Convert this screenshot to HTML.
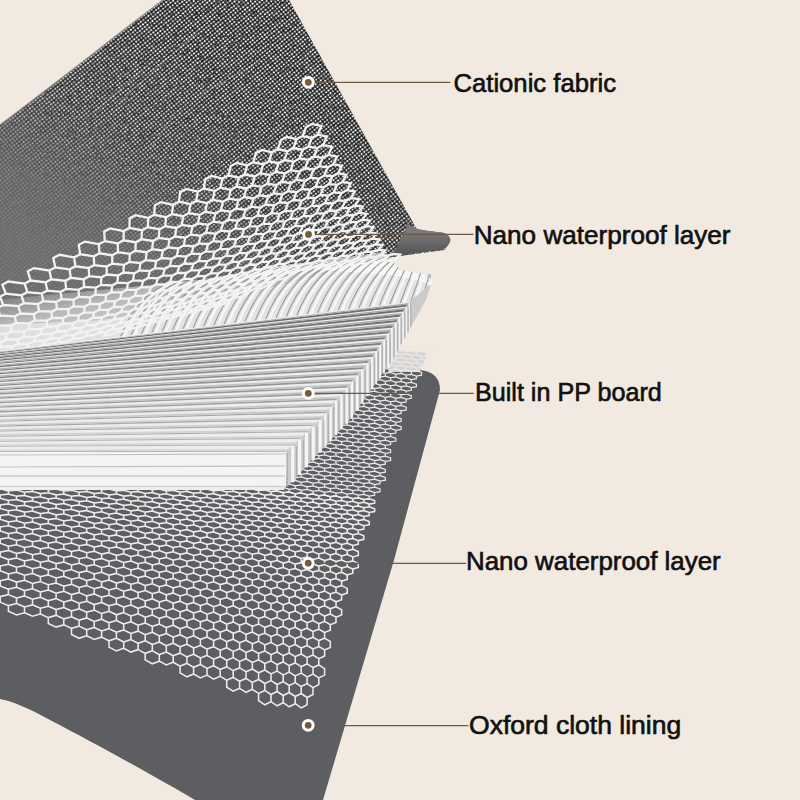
<!DOCTYPE html>
<html><head><meta charset="utf-8">
<style>
html,body{margin:0;padding:0;background:#f2eae1;}
svg{display:block;}
text{font-family:"Liberation Sans",sans-serif;font-size:26px;fill:#111;stroke:#111;stroke-width:0.65px;}
</style></head>
<body>
<svg width="800" height="800" viewBox="0 0 800 800">
<defs>
  <clipPath id="fabClip"><path d="M0 125 C60 80 110 40 163 0 L289 0 L416 228 C418 230 420 231 428 231 L444 233 Q454 240 444 250 L392 257 L300 280 L200 305 L100 320 L-5 325 Z"/></clipPath>
  <clipPath id="curlClip"><path d="M-5 300 L100 290 L200 280 L280 266 L384 252 L400 270 L432 275 L432 291 L408.6 302 L-5 352 Z"/></clipPath>
  <clipPath id="ppTop"><path d="M-5 351 L409.6 302 L406.7 306.3 L403.3 311.3 L399.7 316.6 L396 322 L392.2 327.5 L388.3 333.2 L384.3 339 L380.3 344.8 L376.3 350.8 L372.2 356.7 L367.4 362.8 L362.3 368.9 L357.1 375.1 L351.9 381.3 L346.6 387.5 L341.3 393.8 L336 400.1 L330.6 406.5 L325.2 412.9 L319.8 419.4 L313 425.8 L306.1 432.3 L299.2 438.9 L292.4 445.4 L285.4 452 L284.4 490 L-5 490 Z"/></clipPath>
  <pattern id="dots" width="3.2" height="3.2" patternUnits="userSpaceOnUse" patternTransform="rotate(-38)">
    <rect x="0.5" y="0.6" width="2.2" height="2.0" rx="0.7" fill="#ffffff"/>
  </pattern>
  <filter id="dmod" x="0" y="0" width="460" height="330" filterUnits="userSpaceOnUse">
    <feTurbulence type="fractalNoise" baseFrequency="0.45" numOctaves="2" seed="5" result="n"/>
    <feColorMatrix in="n" type="matrix" values="0 0 0 0 1  0 0 0 0 1  0 0 0 0 1  3.2 0 0 0 -0.5" result="na"/>
    <feComposite in="SourceGraphic" in2="na" operator="in"/>
  </filter>
  <filter id="speck" x="0" y="0" width="460" height="330" filterUnits="userSpaceOnUse">
    <feTurbulence type="fractalNoise" baseFrequency="0.18" numOctaves="2" seed="11" result="t"/>
    <feColorMatrix in="t" type="matrix" values="0 0 0 0 0  0 0 0 0 0  0 0 0 0 0  -2.6 0 0 0 1.6"/>
  </filter>
  <linearGradient id="fabSmooth" gradientUnits="userSpaceOnUse" x1="260" y1="60" x2="120" y2="300">
    <stop offset="0" stop-color="#6e6e6e" stop-opacity="0"/>
    <stop offset="0.45" stop-color="#6e6e6e" stop-opacity="0.2"/>
    <stop offset="0.8" stop-color="#707070" stop-opacity="0.8"/>
    <stop offset="1" stop-color="#727272" stop-opacity="0.9"/>
  </linearGradient>
  <linearGradient id="lipGrad" gradientUnits="userSpaceOnUse" x1="0" y1="229" x2="0" y2="257">
    <stop offset="0" stop-color="#7c7c7c"/>
    <stop offset="0.4" stop-color="#6c6c6c"/>
    <stop offset="1" stop-color="#505050"/>
  </linearGradient>
  <linearGradient id="curlGrad" gradientUnits="userSpaceOnUse" x1="150" y1="255" x2="170" y2="340">
    <stop offset="0" stop-color="#d8d8d8" stop-opacity="0.0"/>
    <stop offset="0.4" stop-color="#d8d8d8" stop-opacity="0.7"/>
    <stop offset="1" stop-color="#e4e4e4" stop-opacity="0.95"/>
  </linearGradient>
</defs>

<rect width="800" height="800" fill="#f2eae1"/>

<!-- Oxford cloth lining -->
<path d="M-5 450 L380 368 L420 370 Q440 372 440 390 L394 560 L323 800 L195 800 C165 782 100 746 50 720 C30 709 12 701 0 699 Z" fill="#5d5e62"/>

<!-- lower mesh -->
<path d="M396 351 L428 352 L420 372 L388 372 Z" fill="#d8d5d0"/>
<path d="M395.8 345 401.1 346.8 401.1 349.4 395.8 350.3 390.6 348.5 390.6 345.9ZM406.2 345.9 411.3 347.6 411.3 350.3 406.2 351.2 401.1 349.4 401.1 346.8ZM416.4 346.7 421.5 348.5 421.5 351.2 416.4 352.1 411.3 350.3 411.3 347.6ZM426.5 347.6 431.5 349.3 431.5 352 426.5 352.9 421.5 351.2 421.5 348.5ZM380 347.6 385.3 349.4 385.3 352.1 380 353 374.6 351.2 374.6 348.5ZM390.6 348.5 395.8 350.3 395.8 353 390.6 353.9 385.3 352.1 385.3 349.4ZM401.1 349.4 406.2 351.2 406.2 353.9 401.1 354.8 395.8 353 395.8 350.3ZM411.3 350.3 416.4 352.1 416.4 354.7 411.3 355.6 406.2 353.9 406.2 351.2ZM421.5 351.2 426.5 352.9 426.5 355.6 421.5 356.5 416.4 354.7 416.4 352.1ZM374.6 351.2 380 353 380 355.6 374.6 356.5 369.2 354.7 369.2 352.1ZM385.3 352.1 390.6 353.9 390.6 356.5 385.3 357.4 380 355.6 380 353ZM395.8 353 401.1 354.8 401.1 357.4 395.8 358.3 390.6 356.5 390.6 353.9ZM406.2 353.9 411.3 355.6 411.3 358.3 406.2 359.2 401.1 357.4 401.1 354.8ZM416.4 354.7 421.5 356.5 421.5 359.2 416.4 360.1 411.3 358.3 411.3 355.6ZM369.2 354.7 374.6 356.5 374.6 359.2 369.2 360.1 363.8 358.3 363.8 355.6ZM380 355.6 385.3 357.4 385.3 360.1 380 361 374.6 359.2 374.6 356.5ZM390.6 356.5 395.8 358.3 395.8 361 390.6 361.9 385.3 360.1 385.3 357.4ZM401.1 357.4 406.2 359.2 406.2 361.9 401.1 362.8 395.8 361 395.8 358.3ZM411.3 358.3 416.4 360.1 416.4 362.7 411.3 363.6 406.2 361.9 406.2 359.2ZM421.5 359.2 426.5 360.9 426.5 363.6 421.5 364.5 416.4 362.7 416.4 360.1ZM352.8 357.3 358.3 359.1 358.3 361.8 352.8 362.7 347.2 360.8 347.2 358.2ZM363.8 358.3 369.2 360.1 369.2 362.7 363.8 363.6 358.3 361.8 358.3 359.1ZM374.6 359.2 380 361 380 363.6 374.6 364.5 369.2 362.7 369.2 360.1ZM385.3 360.1 390.6 361.9 390.6 364.5 385.3 365.4 380 363.6 380 361ZM395.8 361 401.1 362.8 401.1 365.4 395.8 366.3 390.6 364.5 390.6 361.9ZM406.2 361.9 411.3 363.6 411.3 366.3 406.2 367.2 401.1 365.4 401.1 362.8ZM416.4 362.7 421.5 364.5 421.5 367.2 416.4 368.1 411.3 366.3 411.3 363.6ZM347.2 360.8 352.8 362.7 352.8 365.3 347.2 366.2 341.6 364.4 341.6 361.7ZM358.3 361.8 363.8 363.6 363.8 366.3 358.3 367.1 352.8 365.3 352.8 362.7ZM369.2 362.7 374.6 364.5 374.6 367.2 369.2 368.1 363.8 366.3 363.8 363.6ZM380 363.6 385.3 365.4 385.3 368.1 380 369 374.6 367.2 374.6 364.5ZM390.6 364.5 395.8 366.3 395.8 369 390.6 369.9 385.3 368.1 385.3 365.4ZM401.1 365.4 406.2 367.2 406.2 369.9 401.1 370.8 395.8 369 395.8 366.3ZM411.3 366.3 416.4 368.1 416.4 370.7 411.3 371.6 406.2 369.9 406.2 367.2ZM330.3 363.4 336 365.2 336 367.9 330.3 368.7 324.6 366.9 324.6 364.3ZM341.6 364.4 347.2 366.2 347.2 368.8 341.6 369.7 336 367.9 336 365.2ZM352.8 365.3 358.3 367.1 358.3 369.8 352.8 370.7 347.2 368.8 347.2 366.2ZM363.8 366.3 369.2 368.1 369.2 370.7 363.8 371.6 358.3 369.8 358.3 367.1ZM374.6 367.2 380 369 380 371.6 374.6 372.5 369.2 370.7 369.2 368.1ZM385.3 368.1 390.6 369.9 390.6 372.5 385.3 373.4 380 371.6 380 369ZM395.8 369 401.1 370.8 401.1 373.4 395.8 374.3 390.6 372.5 390.6 369.9ZM406.2 369.9 411.3 371.6 411.3 374.3 406.2 375.2 401.1 373.4 401.1 370.8ZM416.4 370.7 421.5 372.5 421.5 375.2 416.4 376.1 411.3 374.3 411.3 371.6ZM324.6 366.9 330.3 368.7 330.3 371.4 324.6 372.3 318.8 370.4 318.8 367.8ZM336 367.9 341.6 369.7 341.6 372.4 336 373.2 330.3 371.4 330.3 368.7ZM347.2 368.8 352.8 370.7 352.8 373.3 347.2 374.2 341.6 372.4 341.6 369.7ZM358.3 369.8 363.8 371.6 363.8 374.3 358.3 375.1 352.8 373.3 352.8 370.7ZM369.2 370.7 374.6 372.5 374.6 375.2 369.2 376.1 363.8 374.3 363.8 371.6ZM380 371.6 385.3 373.4 385.3 376.1 380 377 374.6 375.2 374.6 372.5ZM390.6 372.5 395.8 374.3 395.8 377 390.6 377.9 385.3 376.1 385.3 373.4ZM401.1 373.4 406.2 375.2 406.2 377.9 401.1 378.8 395.8 377 395.8 374.3ZM411.3 374.3 416.4 376.1 416.4 378.7 411.3 379.6 406.2 377.9 406.2 375.2ZM307.1 369.4 313 371.3 313 373.9 307.1 374.8 301.2 372.9 301.2 370.3ZM318.8 370.4 324.6 372.3 324.6 374.9 318.8 375.8 313 373.9 313 371.3ZM330.3 371.4 336 373.2 336 375.9 330.3 376.7 324.6 374.9 324.6 372.3ZM341.6 372.4 347.2 374.2 347.2 376.8 341.6 377.7 336 375.9 336 373.2ZM352.8 373.3 358.3 375.1 358.3 377.8 352.8 378.7 347.2 376.8 347.2 374.2ZM363.8 374.3 369.2 376.1 369.2 378.7 363.8 379.6 358.3 377.8 358.3 375.1ZM374.6 375.2 380 377 380 379.6 374.6 380.5 369.2 378.7 369.2 376.1ZM385.3 376.1 390.6 377.9 390.6 380.5 385.3 381.4 380 379.6 380 377ZM395.8 377 401.1 378.8 401.1 381.4 395.8 382.3 390.6 380.5 390.6 377.9ZM406.2 377.9 411.3 379.6 411.3 382.3 406.2 383.2 401.1 381.4 401.1 378.8ZM301.2 372.9 307.1 374.8 307.1 377.4 301.2 378.3 295.2 376.4 295.2 373.8ZM313 373.9 318.8 375.8 318.8 378.4 313 379.3 307.1 377.4 307.1 374.8ZM324.6 374.9 330.3 376.7 330.3 379.4 324.6 380.3 318.8 378.4 318.8 375.8ZM336 375.9 341.6 377.7 341.6 380.4 336 381.2 330.3 379.4 330.3 376.7ZM347.2 376.8 352.8 378.7 352.8 381.3 347.2 382.2 341.6 380.4 341.6 377.7ZM358.3 377.8 363.8 379.6 363.8 382.3 358.3 383.1 352.8 381.3 352.8 378.7ZM369.2 378.7 374.6 380.5 374.6 383.2 369.2 384.1 363.8 382.3 363.8 379.6ZM380 379.6 385.3 381.4 385.3 384.1 380 385 374.6 383.2 374.6 380.5ZM390.6 380.5 395.8 382.3 395.8 385 390.6 385.9 385.3 384.1 385.3 381.4ZM401.1 381.4 406.2 383.2 406.2 385.9 401.1 386.8 395.8 385 395.8 382.3ZM411.3 382.3 416.4 384.1 416.4 386.7 411.3 387.6 406.2 385.9 406.2 383.2ZM295.2 376.4 301.2 378.3 301.2 380.9 295.2 381.8 289.2 379.9 289.2 377.3ZM307.1 377.4 313 379.3 313 381.9 307.1 382.8 301.2 380.9 301.2 378.3ZM318.8 378.4 324.6 380.3 324.6 382.9 318.8 383.8 313 381.9 313 379.3ZM330.3 379.4 336 381.2 336 383.9 330.3 384.7 324.6 382.9 324.6 380.3ZM341.6 380.4 347.2 382.2 347.2 384.8 341.6 385.7 336 383.9 336 381.2ZM352.8 381.3 358.3 383.1 358.3 385.8 352.8 386.7 347.2 384.8 347.2 382.2ZM363.8 382.3 369.2 384.1 369.2 386.7 363.8 387.6 358.3 385.8 358.3 383.1ZM374.6 383.2 380 385 380 387.6 374.6 388.5 369.2 386.7 369.2 384.1ZM385.3 384.1 390.6 385.9 390.6 388.5 385.3 389.4 380 387.6 380 385ZM395.8 385 401.1 386.8 401.1 389.4 395.8 390.3 390.6 388.5 390.6 385.9ZM406.2 385.9 411.3 387.6 411.3 390.3 406.2 391.2 401.1 389.4 401.1 386.8ZM277.1 378.9 283.2 380.7 283.2 383.4 277.1 384.2 271 382.4 271 379.7ZM289.2 379.9 295.2 381.8 295.2 384.4 289.2 385.3 283.2 383.4 283.2 380.7ZM301.2 380.9 307.1 382.8 307.1 385.4 301.2 386.3 295.2 384.4 295.2 381.8ZM313 381.9 318.8 383.8 318.8 386.4 313 387.3 307.1 385.4 307.1 382.8ZM324.6 382.9 330.3 384.7 330.3 387.4 324.6 388.3 318.8 386.4 318.8 383.8ZM336 383.9 341.6 385.7 341.6 388.4 336 389.2 330.3 387.4 330.3 384.7ZM347.2 384.8 352.8 386.7 352.8 389.3 347.2 390.2 341.6 388.4 341.6 385.7ZM358.3 385.8 363.8 387.6 363.8 390.3 358.3 391.1 352.8 389.3 352.8 386.7ZM369.2 386.7 374.6 388.5 374.6 391.2 369.2 392.1 363.8 390.3 363.8 387.6ZM380 387.6 385.3 389.4 385.3 392.1 380 393 374.6 391.2 374.6 388.5ZM390.6 388.5 395.8 390.3 395.8 393 390.6 393.9 385.3 392.1 385.3 389.4ZM401.1 389.4 406.2 391.2 406.2 393.9 401.1 394.8 395.8 393 395.8 390.3ZM271 382.4 277.1 384.2 277.1 386.9 271 387.7 264.8 385.8 264.8 383.2ZM283.2 383.4 289.2 385.3 289.2 387.9 283.2 388.7 277.1 386.9 277.1 384.2ZM295.2 384.4 301.2 386.3 301.2 388.9 295.2 389.8 289.2 387.9 289.2 385.3ZM307.1 385.4 313 387.3 313 389.9 307.1 390.8 301.2 388.9 301.2 386.3ZM318.8 386.4 324.6 388.3 324.6 390.9 318.8 391.8 313 389.9 313 387.3ZM330.3 387.4 336 389.2 336 391.9 330.3 392.7 324.6 390.9 324.6 388.3ZM341.6 388.4 347.2 390.2 347.2 392.8 341.6 393.7 336 391.9 336 389.2ZM352.8 389.3 358.3 391.1 358.3 393.8 352.8 394.7 347.2 392.8 347.2 390.2ZM363.8 390.3 369.2 392.1 369.2 394.7 363.8 395.6 358.3 393.8 358.3 391.1ZM374.6 391.2 380 393 380 395.6 374.6 396.5 369.2 394.7 369.2 392.1ZM385.3 392.1 390.6 393.9 390.6 396.5 385.3 397.4 380 395.6 380 393ZM395.8 393 401.1 394.8 401.1 397.4 395.8 398.3 390.6 396.5 390.6 393.9ZM406.2 393.9 411.3 395.6 411.3 398.3 406.2 399.2 401.1 397.4 401.1 394.8ZM264.8 385.8 271 387.7 271 390.4 264.8 391.2 258.6 389.3 258.6 386.6ZM277.1 386.9 283.2 388.7 283.2 391.4 277.1 392.2 271 390.4 271 387.7ZM289.2 387.9 295.2 389.8 295.2 392.4 289.2 393.3 283.2 391.4 283.2 388.7ZM301.2 388.9 307.1 390.8 307.1 393.4 301.2 394.3 295.2 392.4 295.2 389.8ZM313 389.9 318.8 391.8 318.8 394.4 313 395.3 307.1 393.4 307.1 390.8ZM324.6 390.9 330.3 392.7 330.3 395.4 324.6 396.3 318.8 394.4 318.8 391.8ZM336 391.9 341.6 393.7 341.6 396.4 336 397.2 330.3 395.4 330.3 392.7ZM347.2 392.8 352.8 394.7 352.8 397.3 347.2 398.2 341.6 396.4 341.6 393.7ZM358.3 393.8 363.8 395.6 363.8 398.3 358.3 399.1 352.8 397.3 352.8 394.7ZM369.2 394.7 374.6 396.5 374.6 399.2 369.2 400.1 363.8 398.3 363.8 395.6ZM380 395.6 385.3 397.4 385.3 400.1 380 401 374.6 399.2 374.6 396.5ZM390.6 396.5 395.8 398.3 395.8 401 390.6 401.9 385.3 400.1 385.3 397.4ZM401.1 397.4 406.2 399.2 406.2 401.9 401.1 402.8 395.8 401 395.8 398.3ZM246 388.2 252.3 390.1 252.3 392.8 246 393.6 239.6 391.7 239.6 389ZM258.6 389.3 264.8 391.2 264.8 393.8 258.6 394.6 252.3 392.8 252.3 390.1ZM271 390.4 277.1 392.2 277.1 394.9 271 395.7 264.8 393.8 264.8 391.2ZM283.2 391.4 289.2 393.3 289.2 395.9 283.2 396.7 277.1 394.9 277.1 392.2ZM295.2 392.4 301.2 394.3 301.2 396.9 295.2 397.8 289.2 395.9 289.2 393.3ZM307.1 393.4 313 395.3 313 397.9 307.1 398.8 301.2 396.9 301.2 394.3ZM318.8 394.4 324.6 396.3 324.6 398.9 318.8 399.8 313 397.9 313 395.3ZM330.3 395.4 336 397.2 336 399.9 330.3 400.7 324.6 398.9 324.6 396.3ZM341.6 396.4 347.2 398.2 347.2 400.8 341.6 401.7 336 399.9 336 397.2ZM352.8 397.3 358.3 399.1 358.3 401.8 352.8 402.7 347.2 400.8 347.2 398.2ZM363.8 398.3 369.2 400.1 369.2 402.7 363.8 403.6 358.3 401.8 358.3 399.1ZM374.6 399.2 380 401 380 403.6 374.6 404.5 369.2 402.7 369.2 400.1ZM385.3 400.1 390.6 401.9 390.6 404.5 385.3 405.4 380 403.6 380 401ZM395.8 401 401.1 402.8 401.1 405.4 395.8 406.3 390.6 404.5 390.6 401.9ZM239.6 391.7 246 393.6 246 396.2 239.6 397 233.2 395.2 233.2 392.5ZM252.3 392.8 258.6 394.6 258.6 397.3 252.3 398.1 246 396.2 246 393.6ZM264.8 393.8 271 395.7 271 398.4 264.8 399.2 258.6 397.3 258.6 394.6ZM277.1 394.9 283.2 396.7 283.2 399.4 277.1 400.2 271 398.4 271 395.7ZM289.2 395.9 295.2 397.8 295.2 400.4 289.2 401.3 283.2 399.4 283.2 396.7ZM301.2 396.9 307.1 398.8 307.1 401.4 301.2 402.3 295.2 400.4 295.2 397.8ZM313 397.9 318.8 399.8 318.8 402.4 313 403.3 307.1 401.4 307.1 398.8ZM324.6 398.9 330.3 400.7 330.3 403.4 324.6 404.3 318.8 402.4 318.8 399.8ZM336 399.9 341.6 401.7 341.6 404.4 336 405.2 330.3 403.4 330.3 400.7ZM347.2 400.8 352.8 402.7 352.8 405.3 347.2 406.2 341.6 404.4 341.6 401.7ZM358.3 401.8 363.8 403.6 363.8 406.3 358.3 407.1 352.8 405.3 352.8 402.7ZM369.2 402.7 374.6 404.5 374.6 407.2 369.2 408.1 363.8 406.3 363.8 403.6ZM380 403.6 385.3 405.4 385.3 408.1 380 409 374.6 407.2 374.6 404.5ZM390.6 404.5 395.8 406.3 395.8 409 390.6 409.9 385.3 408.1 385.3 405.4ZM401.1 405.4 406.2 407.2 406.2 409.9 401.1 410.8 395.8 409 395.8 406.3ZM233.2 395.2 239.6 397 239.6 399.7 233.2 400.5 226.7 398.6 226.7 395.9ZM246 396.2 252.3 398.1 252.3 400.8 246 401.6 239.6 399.7 239.6 397ZM258.6 397.3 264.8 399.2 264.8 401.8 258.6 402.6 252.3 400.8 252.3 398.1ZM271 398.4 277.1 400.2 277.1 402.9 271 403.7 264.8 401.8 264.8 399.2ZM283.2 399.4 289.2 401.3 289.2 403.9 283.2 404.7 277.1 402.9 277.1 400.2ZM295.2 400.4 301.2 402.3 301.2 404.9 295.2 405.8 289.2 403.9 289.2 401.3ZM307.1 401.4 313 403.3 313 405.9 307.1 406.8 301.2 404.9 301.2 402.3ZM318.8 402.4 324.6 404.3 324.6 406.9 318.8 407.8 313 405.9 313 403.3ZM330.3 403.4 336 405.2 336 407.9 330.3 408.7 324.6 406.9 324.6 404.3ZM341.6 404.4 347.2 406.2 347.2 408.8 341.6 409.7 336 407.9 336 405.2ZM352.8 405.3 358.3 407.1 358.3 409.8 352.8 410.7 347.2 408.8 347.2 406.2ZM363.8 406.3 369.2 408.1 369.2 410.7 363.8 411.6 358.3 409.8 358.3 407.1ZM374.6 407.2 380 409 380 411.6 374.6 412.5 369.2 410.7 369.2 408.1ZM385.3 408.1 390.6 409.9 390.6 412.5 385.3 413.4 380 411.6 380 409ZM395.8 409 401.1 410.8 401.1 413.4 395.8 414.3 390.6 412.5 390.6 409.9ZM213.6 397.5 220.2 399.4 220.2 402 213.6 402.8 207 400.9 207 398.3ZM226.7 398.6 233.2 400.5 233.2 403.2 226.7 403.9 220.2 402 220.2 399.4ZM239.6 399.7 246 401.6 246 404.2 239.6 405 233.2 403.2 233.2 400.5ZM252.3 400.8 258.6 402.6 258.6 405.3 252.3 406.1 246 404.2 246 401.6ZM264.8 401.8 271 403.7 271 406.4 264.8 407.2 258.6 405.3 258.6 402.6ZM277.1 402.9 283.2 404.7 283.2 407.4 277.1 408.2 271 406.4 271 403.7ZM289.2 403.9 295.2 405.8 295.2 408.4 289.2 409.3 283.2 407.4 283.2 404.7ZM301.2 404.9 307.1 406.8 307.1 409.4 301.2 410.3 295.2 408.4 295.2 405.8ZM313 405.9 318.8 407.8 318.8 410.4 313 411.3 307.1 409.4 307.1 406.8ZM324.6 406.9 330.3 408.7 330.3 411.4 324.6 412.3 318.8 410.4 318.8 407.8ZM336 407.9 341.6 409.7 341.6 412.4 336 413.2 330.3 411.4 330.3 408.7ZM347.2 408.8 352.8 410.7 352.8 413.3 347.2 414.2 341.6 412.4 341.6 409.7ZM358.3 409.8 363.8 411.6 363.8 414.3 358.3 415.1 352.8 413.3 352.8 410.7ZM369.2 410.7 374.6 412.5 374.6 415.2 369.2 416.1 363.8 414.3 363.8 411.6ZM380 411.6 385.3 413.4 385.3 416.1 380 417 374.6 415.2 374.6 412.5ZM390.6 412.5 395.8 414.3 395.8 417 390.6 417.9 385.3 416.1 385.3 413.4ZM207 400.9 213.6 402.8 213.6 405.5 207 406.3 200.4 404.4 200.4 401.7ZM220.2 402 226.7 403.9 226.7 406.6 220.2 407.4 213.6 405.5 213.6 402.8ZM233.2 403.2 239.6 405 239.6 407.7 233.2 408.5 226.7 406.6 226.7 403.9ZM246 404.2 252.3 406.1 252.3 408.8 246 409.6 239.6 407.7 239.6 405ZM258.6 405.3 264.8 407.2 264.8 409.8 258.6 410.6 252.3 408.8 252.3 406.1ZM271 406.4 277.1 408.2 277.1 410.9 271 411.7 264.8 409.8 264.8 407.2ZM283.2 407.4 289.2 409.3 289.2 411.9 283.2 412.7 277.1 410.9 277.1 408.2ZM295.2 408.4 301.2 410.3 301.2 412.9 295.2 413.8 289.2 411.9 289.2 409.3ZM307.1 409.4 313 411.3 313 413.9 307.1 414.8 301.2 412.9 301.2 410.3ZM318.8 410.4 324.6 412.3 324.6 414.9 318.8 415.8 313 413.9 313 411.3ZM330.3 411.4 336 413.2 336 415.9 330.3 416.7 324.6 414.9 324.6 412.3ZM341.6 412.4 347.2 414.2 347.2 416.8 341.6 417.7 336 415.9 336 413.2ZM352.8 413.3 358.3 415.1 358.3 417.8 352.8 418.7 347.2 416.8 347.2 414.2ZM363.8 414.3 369.2 416.1 369.2 418.7 363.8 419.6 358.3 417.8 358.3 415.1ZM374.6 415.2 380 417 380 419.6 374.6 420.5 369.2 418.7 369.2 416.1ZM385.3 416.1 390.6 417.9 390.6 420.5 385.3 421.4 380 419.6 380 417ZM395.8 417 401.1 418.8 401.1 421.4 395.8 422.3 390.6 420.5 390.6 417.9ZM200.4 404.4 207 406.3 207 408.9 200.4 409.7 193.6 407.8 193.6 405.1ZM213.6 405.5 220.2 407.4 220.2 410 213.6 410.8 207 408.9 207 406.3ZM226.7 406.6 233.2 408.5 233.2 411.2 226.7 411.9 220.2 410 220.2 407.4ZM239.6 407.7 246 409.6 246 412.2 239.6 413 233.2 411.2 233.2 408.5ZM252.3 408.8 258.6 410.6 258.6 413.3 252.3 414.1 246 412.2 246 409.6ZM264.8 409.8 271 411.7 271 414.4 264.8 415.2 258.6 413.3 258.6 410.6ZM277.1 410.9 283.2 412.7 283.2 415.4 277.1 416.2 271 414.4 271 411.7ZM289.2 411.9 295.2 413.8 295.2 416.4 289.2 417.3 283.2 415.4 283.2 412.7ZM301.2 412.9 307.1 414.8 307.1 417.4 301.2 418.3 295.2 416.4 295.2 413.8ZM313 413.9 318.8 415.8 318.8 418.4 313 419.3 307.1 417.4 307.1 414.8ZM324.6 414.9 330.3 416.7 330.3 419.4 324.6 420.3 318.8 418.4 318.8 415.8ZM336 415.9 341.6 417.7 341.6 420.4 336 421.2 330.3 419.4 330.3 416.7ZM347.2 416.8 352.8 418.7 352.8 421.3 347.2 422.2 341.6 420.4 341.6 417.7ZM358.3 417.8 363.8 419.6 363.8 422.3 358.3 423.1 352.8 421.3 352.8 418.7ZM369.2 418.7 374.6 420.5 374.6 423.2 369.2 424.1 363.8 422.3 363.8 419.6ZM380 419.6 385.3 421.4 385.3 424.1 380 425 374.6 423.2 374.6 420.5ZM390.6 420.5 395.8 422.3 395.8 425 390.6 425.9 385.3 424.1 385.3 421.4ZM180.1 406.6 186.9 408.6 186.9 411.2 180.1 412 173.2 410.1 173.2 407.4ZM193.6 407.8 200.4 409.7 200.4 412.4 193.6 413.1 186.9 411.2 186.9 408.6ZM207 408.9 213.6 410.8 213.6 413.5 207 414.3 200.4 412.4 200.4 409.7ZM220.2 410 226.7 411.9 226.7 414.6 220.2 415.4 213.6 413.5 213.6 410.8ZM233.2 411.2 239.6 413 239.6 415.7 233.2 416.5 226.7 414.6 226.7 411.9ZM246 412.2 252.3 414.1 252.3 416.8 246 417.6 239.6 415.7 239.6 413ZM258.6 413.3 264.8 415.2 264.8 417.8 258.6 418.6 252.3 416.8 252.3 414.1ZM271 414.4 277.1 416.2 277.1 418.9 271 419.7 264.8 417.8 264.8 415.2ZM283.2 415.4 289.2 417.3 289.2 419.9 283.2 420.7 277.1 418.9 277.1 416.2ZM295.2 416.4 301.2 418.3 301.2 420.9 295.2 421.8 289.2 419.9 289.2 417.3ZM307.1 417.4 313 419.3 313 421.9 307.1 422.8 301.2 420.9 301.2 418.3ZM318.8 418.4 324.6 420.3 324.6 422.9 318.8 423.8 313 421.9 313 419.3ZM330.3 419.4 336 421.2 336 423.9 330.3 424.7 324.6 422.9 324.6 420.3ZM341.6 420.4 347.2 422.2 347.2 424.8 341.6 425.7 336 423.9 336 421.2ZM352.8 421.3 358.3 423.1 358.3 425.8 352.8 426.7 347.2 424.8 347.2 422.2ZM363.8 422.3 369.2 424.1 369.2 426.7 363.8 427.6 358.3 425.8 358.3 423.1ZM374.6 423.2 380 425 380 427.6 374.6 428.5 369.2 426.7 369.2 424.1ZM385.3 424.1 390.6 425.9 390.6 428.5 385.3 429.4 380 427.6 380 425ZM395.8 425 401.1 426.8 401.1 429.4 395.8 430.3 390.6 428.5 390.6 425.9ZM173.2 410.1 180.1 412 180.1 414.6 173.2 415.4 166.3 413.5 166.3 410.8ZM186.9 411.2 193.6 413.1 193.6 415.8 186.9 416.6 180.1 414.6 180.1 412ZM200.4 412.4 207 414.3 207 416.9 200.4 417.7 193.6 415.8 193.6 413.1ZM213.6 413.5 220.2 415.4 220.2 418 213.6 418.8 207 416.9 207 414.3ZM226.7 414.6 233.2 416.5 233.2 419.2 226.7 419.9 220.2 418 220.2 415.4ZM239.6 415.7 246 417.6 246 420.2 239.6 421 233.2 419.2 233.2 416.5ZM252.3 416.8 258.6 418.6 258.6 421.3 252.3 422.1 246 420.2 246 417.6ZM264.8 417.8 271 419.7 271 422.4 264.8 423.2 258.6 421.3 258.6 418.6ZM277.1 418.9 283.2 420.7 283.2 423.4 277.1 424.2 271 422.4 271 419.7ZM289.2 419.9 295.2 421.8 295.2 424.4 289.2 425.3 283.2 423.4 283.2 420.7ZM301.2 420.9 307.1 422.8 307.1 425.4 301.2 426.3 295.2 424.4 295.2 421.8ZM313 421.9 318.8 423.8 318.8 426.4 313 427.3 307.1 425.4 307.1 422.8ZM324.6 422.9 330.3 424.7 330.3 427.4 324.6 428.3 318.8 426.4 318.8 423.8ZM336 423.9 341.6 425.7 341.6 428.4 336 429.2 330.3 427.4 330.3 424.7ZM347.2 424.8 352.8 426.7 352.8 429.3 347.2 430.2 341.6 428.4 341.6 425.7ZM358.3 425.8 363.8 427.6 363.8 430.3 358.3 431.1 352.8 429.3 352.8 426.7ZM369.2 426.7 374.6 428.5 374.6 431.2 369.2 432.1 363.8 430.3 363.8 427.6ZM380 427.6 385.3 429.4 385.3 432.1 380 433 374.6 431.2 374.6 428.5ZM390.6 428.5 395.8 430.3 395.8 433 390.6 433.9 385.3 432.1 385.3 429.4ZM166.3 413.5 173.2 415.4 173.2 418.1 166.3 418.8 159.3 416.9 159.3 414.2ZM180.1 414.6 186.9 416.6 186.9 419.2 180.1 420 173.2 418.1 173.2 415.4ZM193.6 415.8 200.4 417.7 200.4 420.4 193.6 421.1 186.9 419.2 186.9 416.6ZM207 416.9 213.6 418.8 213.6 421.5 207 422.3 200.4 420.4 200.4 417.7ZM220.2 418 226.7 419.9 226.7 422.6 220.2 423.4 213.6 421.5 213.6 418.8ZM233.2 419.2 239.6 421 239.6 423.7 233.2 424.5 226.7 422.6 226.7 419.9ZM246 420.2 252.3 422.1 252.3 424.8 246 425.6 239.6 423.7 239.6 421ZM258.6 421.3 264.8 423.2 264.8 425.8 258.6 426.6 252.3 424.8 252.3 422.1ZM271 422.4 277.1 424.2 277.1 426.9 271 427.7 264.8 425.8 264.8 423.2ZM283.2 423.4 289.2 425.3 289.2 427.9 283.2 428.7 277.1 426.9 277.1 424.2ZM295.2 424.4 301.2 426.3 301.2 428.9 295.2 429.8 289.2 427.9 289.2 425.3ZM307.1 425.4 313 427.3 313 429.9 307.1 430.8 301.2 428.9 301.2 426.3ZM318.8 426.4 324.6 428.3 324.6 430.9 318.8 431.8 313 429.9 313 427.3ZM330.3 427.4 336 429.2 336 431.9 330.3 432.7 324.6 430.9 324.6 428.3ZM341.6 428.4 347.2 430.2 347.2 432.8 341.6 433.7 336 431.9 336 429.2ZM352.8 429.3 358.3 431.1 358.3 433.8 352.8 434.7 347.2 432.8 347.2 430.2ZM363.8 430.3 369.2 432.1 369.2 434.7 363.8 435.6 358.3 433.8 358.3 431.1ZM374.6 431.2 380 433 380 435.6 374.6 436.5 369.2 434.7 369.2 432.1ZM385.3 432.1 390.6 433.9 390.6 436.5 385.3 437.4 380 435.6 380 433ZM159.3 416.9 166.3 418.8 166.3 421.5 159.3 422.2 152.3 420.3 152.3 417.6ZM173.2 418.1 180.1 420 180.1 422.6 173.2 423.4 166.3 421.5 166.3 418.8ZM186.9 419.2 193.6 421.1 193.6 423.8 186.9 424.6 180.1 422.6 180.1 420ZM200.4 420.4 207 422.3 207 424.9 200.4 425.7 193.6 423.8 193.6 421.1ZM213.6 421.5 220.2 423.4 220.2 426 213.6 426.8 207 424.9 207 422.3ZM226.7 422.6 233.2 424.5 233.2 427.2 226.7 427.9 220.2 426 220.2 423.4ZM239.6 423.7 246 425.6 246 428.2 239.6 429 233.2 427.2 233.2 424.5ZM252.3 424.8 258.6 426.6 258.6 429.3 252.3 430.1 246 428.2 246 425.6ZM264.8 425.8 271 427.7 271 430.4 264.8 431.2 258.6 429.3 258.6 426.6ZM277.1 426.9 283.2 428.7 283.2 431.4 277.1 432.2 271 430.4 271 427.7ZM289.2 427.9 295.2 429.8 295.2 432.4 289.2 433.3 283.2 431.4 283.2 428.7ZM301.2 428.9 307.1 430.8 307.1 433.4 301.2 434.3 295.2 432.4 295.2 429.8ZM313 429.9 318.8 431.8 318.8 434.4 313 435.3 307.1 433.4 307.1 430.8ZM324.6 430.9 330.3 432.7 330.3 435.4 324.6 436.3 318.8 434.4 318.8 431.8ZM336 431.9 341.6 433.7 341.6 436.4 336 437.2 330.3 435.4 330.3 432.7ZM347.2 432.8 352.8 434.7 352.8 437.3 347.2 438.2 341.6 436.4 341.6 433.7ZM358.3 433.8 363.8 435.6 363.8 438.3 358.3 439.1 352.8 437.3 352.8 434.7ZM369.2 434.7 374.6 436.5 374.6 439.2 369.2 440.1 363.8 438.3 363.8 435.6ZM380 435.6 385.3 437.4 385.3 440.1 380 441 374.6 439.2 374.6 436.5ZM390.6 436.5 395.8 438.3 395.8 441 390.6 441.9 385.3 440.1 385.3 437.4ZM138.1 419.1 145.2 421 145.2 423.7 138.1 424.4 130.9 422.5 130.9 419.8ZM152.3 420.3 159.3 422.2 159.3 424.9 152.3 425.6 145.2 423.7 145.2 421ZM166.3 421.5 173.2 423.4 173.2 426.1 166.3 426.8 159.3 424.9 159.3 422.2ZM180.1 422.6 186.9 424.6 186.9 427.2 180.1 428 173.2 426.1 173.2 423.4ZM193.6 423.8 200.4 425.7 200.4 428.4 193.6 429.1 186.9 427.2 186.9 424.6ZM207 424.9 213.6 426.8 213.6 429.5 207 430.3 200.4 428.4 200.4 425.7ZM220.2 426 226.7 427.9 226.7 430.6 220.2 431.4 213.6 429.5 213.6 426.8ZM233.2 427.2 239.6 429 239.6 431.7 233.2 432.5 226.7 430.6 226.7 427.9ZM246 428.2 252.3 430.1 252.3 432.8 246 433.6 239.6 431.7 239.6 429ZM258.6 429.3 264.8 431.2 264.8 433.8 258.6 434.6 252.3 432.8 252.3 430.1ZM271 430.4 277.1 432.2 277.1 434.9 271 435.7 264.8 433.8 264.8 431.2ZM283.2 431.4 289.2 433.3 289.2 435.9 283.2 436.7 277.1 434.9 277.1 432.2ZM295.2 432.4 301.2 434.3 301.2 436.9 295.2 437.8 289.2 435.9 289.2 433.3ZM307.1 433.4 313 435.3 313 437.9 307.1 438.8 301.2 436.9 301.2 434.3ZM318.8 434.4 324.6 436.3 324.6 438.9 318.8 439.8 313 437.9 313 435.3ZM330.3 435.4 336 437.2 336 439.9 330.3 440.7 324.6 438.9 324.6 436.3ZM341.6 436.4 347.2 438.2 347.2 440.8 341.6 441.7 336 439.9 336 437.2ZM352.8 437.3 358.3 439.1 358.3 441.8 352.8 442.7 347.2 440.8 347.2 438.2ZM363.8 438.3 369.2 440.1 369.2 442.7 363.8 443.6 358.3 441.8 358.3 439.1ZM374.6 439.2 380 441 380 443.6 374.6 444.5 369.2 442.7 369.2 440.1ZM385.3 440.1 390.6 441.9 390.6 444.5 385.3 445.4 380 443.6 380 441ZM130.9 422.5 138.1 424.4 138.1 427.1 130.9 427.8 123.7 425.8 123.7 423.2ZM145.2 423.7 152.3 425.6 152.3 428.3 145.2 429 138.1 427.1 138.1 424.4ZM159.3 424.9 166.3 426.8 166.3 429.5 159.3 430.2 152.3 428.3 152.3 425.6ZM173.2 426.1 180.1 428 180.1 430.6 173.2 431.4 166.3 429.5 166.3 426.8ZM186.9 427.2 193.6 429.1 193.6 431.8 186.9 432.6 180.1 430.6 180.1 428ZM200.4 428.4 207 430.3 207 432.9 200.4 433.7 193.6 431.8 193.6 429.1ZM213.6 429.5 220.2 431.4 220.2 434 213.6 434.8 207 432.9 207 430.3ZM226.7 430.6 233.2 432.5 233.2 435.2 226.7 435.9 220.2 434 220.2 431.4ZM239.6 431.7 246 433.6 246 436.2 239.6 437 233.2 435.2 233.2 432.5ZM252.3 432.8 258.6 434.6 258.6 437.3 252.3 438.1 246 436.2 246 433.6ZM264.8 433.8 271 435.7 271 438.4 264.8 439.2 258.6 437.3 258.6 434.6ZM277.1 434.9 283.2 436.7 283.2 439.4 277.1 440.2 271 438.4 271 435.7ZM289.2 435.9 295.2 437.8 295.2 440.4 289.2 441.3 283.2 439.4 283.2 436.7ZM301.2 436.9 307.1 438.8 307.1 441.4 301.2 442.3 295.2 440.4 295.2 437.8ZM313 437.9 318.8 439.8 318.8 442.4 313 443.3 307.1 441.4 307.1 438.8ZM324.6 438.9 330.3 440.7 330.3 443.4 324.6 444.3 318.8 442.4 318.8 439.8ZM336 439.9 341.6 441.7 341.6 444.4 336 445.2 330.3 443.4 330.3 440.7ZM347.2 440.8 352.8 442.7 352.8 445.3 347.2 446.2 341.6 444.4 341.6 441.7ZM358.3 441.8 363.8 443.6 363.8 446.3 358.3 447.1 352.8 445.3 352.8 442.7ZM369.2 442.7 374.6 444.5 374.6 447.2 369.2 448.1 363.8 446.3 363.8 443.6ZM380 443.6 385.3 445.4 385.3 448.1 380 449 374.6 447.2 374.6 444.5ZM123.7 425.8 130.9 427.8 130.9 430.5 123.7 431.2 116.4 429.2 116.4 426.6ZM138.1 427.1 145.2 429 145.2 431.7 138.1 432.4 130.9 430.5 130.9 427.8ZM152.3 428.3 159.3 430.2 159.3 432.9 152.3 433.6 145.2 431.7 145.2 429ZM166.3 429.5 173.2 431.4 173.2 434.1 166.3 434.8 159.3 432.9 159.3 430.2ZM180.1 430.6 186.9 432.6 186.9 435.2 180.1 436 173.2 434.1 173.2 431.4ZM193.6 431.8 200.4 433.7 200.4 436.4 193.6 437.1 186.9 435.2 186.9 432.6ZM207 432.9 213.6 434.8 213.6 437.5 207 438.3 200.4 436.4 200.4 433.7ZM220.2 434 226.7 435.9 226.7 438.6 220.2 439.4 213.6 437.5 213.6 434.8ZM233.2 435.2 239.6 437 239.6 439.7 233.2 440.5 226.7 438.6 226.7 435.9ZM246 436.2 252.3 438.1 252.3 440.8 246 441.6 239.6 439.7 239.6 437ZM258.6 437.3 264.8 439.2 264.8 441.8 258.6 442.6 252.3 440.8 252.3 438.1ZM271 438.4 277.1 440.2 277.1 442.9 271 443.7 264.8 441.8 264.8 439.2ZM283.2 439.4 289.2 441.3 289.2 443.9 283.2 444.7 277.1 442.9 277.1 440.2ZM295.2 440.4 301.2 442.3 301.2 444.9 295.2 445.8 289.2 443.9 289.2 441.3ZM307.1 441.4 313 443.3 313 445.9 307.1 446.8 301.2 444.9 301.2 442.3ZM318.8 442.4 324.6 444.3 324.6 446.9 318.8 447.8 313 445.9 313 443.3ZM330.3 443.4 336 445.2 336 447.9 330.3 448.7 324.6 446.9 324.6 444.3ZM341.6 444.4 347.2 446.2 347.2 448.8 341.6 449.7 336 447.9 336 445.2ZM352.8 445.3 358.3 447.1 358.3 449.8 352.8 450.7 347.2 448.8 347.2 446.2ZM363.8 446.3 369.2 448.1 369.2 450.7 363.8 451.6 358.3 449.8 358.3 447.1ZM374.6 447.2 380 449 380 451.6 374.6 452.5 369.2 450.7 369.2 448.1ZM385.3 448.1 390.6 449.9 390.6 452.5 385.3 453.4 380 451.6 380 449ZM116.4 429.2 123.7 431.2 123.7 433.8 116.4 434.6 109 432.6 109 429.9ZM130.9 430.5 138.1 432.4 138.1 435.1 130.9 435.8 123.7 433.8 123.7 431.2ZM145.2 431.7 152.3 433.6 152.3 436.3 145.2 437 138.1 435.1 138.1 432.4ZM159.3 432.9 166.3 434.8 166.3 437.5 159.3 438.2 152.3 436.3 152.3 433.6ZM173.2 434.1 180.1 436 180.1 438.6 173.2 439.4 166.3 437.5 166.3 434.8ZM186.9 435.2 193.6 437.1 193.6 439.8 186.9 440.6 180.1 438.6 180.1 436ZM200.4 436.4 207 438.3 207 440.9 200.4 441.7 193.6 439.8 193.6 437.1ZM213.6 437.5 220.2 439.4 220.2 442 213.6 442.8 207 440.9 207 438.3ZM226.7 438.6 233.2 440.5 233.2 443.2 226.7 443.9 220.2 442 220.2 439.4ZM239.6 439.7 246 441.6 246 444.2 239.6 445 233.2 443.2 233.2 440.5ZM252.3 440.8 258.6 442.6 258.6 445.3 252.3 446.1 246 444.2 246 441.6ZM264.8 441.8 271 443.7 271 446.4 264.8 447.2 258.6 445.3 258.6 442.6ZM277.1 442.9 283.2 444.7 283.2 447.4 277.1 448.2 271 446.4 271 443.7ZM289.2 443.9 295.2 445.8 295.2 448.4 289.2 449.3 283.2 447.4 283.2 444.7ZM301.2 444.9 307.1 446.8 307.1 449.4 301.2 450.3 295.2 448.4 295.2 445.8ZM313 445.9 318.8 447.8 318.8 450.4 313 451.3 307.1 449.4 307.1 446.8ZM324.6 446.9 330.3 448.7 330.3 451.4 324.6 452.3 318.8 450.4 318.8 447.8ZM336 447.9 341.6 449.7 341.6 452.4 336 453.2 330.3 451.4 330.3 448.7ZM347.2 448.8 352.8 450.7 352.8 453.3 347.2 454.2 341.6 452.4 341.6 449.7ZM358.3 449.8 363.8 451.6 363.8 454.3 358.3 455.1 352.8 453.3 352.8 450.7ZM369.2 450.7 374.6 452.5 374.6 455.2 369.2 456.1 363.8 454.3 363.8 451.6ZM380 451.6 385.3 453.4 385.3 456.1 380 457 374.6 455.2 374.6 452.5ZM94.2 431.3 101.6 433.3 101.6 436 94.2 436.7 86.7 434.7 86.7 432ZM109 432.6 116.4 434.6 116.4 437.2 109 437.9 101.6 436 101.6 433.3ZM123.7 433.8 130.9 435.8 130.9 438.5 123.7 439.2 116.4 437.2 116.4 434.6ZM138.1 435.1 145.2 437 145.2 439.7 138.1 440.4 130.9 438.5 130.9 435.8ZM152.3 436.3 159.3 438.2 159.3 440.9 152.3 441.6 145.2 439.7 145.2 437ZM166.3 437.5 173.2 439.4 173.2 442.1 166.3 442.8 159.3 440.9 159.3 438.2ZM180.1 438.6 186.9 440.6 186.9 443.2 180.1 444 173.2 442.1 173.2 439.4ZM193.6 439.8 200.4 441.7 200.4 444.4 193.6 445.1 186.9 443.2 186.9 440.6ZM207 440.9 213.6 442.8 213.6 445.5 207 446.3 200.4 444.4 200.4 441.7ZM220.2 442 226.7 443.9 226.7 446.6 220.2 447.4 213.6 445.5 213.6 442.8ZM233.2 443.2 239.6 445 239.6 447.7 233.2 448.5 226.7 446.6 226.7 443.9ZM246 444.2 252.3 446.1 252.3 448.8 246 449.6 239.6 447.7 239.6 445ZM258.6 445.3 264.8 447.2 264.8 449.8 258.6 450.6 252.3 448.8 252.3 446.1ZM271 446.4 277.1 448.2 277.1 450.9 271 451.7 264.8 449.8 264.8 447.2ZM283.2 447.4 289.2 449.3 289.2 451.9 283.2 452.7 277.1 450.9 277.1 448.2ZM295.2 448.4 301.2 450.3 301.2 452.9 295.2 453.8 289.2 451.9 289.2 449.3ZM307.1 449.4 313 451.3 313 453.9 307.1 454.8 301.2 452.9 301.2 450.3ZM318.8 450.4 324.6 452.3 324.6 454.9 318.8 455.8 313 453.9 313 451.3ZM330.3 451.4 336 453.2 336 455.9 330.3 456.7 324.6 454.9 324.6 452.3ZM341.6 452.4 347.2 454.2 347.2 456.8 341.6 457.7 336 455.9 336 453.2ZM352.8 453.3 358.3 455.1 358.3 457.8 352.8 458.7 347.2 456.8 347.2 454.2ZM363.8 454.3 369.2 456.1 369.2 458.7 363.8 459.6 358.3 457.8 358.3 455.1ZM374.6 455.2 380 457 380 459.6 374.6 460.5 369.2 458.7 369.2 456.1ZM385.3 456.1 390.6 457.9 390.6 460.5 385.3 461.4 380 459.6 380 457ZM86.7 434.7 94.2 436.7 94.2 439.3 86.7 440 79.1 438.1 79.1 435.4ZM101.6 436 109 437.9 109 440.6 101.6 441.3 94.2 439.3 94.2 436.7ZM116.4 437.2 123.7 439.2 123.7 441.8 116.4 442.6 109 440.6 109 437.9ZM130.9 438.5 138.1 440.4 138.1 443.1 130.9 443.8 123.7 441.8 123.7 439.2ZM145.2 439.7 152.3 441.6 152.3 444.3 145.2 445 138.1 443.1 138.1 440.4ZM159.3 440.9 166.3 442.8 166.3 445.5 159.3 446.2 152.3 444.3 152.3 441.6ZM173.2 442.1 180.1 444 180.1 446.6 173.2 447.4 166.3 445.5 166.3 442.8ZM186.9 443.2 193.6 445.1 193.6 447.8 186.9 448.6 180.1 446.6 180.1 444ZM200.4 444.4 207 446.3 207 448.9 200.4 449.7 193.6 447.8 193.6 445.1ZM213.6 445.5 220.2 447.4 220.2 450 213.6 450.8 207 448.9 207 446.3ZM226.7 446.6 233.2 448.5 233.2 451.2 226.7 451.9 220.2 450 220.2 447.4ZM239.6 447.7 246 449.6 246 452.2 239.6 453 233.2 451.2 233.2 448.5ZM252.3 448.8 258.6 450.6 258.6 453.3 252.3 454.1 246 452.2 246 449.6ZM264.8 449.8 271 451.7 271 454.4 264.8 455.2 258.6 453.3 258.6 450.6ZM277.1 450.9 283.2 452.7 283.2 455.4 277.1 456.2 271 454.4 271 451.7ZM289.2 451.9 295.2 453.8 295.2 456.4 289.2 457.3 283.2 455.4 283.2 452.7ZM301.2 452.9 307.1 454.8 307.1 457.4 301.2 458.3 295.2 456.4 295.2 453.8ZM313 453.9 318.8 455.8 318.8 458.4 313 459.3 307.1 457.4 307.1 454.8ZM324.6 454.9 330.3 456.7 330.3 459.4 324.6 460.3 318.8 458.4 318.8 455.8ZM336 455.9 341.6 457.7 341.6 460.4 336 461.2 330.3 459.4 330.3 456.7ZM347.2 456.8 352.8 458.7 352.8 461.3 347.2 462.2 341.6 460.4 341.6 457.7ZM358.3 457.8 363.8 459.6 363.8 462.3 358.3 463.1 352.8 461.3 352.8 458.7ZM369.2 458.7 374.6 460.5 374.6 463.2 369.2 464.1 363.8 462.3 363.8 459.6ZM380 459.6 385.3 461.4 385.3 464.1 380 465 374.6 463.2 374.6 460.5ZM79.1 438.1 86.7 440 86.7 442.7 79.1 443.4 71.5 441.4 71.5 438.7ZM94.2 439.3 101.6 441.3 101.6 444 94.2 444.7 86.7 442.7 86.7 440ZM109 440.6 116.4 442.6 116.4 445.2 109 445.9 101.6 444 101.6 441.3ZM123.7 441.8 130.9 443.8 130.9 446.5 123.7 447.2 116.4 445.2 116.4 442.6ZM138.1 443.1 145.2 445 145.2 447.7 138.1 448.4 130.9 446.5 130.9 443.8ZM152.3 444.3 159.3 446.2 159.3 448.9 152.3 449.6 145.2 447.7 145.2 445ZM166.3 445.5 173.2 447.4 173.2 450.1 166.3 450.8 159.3 448.9 159.3 446.2ZM180.1 446.6 186.9 448.6 186.9 451.2 180.1 452 173.2 450.1 173.2 447.4ZM193.6 447.8 200.4 449.7 200.4 452.4 193.6 453.1 186.9 451.2 186.9 448.6ZM207 448.9 213.6 450.8 213.6 453.5 207 454.3 200.4 452.4 200.4 449.7ZM220.2 450 226.7 451.9 226.7 454.6 220.2 455.4 213.6 453.5 213.6 450.8ZM233.2 451.2 239.6 453 239.6 455.7 233.2 456.5 226.7 454.6 226.7 451.9ZM246 452.2 252.3 454.1 252.3 456.8 246 457.6 239.6 455.7 239.6 453ZM258.6 453.3 264.8 455.2 264.8 457.8 258.6 458.6 252.3 456.8 252.3 454.1ZM271 454.4 277.1 456.2 277.1 458.9 271 459.7 264.8 457.8 264.8 455.2ZM283.2 455.4 289.2 457.3 289.2 459.9 283.2 460.7 277.1 458.9 277.1 456.2ZM295.2 456.4 301.2 458.3 301.2 460.9 295.2 461.8 289.2 459.9 289.2 457.3ZM307.1 457.4 313 459.3 313 461.9 307.1 462.8 301.2 460.9 301.2 458.3ZM318.8 458.4 324.6 460.3 324.6 462.9 318.8 463.8 313 461.9 313 459.3ZM330.3 459.4 336 461.2 336 463.9 330.3 464.7 324.6 462.9 324.6 460.3ZM341.6 460.4 347.2 462.2 347.2 464.8 341.6 465.7 336 463.9 336 461.2ZM352.8 461.3 358.3 463.1 358.3 465.8 352.8 466.7 347.2 464.8 347.2 462.2ZM363.8 462.3 369.2 464.1 369.2 466.7 363.8 467.6 358.3 465.8 358.3 463.1ZM374.6 463.2 380 465 380 467.6 374.6 468.5 369.2 466.7 369.2 464.1ZM71.5 441.4 79.1 443.4 79.1 446.1 71.5 446.7 63.8 444.8 63.8 442.1ZM86.7 442.7 94.2 444.7 94.2 447.3 86.7 448 79.1 446.1 79.1 443.4ZM101.6 444 109 445.9 109 448.6 101.6 449.3 94.2 447.3 94.2 444.7ZM116.4 445.2 123.7 447.2 123.7 449.8 116.4 450.6 109 448.6 109 445.9ZM130.9 446.5 138.1 448.4 138.1 451.1 130.9 451.8 123.7 449.8 123.7 447.2ZM145.2 447.7 152.3 449.6 152.3 452.3 145.2 453 138.1 451.1 138.1 448.4ZM159.3 448.9 166.3 450.8 166.3 453.5 159.3 454.2 152.3 452.3 152.3 449.6ZM173.2 450.1 180.1 452 180.1 454.6 173.2 455.4 166.3 453.5 166.3 450.8ZM186.9 451.2 193.6 453.1 193.6 455.8 186.9 456.6 180.1 454.6 180.1 452ZM200.4 452.4 207 454.3 207 456.9 200.4 457.7 193.6 455.8 193.6 453.1ZM213.6 453.5 220.2 455.4 220.2 458 213.6 458.8 207 456.9 207 454.3ZM226.7 454.6 233.2 456.5 233.2 459.2 226.7 459.9 220.2 458 220.2 455.4ZM239.6 455.7 246 457.6 246 460.2 239.6 461 233.2 459.2 233.2 456.5ZM252.3 456.8 258.6 458.6 258.6 461.3 252.3 462.1 246 460.2 246 457.6ZM264.8 457.8 271 459.7 271 462.4 264.8 463.2 258.6 461.3 258.6 458.6ZM277.1 458.9 283.2 460.7 283.2 463.4 277.1 464.2 271 462.4 271 459.7ZM289.2 459.9 295.2 461.8 295.2 464.4 289.2 465.3 283.2 463.4 283.2 460.7ZM301.2 460.9 307.1 462.8 307.1 465.4 301.2 466.3 295.2 464.4 295.2 461.8ZM313 461.9 318.8 463.8 318.8 466.4 313 467.3 307.1 465.4 307.1 462.8ZM324.6 462.9 330.3 464.7 330.3 467.4 324.6 468.3 318.8 466.4 318.8 463.8ZM336 463.9 341.6 465.7 341.6 468.4 336 469.2 330.3 467.4 330.3 464.7ZM347.2 464.8 352.8 466.7 352.8 469.3 347.2 470.2 341.6 468.4 341.6 465.7ZM358.3 465.8 363.8 467.6 363.8 470.3 358.3 471.1 352.8 469.3 352.8 466.7ZM369.2 466.7 374.6 468.5 374.6 471.2 369.2 472.1 363.8 470.3 363.8 467.6ZM380 467.6 385.3 469.4 385.3 472.1 380 473 374.6 471.2 374.6 468.5ZM63.8 444.8 71.5 446.7 71.5 449.4 63.8 450.1 56.1 448.1 56.1 445.4ZM79.1 446.1 86.7 448 86.7 450.7 79.1 451.4 71.5 449.4 71.5 446.7ZM94.2 447.3 101.6 449.3 101.6 452 94.2 452.7 86.7 450.7 86.7 448ZM109 448.6 116.4 450.6 116.4 453.2 109 453.9 101.6 452 101.6 449.3ZM123.7 449.8 130.9 451.8 130.9 454.5 123.7 455.2 116.4 453.2 116.4 450.6ZM138.1 451.1 145.2 453 145.2 455.7 138.1 456.4 130.9 454.5 130.9 451.8ZM152.3 452.3 159.3 454.2 159.3 456.9 152.3 457.6 145.2 455.7 145.2 453ZM166.3 453.5 173.2 455.4 173.2 458.1 166.3 458.8 159.3 456.9 159.3 454.2ZM180.1 454.6 186.9 456.6 186.9 459.2 180.1 460 173.2 458.1 173.2 455.4ZM193.6 455.8 200.4 457.7 200.4 460.4 193.6 461.1 186.9 459.2 186.9 456.6ZM207 456.9 213.6 458.8 213.6 461.5 207 462.3 200.4 460.4 200.4 457.7ZM220.2 458 226.7 459.9 226.7 462.6 220.2 463.4 213.6 461.5 213.6 458.8ZM233.2 459.2 239.6 461 239.6 463.7 233.2 464.5 226.7 462.6 226.7 459.9ZM246 460.2 252.3 462.1 252.3 464.8 246 465.6 239.6 463.7 239.6 461ZM258.6 461.3 264.8 463.2 264.8 465.8 258.6 466.6 252.3 464.8 252.3 462.1ZM271 462.4 277.1 464.2 277.1 466.9 271 467.7 264.8 465.8 264.8 463.2ZM283.2 463.4 289.2 465.3 289.2 467.9 283.2 468.7 277.1 466.9 277.1 464.2ZM295.2 464.4 301.2 466.3 301.2 468.9 295.2 469.8 289.2 467.9 289.2 465.3ZM307.1 465.4 313 467.3 313 469.9 307.1 470.8 301.2 468.9 301.2 466.3ZM318.8 466.4 324.6 468.3 324.6 470.9 318.8 471.8 313 469.9 313 467.3ZM330.3 467.4 336 469.2 336 471.9 330.3 472.7 324.6 470.9 324.6 468.3ZM341.6 468.4 347.2 470.2 347.2 472.8 341.6 473.7 336 471.9 336 469.2ZM352.8 469.3 358.3 471.1 358.3 473.8 352.8 474.7 347.2 472.8 347.2 470.2ZM363.8 470.3 369.2 472.1 369.2 474.7 363.8 475.6 358.3 473.8 358.3 471.1ZM374.6 471.2 380 473 380 475.6 374.6 476.5 369.2 474.7 369.2 472.1ZM56.1 448.1 63.8 450.1 63.8 452.8 56.1 453.4 48.3 451.4 48.3 448.8ZM71.5 449.4 79.1 451.4 79.1 454.1 71.5 454.7 63.8 452.8 63.8 450.1ZM86.7 450.7 94.2 452.7 94.2 455.3 86.7 456 79.1 454.1 79.1 451.4ZM101.6 452 109 453.9 109 456.6 101.6 457.3 94.2 455.3 94.2 452.7ZM116.4 453.2 123.7 455.2 123.7 457.8 116.4 458.6 109 456.6 109 453.9ZM130.9 454.5 138.1 456.4 138.1 459.1 130.9 459.8 123.7 457.8 123.7 455.2ZM145.2 455.7 152.3 457.6 152.3 460.3 145.2 461 138.1 459.1 138.1 456.4ZM159.3 456.9 166.3 458.8 166.3 461.5 159.3 462.2 152.3 460.3 152.3 457.6ZM173.2 458.1 180.1 460 180.1 462.6 173.2 463.4 166.3 461.5 166.3 458.8ZM186.9 459.2 193.6 461.1 193.6 463.8 186.9 464.6 180.1 462.6 180.1 460ZM200.4 460.4 207 462.3 207 464.9 200.4 465.7 193.6 463.8 193.6 461.1ZM213.6 461.5 220.2 463.4 220.2 466 213.6 466.8 207 464.9 207 462.3ZM226.7 462.6 233.2 464.5 233.2 467.2 226.7 467.9 220.2 466 220.2 463.4ZM239.6 463.7 246 465.6 246 468.2 239.6 469 233.2 467.2 233.2 464.5ZM252.3 464.8 258.6 466.6 258.6 469.3 252.3 470.1 246 468.2 246 465.6ZM264.8 465.8 271 467.7 271 470.4 264.8 471.2 258.6 469.3 258.6 466.6ZM277.1 466.9 283.2 468.7 283.2 471.4 277.1 472.2 271 470.4 271 467.7ZM289.2 467.9 295.2 469.8 295.2 472.4 289.2 473.3 283.2 471.4 283.2 468.7ZM301.2 468.9 307.1 470.8 307.1 473.4 301.2 474.3 295.2 472.4 295.2 469.8ZM313 469.9 318.8 471.8 318.8 474.4 313 475.3 307.1 473.4 307.1 470.8ZM324.6 470.9 330.3 472.7 330.3 475.4 324.6 476.3 318.8 474.4 318.8 471.8ZM336 471.9 341.6 473.7 341.6 476.4 336 477.2 330.3 475.4 330.3 472.7ZM347.2 472.8 352.8 474.7 352.8 477.3 347.2 478.2 341.6 476.4 341.6 473.7ZM358.3 473.8 363.8 475.6 363.8 478.3 358.3 479.1 352.8 477.3 352.8 474.7ZM369.2 474.7 374.6 476.5 374.6 479.2 369.2 480.1 363.8 478.3 363.8 475.6ZM380 475.6 385.3 477.4 385.3 480.1 380 481 374.6 479.2 374.6 476.5ZM32.5 450.1 40.4 452.1 40.4 454.8 32.5 455.4 24.5 453.4 24.5 450.8ZM48.3 451.4 56.1 453.4 56.1 456.1 48.3 456.8 40.4 454.8 40.4 452.1ZM63.8 452.8 71.5 454.7 71.5 457.4 63.8 458.1 56.1 456.1 56.1 453.4ZM79.1 454.1 86.7 456 86.7 458.7 79.1 459.4 71.5 457.4 71.5 454.7ZM94.2 455.3 101.6 457.3 101.6 460 94.2 460.7 86.7 458.7 86.7 456ZM109 456.6 116.4 458.6 116.4 461.2 109 461.9 101.6 460 101.6 457.3ZM123.7 457.8 130.9 459.8 130.9 462.5 123.7 463.2 116.4 461.2 116.4 458.6ZM138.1 459.1 145.2 461 145.2 463.7 138.1 464.4 130.9 462.5 130.9 459.8ZM152.3 460.3 159.3 462.2 159.3 464.9 152.3 465.6 145.2 463.7 145.2 461ZM166.3 461.5 173.2 463.4 173.2 466.1 166.3 466.8 159.3 464.9 159.3 462.2ZM180.1 462.6 186.9 464.6 186.9 467.2 180.1 468 173.2 466.1 173.2 463.4ZM193.6 463.8 200.4 465.7 200.4 468.4 193.6 469.1 186.9 467.2 186.9 464.6ZM207 464.9 213.6 466.8 213.6 469.5 207 470.3 200.4 468.4 200.4 465.7ZM220.2 466 226.7 467.9 226.7 470.6 220.2 471.4 213.6 469.5 213.6 466.8ZM233.2 467.2 239.6 469 239.6 471.7 233.2 472.5 226.7 470.6 226.7 467.9ZM246 468.2 252.3 470.1 252.3 472.8 246 473.6 239.6 471.7 239.6 469ZM258.6 469.3 264.8 471.2 264.8 473.8 258.6 474.6 252.3 472.8 252.3 470.1ZM271 470.4 277.1 472.2 277.1 474.9 271 475.7 264.8 473.8 264.8 471.2ZM283.2 471.4 289.2 473.3 289.2 475.9 283.2 476.7 277.1 474.9 277.1 472.2ZM295.2 472.4 301.2 474.3 301.2 476.9 295.2 477.8 289.2 475.9 289.2 473.3ZM307.1 473.4 313 475.3 313 477.9 307.1 478.8 301.2 476.9 301.2 474.3ZM318.8 474.4 324.6 476.3 324.6 478.9 318.8 479.8 313 477.9 313 475.3ZM330.3 475.4 336 477.2 336 479.9 330.3 480.7 324.6 478.9 324.6 476.3ZM341.6 476.4 347.2 478.2 347.2 480.8 341.6 481.7 336 479.9 336 477.2ZM352.8 477.3 358.3 479.1 358.3 481.8 352.8 482.7 347.2 480.8 347.2 478.2ZM363.8 478.3 369.2 480.1 369.2 482.7 363.8 483.6 358.3 481.8 358.3 479.1ZM374.6 479.2 380 481 380 483.6 374.6 484.5 369.2 482.7 369.2 480.1ZM24.5 453.4 32.5 455.4 32.5 458.1 24.5 458.8 16.5 456.7 16.5 454.1ZM40.4 454.8 48.3 456.8 48.3 459.4 40.4 460.1 32.5 458.1 32.5 455.4ZM56.1 456.1 63.8 458.1 63.8 460.8 56.1 461.4 48.3 459.4 48.3 456.8ZM71.5 457.4 79.1 459.4 79.1 462.1 71.5 462.7 63.8 460.8 63.8 458.1ZM86.7 458.7 94.2 460.7 94.2 463.3 86.7 464 79.1 462.1 79.1 459.4ZM101.6 460 109 461.9 109 464.6 101.6 465.3 94.2 463.3 94.2 460.7ZM116.4 461.2 123.7 463.2 123.7 465.8 116.4 466.6 109 464.6 109 461.9ZM130.9 462.5 138.1 464.4 138.1 467.1 130.9 467.8 123.7 465.8 123.7 463.2ZM145.2 463.7 152.3 465.6 152.3 468.3 145.2 469 138.1 467.1 138.1 464.4ZM159.3 464.9 166.3 466.8 166.3 469.5 159.3 470.2 152.3 468.3 152.3 465.6ZM173.2 466.1 180.1 468 180.1 470.6 173.2 471.4 166.3 469.5 166.3 466.8ZM186.9 467.2 193.6 469.1 193.6 471.8 186.9 472.6 180.1 470.6 180.1 468ZM200.4 468.4 207 470.3 207 472.9 200.4 473.7 193.6 471.8 193.6 469.1ZM213.6 469.5 220.2 471.4 220.2 474 213.6 474.8 207 472.9 207 470.3ZM226.7 470.6 233.2 472.5 233.2 475.2 226.7 475.9 220.2 474 220.2 471.4ZM239.6 471.7 246 473.6 246 476.2 239.6 477 233.2 475.2 233.2 472.5ZM252.3 472.8 258.6 474.6 258.6 477.3 252.3 478.1 246 476.2 246 473.6ZM264.8 473.8 271 475.7 271 478.4 264.8 479.2 258.6 477.3 258.6 474.6ZM277.1 474.9 283.2 476.7 283.2 479.4 277.1 480.2 271 478.4 271 475.7ZM289.2 475.9 295.2 477.8 295.2 480.4 289.2 481.3 283.2 479.4 283.2 476.7ZM301.2 476.9 307.1 478.8 307.1 481.4 301.2 482.3 295.2 480.4 295.2 477.8ZM313 477.9 318.8 479.8 318.8 482.4 313 483.3 307.1 481.4 307.1 478.8ZM324.6 478.9 330.3 480.7 330.3 483.4 324.6 484.3 318.8 482.4 318.8 479.8ZM336 479.9 341.6 481.7 341.6 484.4 336 485.2 330.3 483.4 330.3 480.7ZM347.2 480.8 352.8 482.7 352.8 485.3 347.2 486.2 341.6 484.4 341.6 481.7ZM358.3 481.8 363.8 483.6 363.8 486.3 358.3 487.1 352.8 485.3 352.8 482.7ZM369.2 482.7 374.6 484.5 374.6 487.2 369.2 488.1 363.8 486.3 363.8 483.6ZM16.5 456.7 24.5 458.8 24.5 461.4 16.5 462.1 8.4 460 8.4 457.4ZM32.5 458.1 40.4 460.1 40.4 462.8 32.5 463.4 24.5 461.4 24.5 458.8ZM48.3 459.4 56.1 461.4 56.1 464.1 48.3 464.8 40.4 462.8 40.4 460.1ZM63.8 460.8 71.5 462.7 71.5 465.4 63.8 466.1 56.1 464.1 56.1 461.4ZM79.1 462.1 86.7 464 86.7 466.7 79.1 467.4 71.5 465.4 71.5 462.7ZM94.2 463.3 101.6 465.3 101.6 468 94.2 468.7 86.7 466.7 86.7 464ZM109 464.6 116.4 466.6 116.4 469.2 109 469.9 101.6 468 101.6 465.3ZM123.7 465.8 130.9 467.8 130.9 470.5 123.7 471.2 116.4 469.2 116.4 466.6ZM138.1 467.1 145.2 469 145.2 471.7 138.1 472.4 130.9 470.5 130.9 467.8ZM152.3 468.3 159.3 470.2 159.3 472.9 152.3 473.6 145.2 471.7 145.2 469ZM166.3 469.5 173.2 471.4 173.2 474.1 166.3 474.8 159.3 472.9 159.3 470.2ZM180.1 470.6 186.9 472.6 186.9 475.2 180.1 476 173.2 474.1 173.2 471.4ZM193.6 471.8 200.4 473.7 200.4 476.4 193.6 477.1 186.9 475.2 186.9 472.6ZM207 472.9 213.6 474.8 213.6 477.5 207 478.3 200.4 476.4 200.4 473.7ZM220.2 474 226.7 475.9 226.7 478.6 220.2 479.4 213.6 477.5 213.6 474.8ZM233.2 475.2 239.6 477 239.6 479.7 233.2 480.5 226.7 478.6 226.7 475.9ZM246 476.2 252.3 478.1 252.3 480.8 246 481.6 239.6 479.7 239.6 477ZM258.6 477.3 264.8 479.2 264.8 481.8 258.6 482.6 252.3 480.8 252.3 478.1ZM271 478.4 277.1 480.2 277.1 482.9 271 483.7 264.8 481.8 264.8 479.2ZM283.2 479.4 289.2 481.3 289.2 483.9 283.2 484.7 277.1 482.9 277.1 480.2ZM295.2 480.4 301.2 482.3 301.2 484.9 295.2 485.8 289.2 483.9 289.2 481.3ZM307.1 481.4 313 483.3 313 485.9 307.1 486.8 301.2 484.9 301.2 482.3ZM318.8 482.4 324.6 484.3 324.6 486.9 318.8 487.8 313 485.9 313 483.3ZM330.3 483.4 336 485.2 336 487.9 330.3 488.7 324.6 486.9 324.6 484.3ZM341.6 484.4 347.2 486.2 347.2 488.8 341.6 489.7 336 487.9 336 485.2ZM352.8 485.3 358.3 487.1 358.3 489.8 352.8 490.7 347.2 488.8 347.2 486.2ZM363.8 486.3 369.2 488.1 369.2 490.7 363.8 491.6 358.3 489.8 358.3 487.1ZM374.6 487.2 380 489 380 491.6 374.6 492.5 369.2 490.7 369.2 488.1ZM8.4 460 16.5 462.1 16.5 464.7 8.4 465.4 0.2 463.4 0.2 460.7ZM24.5 461.4 32.5 463.4 32.5 466.1 24.5 466.8 16.5 464.7 16.5 462.1ZM40.4 462.8 48.3 464.8 48.3 467.4 40.4 468.1 32.5 466.1 32.5 463.4ZM56.1 464.1 63.8 466.1 63.8 468.8 56.1 469.4 48.3 467.4 48.3 464.8ZM71.5 465.4 79.1 467.4 79.1 470.1 71.5 470.7 63.8 468.8 63.8 466.1ZM86.7 466.7 94.2 468.7 94.2 471.3 86.7 472 79.1 470.1 79.1 467.4ZM101.6 468 109 469.9 109 472.6 101.6 473.3 94.2 471.3 94.2 468.7ZM116.4 469.2 123.7 471.2 123.7 473.8 116.4 474.6 109 472.6 109 469.9ZM130.9 470.5 138.1 472.4 138.1 475.1 130.9 475.8 123.7 473.8 123.7 471.2ZM145.2 471.7 152.3 473.6 152.3 476.3 145.2 477 138.1 475.1 138.1 472.4ZM159.3 472.9 166.3 474.8 166.3 477.5 159.3 478.2 152.3 476.3 152.3 473.6ZM173.2 474.1 180.1 476 180.1 478.6 173.2 479.4 166.3 477.5 166.3 474.8ZM186.9 475.2 193.6 477.1 193.6 479.8 186.9 480.6 180.1 478.6 180.1 476ZM200.4 476.4 207 478.3 207 480.9 200.4 481.7 193.6 479.8 193.6 477.1ZM213.6 477.5 220.2 479.4 220.2 482 213.6 482.8 207 480.9 207 478.3ZM226.7 478.6 233.2 480.5 233.2 483.2 226.7 483.9 220.2 482 220.2 479.4ZM239.6 479.7 246 481.6 246 484.2 239.6 485 233.2 483.2 233.2 480.5ZM252.3 480.8 258.6 482.6 258.6 485.3 252.3 486.1 246 484.2 246 481.6ZM264.8 481.8 271 483.7 271 486.4 264.8 487.2 258.6 485.3 258.6 482.6ZM277.1 482.9 283.2 484.7 283.2 487.4 277.1 488.2 271 486.4 271 483.7ZM289.2 483.9 295.2 485.8 295.2 488.4 289.2 489.3 283.2 487.4 283.2 484.7ZM301.2 484.9 307.1 486.8 307.1 489.4 301.2 490.3 295.2 488.4 295.2 485.8ZM313 485.9 318.8 487.8 318.8 490.4 313 491.3 307.1 489.4 307.1 486.8ZM324.6 486.9 330.3 488.7 330.3 491.4 324.6 492.3 318.8 490.4 318.8 487.8ZM336 487.9 341.6 489.7 341.6 492.4 336 493.2 330.3 491.4 330.3 488.7ZM347.2 488.8 352.8 490.7 352.8 493.3 347.2 494.2 341.6 492.4 341.6 489.7ZM358.3 489.8 363.8 491.6 363.8 494.3 358.3 495.1 352.8 493.3 352.8 490.7ZM369.2 490.7 374.6 492.5 374.6 495.2 369.2 496.1 363.8 494.3 363.8 491.6ZM0.2 463.4 8.4 465.4 8.4 468 0.2 468.7 -8 466.7 -8 464ZM16.5 464.7 24.5 466.8 24.5 469.4 16.5 470.1 8.4 468 8.4 465.4ZM32.5 466.1 40.4 468.1 40.4 470.8 32.5 471.4 24.5 469.4 24.5 466.8ZM48.3 467.4 56.1 469.4 56.1 472.1 48.3 472.8 40.4 470.8 40.4 468.1ZM63.8 468.8 71.5 470.7 71.5 473.4 63.8 474.1 56.1 472.1 56.1 469.4ZM79.1 470.1 86.7 472 86.7 474.7 79.1 475.4 71.5 473.4 71.5 470.7ZM94.2 471.3 101.6 473.3 101.6 476 94.2 476.7 86.7 474.7 86.7 472ZM109 472.6 116.4 474.6 116.4 477.2 109 477.9 101.6 476 101.6 473.3ZM123.7 473.8 130.9 475.8 130.9 478.5 123.7 479.2 116.4 477.2 116.4 474.6ZM138.1 475.1 145.2 477 145.2 479.7 138.1 480.4 130.9 478.5 130.9 475.8ZM152.3 476.3 159.3 478.2 159.3 480.9 152.3 481.6 145.2 479.7 145.2 477ZM166.3 477.5 173.2 479.4 173.2 482.1 166.3 482.8 159.3 480.9 159.3 478.2ZM180.1 478.6 186.9 480.6 186.9 483.2 180.1 484 173.2 482.1 173.2 479.4ZM193.6 479.8 200.4 481.7 200.4 484.4 193.6 485.1 186.9 483.2 186.9 480.6ZM207 480.9 213.6 482.8 213.6 485.5 207 486.3 200.4 484.4 200.4 481.7ZM220.2 482 226.7 483.9 226.7 486.6 220.2 487.4 213.6 485.5 213.6 482.8ZM233.2 483.2 239.6 485 239.6 487.7 233.2 488.5 226.7 486.6 226.7 483.9ZM246 484.2 252.3 486.1 252.3 488.8 246 489.6 239.6 487.7 239.6 485ZM258.6 485.3 264.8 487.2 264.8 489.8 258.6 490.6 252.3 488.8 252.3 486.1ZM271 486.4 277.1 488.2 277.1 490.9 271 491.7 264.8 489.8 264.8 487.2ZM283.2 487.4 289.2 489.3 289.2 491.9 283.2 492.7 277.1 490.9 277.1 488.2ZM295.2 488.4 301.2 490.3 301.2 492.9 295.2 493.8 289.2 491.9 289.2 489.3ZM307.1 489.4 313 491.3 313 493.9 307.1 494.8 301.2 492.9 301.2 490.3ZM318.8 490.4 324.6 492.3 324.6 494.9 318.8 495.8 313 493.9 313 491.3ZM330.3 491.4 336 493.2 336 495.9 330.3 496.7 324.6 494.9 324.6 492.3ZM341.6 492.4 347.2 494.2 347.2 496.8 341.6 497.7 336 495.9 336 493.2ZM352.8 493.3 358.3 495.1 358.3 497.8 352.8 498.7 347.2 496.8 347.2 494.2ZM363.8 494.3 369.2 496.1 369.2 498.7 363.8 499.6 358.3 497.8 358.3 495.1Z" fill="none" stroke="#e8e8e8" stroke-width="1.25"/>
<path d="M-8 466.7 0.2 468.7 0.2 471.4 -8 472 -16.2 470 -16.2 467.3ZM8.4 468 16.5 470.1 16.5 472.7 8.4 473.4 0.2 471.4 0.2 468.7ZM24.5 469.4 32.5 471.4 32.5 474.1 24.5 474.8 16.5 472.7 16.5 470.1ZM40.4 470.8 48.3 472.8 48.3 475.4 40.4 476.1 32.5 474.1 32.5 471.4ZM56.1 472.1 63.8 474.1 63.8 476.8 56.1 477.5 48.3 475.4 48.3 472.8ZM71.5 473.4 79.1 475.4 79.1 478.1 71.5 478.8 63.8 476.8 63.8 474.1ZM86.7 474.7 94.2 476.7 94.2 479.3 86.7 480.1 79.1 478.1 79.1 475.4ZM101.6 476 109 477.9 109 480.6 101.6 481.3 94.2 479.3 94.2 476.7ZM116.4 477.2 123.7 479.2 123.7 481.9 116.4 482.6 109 480.6 109 477.9ZM130.9 478.5 138.1 480.4 138.1 483.1 130.9 483.8 123.7 481.9 123.7 479.2ZM145.2 479.7 152.3 481.6 152.3 484.3 145.2 485 138.1 483.1 138.1 480.4ZM159.3 480.9 166.3 482.8 166.3 485.5 159.3 486.2 152.3 484.3 152.3 481.6ZM173.2 482.1 180.1 484 180.1 486.6 173.2 487.4 166.3 485.5 166.3 482.8ZM186.9 483.2 193.6 485.1 193.6 487.8 186.9 488.6 180.1 486.6 180.1 484ZM200.4 484.4 207 486.3 207 488.9 200.4 489.7 193.6 487.8 193.6 485.1ZM213.6 485.5 220.2 487.4 220.2 490.1 213.6 490.9 207 488.9 207 486.3ZM226.7 486.6 233.2 488.5 233.2 491.2 226.7 492 220.2 490.1 220.2 487.4ZM239.6 487.7 246 489.6 246 492.2 239.6 493.1 233.2 491.2 233.2 488.5ZM252.3 488.8 258.6 490.6 258.6 493.3 252.3 494.1 246 492.2 246 489.6ZM264.8 489.8 271 491.7 271 494.4 264.8 495.2 258.6 493.3 258.6 490.6ZM277.1 490.9 283.2 492.7 283.2 495.4 277.1 496.2 271 494.4 271 491.7ZM289.2 491.9 295.2 493.8 295.2 496.4 289.2 497.3 283.2 495.4 283.2 492.7ZM301.2 492.9 307.1 494.8 307.1 497.4 301.2 498.3 295.2 496.4 295.2 493.8ZM313 493.9 318.8 495.8 318.8 498.4 313 499.3 307.1 497.4 307.1 494.8ZM324.6 494.9 330.3 496.7 330.3 499.4 324.6 500.3 318.8 498.4 318.8 495.8ZM336 495.9 341.6 497.7 341.6 500.4 336 501.3 330.3 499.4 330.3 496.7ZM347.2 496.8 352.8 498.7 352.8 501.3 347.2 502.2 341.6 500.4 341.6 497.7ZM358.3 497.8 363.8 499.6 363.8 502.3 358.3 503.2 352.8 501.3 352.8 498.7ZM369.2 498.7 374.6 500.5 374.6 503.2 369.2 504.1 363.8 502.3 363.8 499.6ZM-16.2 470 -8 472 -8 474.8 -16.2 475.5 -24.5 473.4 -24.5 470.6ZM0.2 471.4 8.4 473.4 8.4 476.2 0.2 476.9 -8 474.8 -8 472ZM16.5 472.7 24.5 474.8 24.5 477.5 16.5 478.3 8.4 476.2 8.4 473.4ZM32.5 474.1 40.4 476.1 40.4 478.9 32.5 479.6 24.5 477.5 24.5 474.8ZM48.3 475.4 56.1 477.5 56.1 480.2 48.3 481 40.4 478.9 40.4 476.1ZM63.8 476.8 71.5 478.8 71.5 481.5 63.8 482.3 56.1 480.2 56.1 477.5ZM79.1 478.1 86.7 480.1 86.7 482.8 79.1 483.6 71.5 481.5 71.5 478.8ZM94.2 479.3 101.6 481.3 101.6 484.1 94.2 484.9 86.7 482.8 86.7 480.1ZM109 480.6 116.4 482.6 116.4 485.3 109 486.1 101.6 484.1 101.6 481.3ZM123.7 481.9 130.9 483.8 130.9 486.6 123.7 487.4 116.4 485.3 116.4 482.6ZM138.1 483.1 145.2 485 145.2 487.8 138.1 488.6 130.9 486.6 130.9 483.8ZM152.3 484.3 159.3 486.2 159.3 489 152.3 489.8 145.2 487.8 145.2 485ZM166.3 485.5 173.2 487.4 173.2 490.2 166.3 491 159.3 489 159.3 486.2ZM180.1 486.6 186.9 488.6 186.9 491.3 180.1 492.2 173.2 490.2 173.2 487.4ZM193.6 487.8 200.4 489.7 200.4 492.5 193.6 493.3 186.9 491.3 186.9 488.6ZM207 488.9 213.6 490.9 213.6 493.6 207 494.5 200.4 492.5 200.4 489.7ZM220.2 490.1 226.7 492 226.7 494.7 220.2 495.6 213.6 493.6 213.6 490.9ZM233.2 491.2 239.6 493.1 239.6 495.8 233.2 496.7 226.7 494.7 226.7 492ZM246 492.2 252.3 494.1 252.3 496.9 246 497.8 239.6 495.8 239.6 493.1ZM258.6 493.3 264.8 495.2 264.8 498 258.6 498.8 252.3 496.9 252.3 494.1ZM271 494.4 277.1 496.2 277.1 499 271 499.9 264.8 498 264.8 495.2ZM283.2 495.4 289.2 497.3 289.2 500 283.2 500.9 277.1 499 277.1 496.2ZM295.2 496.4 301.2 498.3 301.2 501.1 295.2 501.9 289.2 500 289.2 497.3ZM307.1 497.4 313 499.3 313 502.1 307.1 503 301.2 501.1 301.2 498.3ZM318.8 498.4 324.6 500.3 324.6 503 318.8 503.9 313 502.1 313 499.3ZM330.3 499.4 336 501.3 336 504 330.3 504.9 324.6 503 324.6 500.3ZM341.6 500.4 347.2 502.2 347.2 505 341.6 505.9 336 504 336 501.3ZM352.8 501.3 358.3 503.2 358.3 505.9 352.8 506.8 347.2 505 347.2 502.2ZM363.8 502.3 369.2 504.1 369.2 506.8 363.8 507.8 358.3 505.9 358.3 503.2ZM-24.5 473.4 -16.2 475.5 -16.2 478.3 -24.5 479.1 -32.8 476.9 -32.8 474.1ZM-8 474.8 0.2 476.9 0.2 479.7 -8 480.5 -16.2 478.3 -16.2 475.5ZM8.4 476.2 16.5 478.3 16.5 481.1 8.4 481.9 0.2 479.7 0.2 476.9ZM24.5 477.5 32.5 479.6 32.5 482.5 24.5 483.2 16.5 481.1 16.5 478.3ZM40.4 478.9 48.3 481 48.3 483.8 40.4 484.6 32.5 482.5 32.5 479.6ZM56.1 480.2 63.8 482.3 63.8 485.1 56.1 485.9 48.3 483.8 48.3 481ZM71.5 481.5 79.1 483.6 79.1 486.4 71.5 487.2 63.8 485.1 63.8 482.3ZM86.7 482.8 94.2 484.9 94.2 487.7 86.7 488.5 79.1 486.4 79.1 483.6ZM101.6 484.1 109 486.1 109 489 101.6 489.8 94.2 487.7 94.2 484.9ZM116.4 485.3 123.7 487.4 123.7 490.2 116.4 491 109 489 109 486.1ZM130.9 486.6 138.1 488.6 138.1 491.4 130.9 492.3 123.7 490.2 123.7 487.4ZM145.2 487.8 152.3 489.8 152.3 492.6 145.2 493.5 138.1 491.4 138.1 488.6ZM159.3 489 166.3 491 166.3 493.8 159.3 494.7 152.3 492.6 152.3 489.8ZM173.2 490.2 180.1 492.2 180.1 495 173.2 495.9 166.3 493.8 166.3 491ZM186.9 491.3 193.6 493.3 193.6 496.2 186.9 497 180.1 495 180.1 492.2ZM200.4 492.5 207 494.5 207 497.3 200.4 498.2 193.6 496.2 193.6 493.3ZM213.6 493.6 220.2 495.6 220.2 498.4 213.6 499.3 207 497.3 207 494.5ZM226.7 494.7 233.2 496.7 233.2 499.5 226.7 500.4 220.2 498.4 220.2 495.6ZM239.6 495.8 246 497.8 246 500.6 239.6 501.5 233.2 499.5 233.2 496.7ZM252.3 496.9 258.6 498.8 258.6 501.7 252.3 502.6 246 500.6 246 497.8ZM264.8 498 271 499.9 271 502.7 264.8 503.7 258.6 501.7 258.6 498.8ZM277.1 499 283.2 500.9 283.2 503.8 277.1 504.7 271 502.7 271 499.9ZM289.2 500 295.2 501.9 295.2 504.8 289.2 505.7 283.2 503.8 283.2 500.9ZM301.2 501.1 307.1 503 307.1 505.8 301.2 506.8 295.2 504.8 295.2 501.9ZM313 502.1 318.8 503.9 318.8 506.8 313 507.8 307.1 505.8 307.1 503ZM324.6 503 330.3 504.9 330.3 507.8 324.6 508.7 318.8 506.8 318.8 503.9ZM336 504 341.6 505.9 341.6 508.7 336 509.7 330.3 507.8 330.3 504.9ZM347.2 505 352.8 506.8 352.8 509.7 347.2 510.7 341.6 508.7 341.6 505.9ZM358.3 505.9 363.8 507.8 363.8 510.6 358.3 511.6 352.8 509.7 352.8 506.8ZM369.2 506.8 374.6 508.7 374.6 511.5 369.2 512.5 363.8 510.6 363.8 507.8ZM-16.2 478.3 -8 480.5 -8 483.4 -16.2 484.2 -24.5 482 -24.5 479.1ZM0.2 479.7 8.4 481.9 8.4 484.8 0.2 485.6 -8 483.4 -8 480.5ZM16.5 481.1 24.5 483.2 24.5 486.2 16.5 487 8.4 484.8 8.4 481.9ZM32.5 482.5 40.4 484.6 40.4 487.5 32.5 488.4 24.5 486.2 24.5 483.2ZM48.3 483.8 56.1 485.9 56.1 488.9 48.3 489.7 40.4 487.5 40.4 484.6ZM63.8 485.1 71.5 487.2 71.5 490.2 63.8 491 56.1 488.9 56.1 485.9ZM79.1 486.4 86.7 488.5 86.7 491.5 79.1 492.3 71.5 490.2 71.5 487.2ZM94.2 487.7 101.6 489.8 101.6 492.7 94.2 493.6 86.7 491.5 86.7 488.5ZM109 489 116.4 491 116.4 494 109 494.9 101.6 492.7 101.6 489.8ZM123.7 490.2 130.9 492.3 130.9 495.2 123.7 496.1 116.4 494 116.4 491ZM138.1 491.4 145.2 493.5 145.2 496.4 138.1 497.3 130.9 495.2 130.9 492.3ZM152.3 492.6 159.3 494.7 159.3 497.6 152.3 498.5 145.2 496.4 145.2 493.5ZM166.3 493.8 173.2 495.9 173.2 498.8 166.3 499.7 159.3 497.6 159.3 494.7ZM180.1 495 186.9 497 186.9 500 180.1 500.9 173.2 498.8 173.2 495.9ZM193.6 496.2 200.4 498.2 200.4 501.1 193.6 502.1 186.9 500 186.9 497ZM207 497.3 213.6 499.3 213.6 502.3 207 503.2 200.4 501.1 200.4 498.2ZM220.2 498.4 226.7 500.4 226.7 503.4 220.2 504.3 213.6 502.3 213.6 499.3ZM233.2 499.5 239.6 501.5 239.6 504.5 233.2 505.4 226.7 503.4 226.7 500.4ZM246 500.6 252.3 502.6 252.3 505.5 246 506.5 239.6 504.5 239.6 501.5ZM258.6 501.7 264.8 503.7 264.8 506.6 258.6 507.6 252.3 505.5 252.3 502.6ZM271 502.7 277.1 504.7 277.1 507.6 271 508.6 264.8 506.6 264.8 503.7ZM283.2 503.8 289.2 505.7 289.2 508.7 283.2 509.7 277.1 507.6 277.1 504.7ZM295.2 504.8 301.2 506.8 301.2 509.7 295.2 510.7 289.2 508.7 289.2 505.7ZM307.1 505.8 313 507.8 313 510.7 307.1 511.7 301.2 509.7 301.2 506.8ZM318.8 506.8 324.6 508.7 324.6 511.7 318.8 512.7 313 510.7 313 507.8ZM330.3 507.8 336 509.7 336 512.7 330.3 513.7 324.6 511.7 324.6 508.7ZM341.6 508.7 347.2 510.7 347.2 513.6 341.6 514.6 336 512.7 336 509.7ZM352.8 509.7 358.3 511.6 358.3 514.6 352.8 515.6 347.2 513.6 347.2 510.7ZM363.8 510.6 369.2 512.5 369.2 515.5 363.8 516.5 358.3 514.6 358.3 511.6ZM-24.5 482 -16.2 484.2 -16.2 487.3 -24.5 488.1 -32.8 485.9 -32.8 482.8ZM-8 483.4 0.2 485.6 0.2 488.7 -8 489.5 -16.2 487.3 -16.2 484.2ZM8.4 484.8 16.5 487 16.5 490 8.4 490.9 0.2 488.7 0.2 485.6ZM24.5 486.2 32.5 488.4 32.5 491.4 24.5 492.3 16.5 490 16.5 487ZM40.4 487.5 48.3 489.7 48.3 492.7 40.4 493.6 32.5 491.4 32.5 488.4ZM56.1 488.9 63.8 491 63.8 494.1 56.1 494.9 48.3 492.7 48.3 489.7ZM71.5 490.2 79.1 492.3 79.1 495.4 71.5 496.3 63.8 494.1 63.8 491ZM86.7 491.5 94.2 493.6 94.2 496.6 86.7 497.5 79.1 495.4 79.1 492.3ZM101.6 492.7 109 494.9 109 497.9 101.6 498.8 94.2 496.6 94.2 493.6ZM116.4 494 123.7 496.1 123.7 499.1 116.4 500.1 109 497.9 109 494.9ZM130.9 495.2 138.1 497.3 138.1 500.4 130.9 501.3 123.7 499.1 123.7 496.1ZM145.2 496.4 152.3 498.5 152.3 501.6 145.2 502.5 138.1 500.4 138.1 497.3ZM159.3 497.6 166.3 499.7 166.3 502.8 159.3 503.7 152.3 501.6 152.3 498.5ZM173.2 498.8 180.1 500.9 180.1 503.9 173.2 504.9 166.3 502.8 166.3 499.7ZM186.9 500 193.6 502.1 193.6 505.1 186.9 506.1 180.1 503.9 180.1 500.9ZM200.4 501.1 207 503.2 207 506.2 200.4 507.2 193.6 505.1 193.6 502.1ZM213.6 502.3 220.2 504.3 220.2 507.4 213.6 508.3 207 506.2 207 503.2ZM226.7 503.4 233.2 505.4 233.2 508.5 226.7 509.5 220.2 507.4 220.2 504.3ZM239.6 504.5 246 506.5 246 509.5 239.6 510.5 233.2 508.5 233.2 505.4ZM252.3 505.5 258.6 507.6 258.6 510.6 252.3 511.6 246 509.5 246 506.5ZM264.8 506.6 271 508.6 271 511.7 264.8 512.7 258.6 510.6 258.6 507.6ZM277.1 507.6 283.2 509.7 283.2 512.7 277.1 513.7 271 511.7 271 508.6ZM289.2 508.7 295.2 510.7 295.2 513.7 289.2 514.8 283.2 512.7 283.2 509.7ZM301.2 509.7 307.1 511.7 307.1 514.7 301.2 515.8 295.2 513.7 295.2 510.7ZM313 510.7 318.8 512.7 318.8 515.7 313 516.8 307.1 514.7 307.1 511.7ZM324.6 511.7 330.3 513.7 330.3 516.7 324.6 517.8 318.8 515.7 318.8 512.7ZM336 512.7 341.6 514.6 341.6 517.7 336 518.7 330.3 516.7 330.3 513.7ZM347.2 513.6 352.8 515.6 352.8 518.6 347.2 519.7 341.6 517.7 341.6 514.6ZM358.3 514.6 363.8 516.5 363.8 519.6 358.3 520.6 352.8 518.6 352.8 515.6ZM-16.2 487.3 -8 489.5 -8 492.6 -16.2 493.5 -24.5 491.2 -24.5 488.1ZM0.2 488.7 8.4 490.9 8.4 494 0.2 494.9 -8 492.6 -8 489.5ZM16.5 490 24.5 492.3 24.5 495.4 16.5 496.3 8.4 494 8.4 490.9ZM32.5 491.4 40.4 493.6 40.4 496.8 32.5 497.7 24.5 495.4 24.5 492.3ZM48.3 492.7 56.1 494.9 56.1 498.1 48.3 499 40.4 496.8 40.4 493.6ZM63.8 494.1 71.5 496.3 71.5 499.4 63.8 500.3 56.1 498.1 56.1 494.9ZM79.1 495.4 86.7 497.5 86.7 500.7 79.1 501.6 71.5 499.4 71.5 496.3ZM94.2 496.6 101.6 498.8 101.6 502 94.2 502.9 86.7 500.7 86.7 497.5ZM109 497.9 116.4 500.1 116.4 503.2 109 504.2 101.6 502 101.6 498.8ZM123.7 499.1 130.9 501.3 130.9 504.5 123.7 505.4 116.4 503.2 116.4 500.1ZM138.1 500.4 145.2 502.5 145.2 505.7 138.1 506.7 130.9 504.5 130.9 501.3ZM152.3 501.6 159.3 503.7 159.3 506.9 152.3 507.9 145.2 505.7 145.2 502.5ZM166.3 502.8 173.2 504.9 173.2 508 166.3 509.1 159.3 506.9 159.3 503.7ZM180.1 503.9 186.9 506.1 186.9 509.2 180.1 510.2 173.2 508 173.2 504.9ZM193.6 505.1 200.4 507.2 200.4 510.4 193.6 511.4 186.9 509.2 186.9 506.1ZM207 506.2 213.6 508.3 213.6 511.5 207 512.5 200.4 510.4 200.4 507.2ZM220.2 507.4 226.7 509.5 226.7 512.6 220.2 513.6 213.6 511.5 213.6 508.3ZM233.2 508.5 239.6 510.5 239.6 513.7 233.2 514.7 226.7 512.6 226.7 509.5ZM246 509.5 252.3 511.6 252.3 514.8 246 515.8 239.6 513.7 239.6 510.5ZM258.6 510.6 264.8 512.7 264.8 515.8 258.6 516.9 252.3 514.8 252.3 511.6ZM271 511.7 277.1 513.7 277.1 516.9 271 518 264.8 515.8 264.8 512.7ZM283.2 512.7 289.2 514.8 289.2 517.9 283.2 519 277.1 516.9 277.1 513.7ZM295.2 513.7 301.2 515.8 301.2 518.9 295.2 520 289.2 517.9 289.2 514.8ZM307.1 514.7 313 516.8 313 519.9 307.1 521 301.2 518.9 301.2 515.8ZM318.8 515.7 324.6 517.8 324.6 520.9 318.8 522 313 519.9 313 516.8ZM330.3 516.7 336 518.7 336 521.9 330.3 523 324.6 520.9 324.6 517.8ZM341.6 517.7 347.2 519.7 347.2 522.8 341.6 524 336 521.9 336 518.7ZM352.8 518.6 358.3 520.6 358.3 523.8 352.8 524.9 347.2 522.8 347.2 519.7ZM363.8 519.6 369.2 521.6 369.2 524.7 363.8 525.8 358.3 523.8 358.3 520.6ZM-24.5 491.2 -16.2 493.5 -16.2 496.8 -24.5 497.7 -32.8 495.4 -32.8 492.1ZM-8 492.6 0.2 494.9 0.2 498.2 -8 499.1 -16.2 496.8 -16.2 493.5ZM8.4 494 16.5 496.3 16.5 499.6 8.4 500.5 0.2 498.2 0.2 494.9ZM24.5 495.4 32.5 497.7 32.5 500.9 24.5 501.9 16.5 499.6 16.5 496.3ZM40.4 496.8 48.3 499 48.3 502.3 40.4 503.3 32.5 500.9 32.5 497.7ZM56.1 498.1 63.8 500.3 63.8 503.6 56.1 504.6 48.3 502.3 48.3 499ZM71.5 499.4 79.1 501.6 79.1 504.9 71.5 505.9 63.8 503.6 63.8 500.3ZM86.7 500.7 94.2 502.9 94.2 506.2 86.7 507.2 79.1 504.9 79.1 501.6ZM101.6 502 109 504.2 109 507.4 101.6 508.5 94.2 506.2 94.2 502.9ZM116.4 503.2 123.7 505.4 123.7 508.7 116.4 509.7 109 507.4 109 504.2ZM130.9 504.5 138.1 506.7 138.1 509.9 130.9 511 123.7 508.7 123.7 505.4ZM145.2 505.7 152.3 507.9 152.3 511.1 145.2 512.2 138.1 509.9 138.1 506.7ZM159.3 506.9 166.3 509.1 166.3 512.3 159.3 513.4 152.3 511.1 152.3 507.9ZM173.2 508 180.1 510.2 180.1 513.5 173.2 514.5 166.3 512.3 166.3 509.1ZM186.9 509.2 193.6 511.4 193.6 514.6 186.9 515.7 180.1 513.5 180.1 510.2ZM200.4 510.4 207 512.5 207 515.8 200.4 516.9 193.6 514.6 193.6 511.4ZM213.6 511.5 220.2 513.6 220.2 516.9 213.6 518 207 515.8 207 512.5ZM226.7 512.6 233.2 514.7 233.2 518 226.7 519.1 220.2 516.9 220.2 513.6ZM239.6 513.7 246 515.8 246 519.1 239.6 520.2 233.2 518 233.2 514.7ZM252.3 514.8 258.6 516.9 258.6 520.2 252.3 521.3 246 519.1 246 515.8ZM264.8 515.8 271 518 271 521.2 264.8 522.3 258.6 520.2 258.6 516.9ZM277.1 516.9 283.2 519 283.2 522.2 277.1 523.4 271 521.2 271 518ZM289.2 517.9 295.2 520 295.2 523.3 289.2 524.4 283.2 522.2 283.2 519ZM301.2 518.9 307.1 521 307.1 524.3 301.2 525.4 295.2 523.3 295.2 520ZM313 519.9 318.8 522 318.8 525.3 313 526.4 307.1 524.3 307.1 521ZM324.6 520.9 330.3 523 330.3 526.2 324.6 527.4 318.8 525.3 318.8 522ZM336 521.9 341.6 524 341.6 527.2 336 528.4 330.3 526.2 330.3 523ZM347.2 522.8 352.8 524.9 352.8 528.2 347.2 529.3 341.6 527.2 341.6 524ZM358.3 523.8 363.8 525.8 363.8 529.1 358.3 530.3 352.8 528.2 352.8 524.9ZM-16.2 496.8 -8 499.1 -8 502.5 -16.2 503.5 -24.5 501.1 -24.5 497.7ZM0.2 498.2 8.4 500.5 8.4 503.9 0.2 504.9 -8 502.5 -8 499.1ZM16.5 499.6 24.5 501.9 24.5 505.3 16.5 506.3 8.4 503.9 8.4 500.5ZM32.5 500.9 40.4 503.3 40.4 506.6 32.5 507.7 24.5 505.3 24.5 501.9ZM48.3 502.3 56.1 504.6 56.1 508 48.3 509 40.4 506.6 40.4 503.3ZM63.8 503.6 71.5 505.9 71.5 509.3 63.8 510.3 56.1 508 56.1 504.6ZM79.1 504.9 86.7 507.2 86.7 510.6 79.1 511.6 71.5 509.3 71.5 505.9ZM94.2 506.2 101.6 508.5 101.6 511.8 94.2 512.9 86.7 510.6 86.7 507.2ZM109 507.4 116.4 509.7 116.4 513.1 109 514.2 101.6 511.8 101.6 508.5ZM123.7 508.7 130.9 511 130.9 514.3 123.7 515.4 116.4 513.1 116.4 509.7ZM138.1 509.9 145.2 512.2 145.2 515.5 138.1 516.6 130.9 514.3 130.9 511ZM152.3 511.1 159.3 513.4 159.3 516.7 152.3 517.8 145.2 515.5 145.2 512.2ZM166.3 512.3 173.2 514.5 173.2 517.9 166.3 519 159.3 516.7 159.3 513.4ZM180.1 513.5 186.9 515.7 186.9 519.1 180.1 520.2 173.2 517.9 173.2 514.5ZM193.6 514.6 200.4 516.9 200.4 520.2 193.6 521.4 186.9 519.1 186.9 515.7ZM207 515.8 213.6 518 213.6 521.3 207 522.5 200.4 520.2 200.4 516.9ZM220.2 516.9 226.7 519.1 226.7 522.5 220.2 523.6 213.6 521.3 213.6 518ZM233.2 518 239.6 520.2 239.6 523.6 233.2 524.7 226.7 522.5 226.7 519.1ZM246 519.1 252.3 521.3 252.3 524.6 246 525.8 239.6 523.6 239.6 520.2ZM258.6 520.2 264.8 522.3 264.8 525.7 258.6 526.9 252.3 524.6 252.3 521.3ZM271 521.2 277.1 523.4 277.1 526.7 271 527.9 264.8 525.7 264.8 522.3ZM283.2 522.2 289.2 524.4 289.2 527.8 283.2 529 277.1 526.7 277.1 523.4ZM295.2 523.3 301.2 525.4 301.2 528.8 295.2 530 289.2 527.8 289.2 524.4ZM307.1 524.3 313 526.4 313 529.8 307.1 531 301.2 528.8 301.2 525.4ZM318.8 525.3 324.6 527.4 324.6 530.8 318.8 532 313 529.8 313 526.4ZM330.3 526.2 336 528.4 336 531.7 330.3 533 324.6 530.8 324.6 527.4ZM341.6 527.2 347.2 529.3 347.2 532.7 341.6 533.9 336 531.7 336 528.4ZM352.8 528.2 358.3 530.3 358.3 533.6 352.8 534.9 347.2 532.7 347.2 529.3ZM-24.5 501.1 -16.2 503.5 -16.2 507 -24.5 508 -32.8 505.6 -32.8 502.1ZM-8 502.5 0.2 504.9 0.2 508.4 -8 509.5 -16.2 507 -16.2 503.5ZM8.4 503.9 16.5 506.3 16.5 509.8 8.4 510.8 0.2 508.4 0.2 504.9ZM24.5 505.3 32.5 507.7 32.5 511.1 24.5 512.2 16.5 509.8 16.5 506.3ZM40.4 506.6 48.3 509 48.3 512.5 40.4 513.6 32.5 511.1 32.5 507.7ZM56.1 508 63.8 510.3 63.8 513.8 56.1 514.9 48.3 512.5 48.3 509ZM71.5 509.3 79.1 511.6 79.1 515.1 71.5 516.2 63.8 513.8 63.8 510.3ZM86.7 510.6 94.2 512.9 94.2 516.4 86.7 517.5 79.1 515.1 79.1 511.6ZM101.6 511.8 109 514.2 109 517.6 101.6 518.8 94.2 516.4 94.2 512.9ZM116.4 513.1 123.7 515.4 123.7 518.9 116.4 520 109 517.6 109 514.2ZM130.9 514.3 138.1 516.6 138.1 520.1 130.9 521.3 123.7 518.9 123.7 515.4ZM145.2 515.5 152.3 517.8 152.3 521.3 145.2 522.5 138.1 520.1 138.1 516.6ZM159.3 516.7 166.3 519 166.3 522.5 159.3 523.7 152.3 521.3 152.3 517.8ZM173.2 517.9 180.1 520.2 180.1 523.7 173.2 524.9 166.3 522.5 166.3 519ZM186.9 519.1 193.6 521.4 193.6 524.8 186.9 526 180.1 523.7 180.1 520.2ZM200.4 520.2 207 522.5 207 526 200.4 527.2 193.6 524.8 193.6 521.4ZM213.6 521.3 220.2 523.6 220.2 527.1 213.6 528.3 207 526 207 522.5ZM226.7 522.5 233.2 524.7 233.2 528.2 226.7 529.4 220.2 527.1 220.2 523.6ZM239.6 523.6 246 525.8 246 529.3 239.6 530.5 233.2 528.2 233.2 524.7ZM252.3 524.6 258.6 526.9 258.6 530.3 252.3 531.6 246 529.3 246 525.8ZM264.8 525.7 271 527.9 271 531.4 264.8 532.6 258.6 530.3 258.6 526.9ZM277.1 526.7 283.2 529 283.2 532.4 277.1 533.7 271 531.4 271 527.9ZM289.2 527.8 295.2 530 295.2 533.5 289.2 534.7 283.2 532.4 283.2 529ZM301.2 528.8 307.1 531 307.1 534.5 301.2 535.7 295.2 533.5 295.2 530ZM313 529.8 318.8 532 318.8 535.5 313 536.7 307.1 534.5 307.1 531ZM324.6 530.8 330.3 533 330.3 536.4 324.6 537.7 318.8 535.5 318.8 532ZM336 531.7 341.6 533.9 341.6 537.4 336 538.7 330.3 536.4 330.3 533ZM347.2 532.7 352.8 534.9 352.8 538.4 347.2 539.6 341.6 537.4 341.6 533.9ZM358.3 533.6 363.8 535.8 363.8 539.3 358.3 540.6 352.8 538.4 352.8 534.9ZM-16.2 507 -8 509.5 -8 513 -16.2 514.2 -24.5 511.6 -24.5 508ZM0.2 508.4 8.4 510.8 8.4 514.4 0.2 515.6 -8 513 -8 509.5ZM16.5 509.8 24.5 512.2 24.5 515.8 16.5 516.9 8.4 514.4 8.4 510.8ZM32.5 511.1 40.4 513.6 40.4 517.2 32.5 518.3 24.5 515.8 24.5 512.2ZM48.3 512.5 56.1 514.9 56.1 518.5 48.3 519.6 40.4 517.2 40.4 513.6ZM63.8 513.8 71.5 516.2 71.5 519.8 63.8 521 56.1 518.5 56.1 514.9ZM79.1 515.1 86.7 517.5 86.7 521.1 79.1 522.3 71.5 519.8 71.5 516.2ZM94.2 516.4 101.6 518.8 101.6 522.4 94.2 523.6 86.7 521.1 86.7 517.5ZM109 517.6 116.4 520 116.4 523.6 109 524.8 101.6 522.4 101.6 518.8ZM123.7 518.9 130.9 521.3 130.9 524.8 123.7 526.1 116.4 523.6 116.4 520ZM138.1 520.1 145.2 522.5 145.2 526.1 138.1 527.3 130.9 524.8 130.9 521.3ZM152.3 521.3 159.3 523.7 159.3 527.3 152.3 528.5 145.2 526.1 145.2 522.5ZM166.3 522.5 173.2 524.9 173.2 528.4 166.3 529.7 159.3 527.3 159.3 523.7ZM180.1 523.7 186.9 526 186.9 529.6 180.1 530.9 173.2 528.4 173.2 524.9ZM193.6 524.8 200.4 527.2 200.4 530.8 193.6 532 186.9 529.6 186.9 526ZM207 526 213.6 528.3 213.6 531.9 207 533.1 200.4 530.8 200.4 527.2ZM220.2 527.1 226.7 529.4 226.7 533 220.2 534.3 213.6 531.9 213.6 528.3ZM233.2 528.2 239.6 530.5 239.6 534.1 233.2 535.4 226.7 533 226.7 529.4ZM246 529.3 252.3 531.6 252.3 535.2 246 536.5 239.6 534.1 239.6 530.5ZM258.6 530.3 264.8 532.6 264.8 536.2 258.6 537.5 252.3 535.2 252.3 531.6ZM271 531.4 277.1 533.7 277.1 537.3 271 538.6 264.8 536.2 264.8 532.6ZM283.2 532.4 289.2 534.7 289.2 538.3 283.2 539.6 277.1 537.3 277.1 533.7ZM295.2 533.5 301.2 535.7 301.2 539.3 295.2 540.6 289.2 538.3 289.2 534.7ZM307.1 534.5 313 536.7 313 540.3 307.1 541.6 301.2 539.3 301.2 535.7ZM318.8 535.5 324.6 537.7 324.6 541.3 318.8 542.6 313 540.3 313 536.7ZM330.3 536.4 336 538.7 336 542.3 330.3 543.6 324.6 541.3 324.6 537.7ZM341.6 537.4 347.2 539.6 347.2 543.2 341.6 544.6 336 542.3 336 538.7ZM352.8 538.4 358.3 540.6 358.3 544.2 352.8 545.5 347.2 543.2 347.2 539.6ZM-24.5 511.6 -16.2 514.2 -16.2 517.9 -24.5 519.1 -32.8 516.5 -32.8 512.8ZM-8 513 0.2 515.6 0.2 519.3 -8 520.5 -16.2 517.9 -16.2 514.2ZM8.4 514.4 16.5 516.9 16.5 520.7 8.4 521.9 0.2 519.3 0.2 515.6ZM24.5 515.8 32.5 518.3 32.5 522 24.5 523.2 16.5 520.7 16.5 516.9ZM40.4 517.2 48.3 519.6 48.3 523.4 40.4 524.6 32.5 522 32.5 518.3ZM56.1 518.5 63.8 521 63.8 524.7 56.1 525.9 48.3 523.4 48.3 519.6ZM71.5 519.8 79.1 522.3 79.1 526 71.5 527.2 63.8 524.7 63.8 521ZM86.7 521.1 94.2 523.6 94.2 527.3 86.7 528.5 79.1 526 79.1 522.3ZM101.6 522.4 109 524.8 109 528.5 101.6 529.8 94.2 527.3 94.2 523.6ZM116.4 523.6 123.7 526.1 123.7 529.8 116.4 531 109 528.5 109 524.8ZM130.9 524.8 138.1 527.3 138.1 531 130.9 532.3 123.7 529.8 123.7 526.1ZM145.2 526.1 152.3 528.5 152.3 532.2 145.2 533.5 138.1 531 138.1 527.3ZM159.3 527.3 166.3 529.7 166.3 533.4 159.3 534.7 152.3 532.2 152.3 528.5ZM173.2 528.4 180.1 530.9 180.1 534.6 173.2 535.9 166.3 533.4 166.3 529.7ZM186.9 529.6 193.6 532 193.6 535.7 186.9 537 180.1 534.6 180.1 530.9ZM200.4 530.8 207 533.1 207 536.9 200.4 538.2 193.6 535.7 193.6 532ZM213.6 531.9 220.2 534.3 220.2 538 213.6 539.3 207 536.9 207 533.1ZM226.7 533 233.2 535.4 233.2 539.1 226.7 540.4 220.2 538 220.2 534.3ZM239.6 534.1 246 536.5 246 540.2 239.6 541.5 233.2 539.1 233.2 535.4ZM252.3 535.2 258.6 537.5 258.6 541.2 252.3 542.6 246 540.2 246 536.5ZM264.8 536.2 271 538.6 271 542.3 264.8 543.6 258.6 541.2 258.6 537.5ZM277.1 537.3 283.2 539.6 283.2 543.3 277.1 544.7 271 542.3 271 538.6ZM289.2 538.3 295.2 540.6 295.2 544.3 289.2 545.7 283.2 543.3 283.2 539.6ZM301.2 539.3 307.1 541.6 307.1 545.4 301.2 546.7 295.2 544.3 295.2 540.6ZM313 540.3 318.8 542.6 318.8 546.4 313 547.7 307.1 545.4 307.1 541.6ZM324.6 541.3 330.3 543.6 330.3 547.3 324.6 548.7 318.8 546.4 318.8 542.6ZM336 542.3 341.6 544.6 341.6 548.3 336 549.7 330.3 547.3 330.3 543.6ZM347.2 543.2 352.8 545.5 352.8 549.2 347.2 550.7 341.6 548.3 341.6 544.6ZM-16.2 517.9 -8 520.5 -8 524.3 -16.2 525.5 -24.5 522.9 -24.5 519.1ZM0.2 519.3 8.4 521.9 8.4 525.7 0.2 526.9 -8 524.3 -8 520.5ZM16.5 520.7 24.5 523.2 24.5 527.1 16.5 528.3 8.4 525.7 8.4 521.9ZM32.5 522 40.4 524.6 40.4 528.4 32.5 529.7 24.5 527.1 24.5 523.2ZM48.3 523.4 56.1 525.9 56.1 529.7 48.3 531 40.4 528.4 40.4 524.6ZM63.8 524.7 71.5 527.2 71.5 531.1 63.8 532.3 56.1 529.7 56.1 525.9ZM79.1 526 86.7 528.5 86.7 532.3 79.1 533.6 71.5 531.1 71.5 527.2ZM94.2 527.3 101.6 529.8 101.6 533.6 94.2 534.9 86.7 532.3 86.7 528.5ZM109 528.5 116.4 531 116.4 534.9 109 536.2 101.6 533.6 101.6 529.8ZM123.7 529.8 130.9 532.3 130.9 536.1 123.7 537.4 116.4 534.9 116.4 531ZM138.1 531 145.2 533.5 145.2 537.3 138.1 538.7 130.9 536.1 130.9 532.3ZM152.3 532.2 159.3 534.7 159.3 538.5 152.3 539.9 145.2 537.3 145.2 533.5ZM166.3 533.4 173.2 535.9 173.2 539.7 166.3 541.1 159.3 538.5 159.3 534.7ZM180.1 534.6 186.9 537 186.9 540.9 180.1 542.2 173.2 539.7 173.2 535.9ZM193.6 535.7 200.4 538.2 200.4 542 193.6 543.4 186.9 540.9 186.9 537ZM207 536.9 213.6 539.3 213.6 543.1 207 544.5 200.4 542 200.4 538.2ZM220.2 538 226.7 540.4 226.7 544.2 220.2 545.6 213.6 543.1 213.6 539.3ZM233.2 539.1 239.6 541.5 239.6 545.3 233.2 546.7 226.7 544.2 226.7 540.4ZM246 540.2 252.3 542.6 252.3 546.4 246 547.8 239.6 545.3 239.6 541.5ZM258.6 541.2 264.8 543.6 264.8 547.5 258.6 548.9 252.3 546.4 252.3 542.6ZM271 542.3 277.1 544.7 277.1 548.5 271 550 264.8 547.5 264.8 543.6ZM283.2 543.3 289.2 545.7 289.2 549.6 283.2 551 277.1 548.5 277.1 544.7ZM295.2 544.3 301.2 546.7 301.2 550.6 295.2 552 289.2 549.6 289.2 545.7ZM307.1 545.4 313 547.7 313 551.6 307.1 553 301.2 550.6 301.2 546.7ZM318.8 546.4 324.6 548.7 324.6 552.6 318.8 554 313 551.6 313 547.7ZM330.3 547.3 336 549.7 336 553.5 330.3 555 324.6 552.6 324.6 548.7ZM341.6 548.3 347.2 550.7 347.2 554.5 341.6 556 336 553.5 336 549.7ZM352.8 549.2 358.3 551.6 358.3 555.4 352.8 556.9 347.2 554.5 347.2 550.7ZM-24.5 522.9 -16.2 525.5 -16.2 529.5 -24.5 530.8 -32.8 528.1 -32.8 524.1ZM-8 524.3 0.2 526.9 0.2 530.9 -8 532.2 -16.2 529.5 -16.2 525.5ZM8.4 525.7 16.5 528.3 16.5 532.3 8.4 533.6 0.2 530.9 0.2 526.9ZM24.5 527.1 32.5 529.7 32.5 533.6 24.5 535 16.5 532.3 16.5 528.3ZM40.4 528.4 48.3 531 48.3 535 40.4 536.3 32.5 533.6 32.5 529.7ZM56.1 529.7 63.8 532.3 63.8 536.3 56.1 537.7 48.3 535 48.3 531ZM71.5 531.1 79.1 533.6 79.1 537.6 71.5 539 63.8 536.3 63.8 532.3ZM86.7 532.3 94.2 534.9 94.2 538.9 86.7 540.3 79.1 537.6 79.1 533.6ZM101.6 533.6 109 536.2 109 540.2 101.6 541.5 94.2 538.9 94.2 534.9ZM116.4 534.9 123.7 537.4 123.7 541.4 116.4 542.8 109 540.2 109 536.2ZM130.9 536.1 138.1 538.7 138.1 542.6 130.9 544 123.7 541.4 123.7 537.4ZM145.2 537.3 152.3 539.9 152.3 543.8 145.2 545.2 138.1 542.6 138.1 538.7ZM159.3 538.5 166.3 541.1 166.3 545 159.3 546.4 152.3 543.8 152.3 539.9ZM173.2 539.7 180.1 542.2 180.1 546.2 173.2 547.6 166.3 545 166.3 541.1ZM186.9 540.9 193.6 543.4 193.6 547.3 186.9 548.8 180.1 546.2 180.1 542.2ZM200.4 542 207 544.5 207 548.5 200.4 549.9 193.6 547.3 193.6 543.4ZM213.6 543.1 220.2 545.6 220.2 549.6 213.6 551.1 207 548.5 207 544.5ZM226.7 544.2 233.2 546.7 233.2 550.7 226.7 552.2 220.2 549.6 220.2 545.6ZM239.6 545.3 246 547.8 246 551.8 239.6 553.3 233.2 550.7 233.2 546.7ZM252.3 546.4 258.6 548.9 258.6 552.9 252.3 554.3 246 551.8 246 547.8ZM264.8 547.5 271 550 271 553.9 264.8 555.4 258.6 552.9 258.6 548.9ZM277.1 548.5 283.2 551 283.2 555 277.1 556.5 271 553.9 271 550ZM289.2 549.6 295.2 552 295.2 556 289.2 557.5 283.2 555 283.2 551ZM301.2 550.6 307.1 553 307.1 557 301.2 558.5 295.2 556 295.2 552ZM313 551.6 318.8 554 318.8 558 313 559.5 307.1 557 307.1 553ZM324.6 552.6 330.3 555 330.3 559 324.6 560.5 318.8 558 318.8 554ZM336 553.5 341.6 556 341.6 559.9 336 561.5 330.3 559 330.3 555ZM347.2 554.5 352.8 556.9 352.8 560.9 347.2 562.4 341.6 559.9 341.6 556ZM-16.2 529.5 -8 532.2 -8 536.3 -16.2 537.7 -24.5 534.9 -24.5 530.8ZM0.2 530.9 8.4 533.6 8.4 537.7 0.2 539.1 -8 536.3 -8 532.2ZM16.5 532.3 24.5 535 24.5 539.1 16.5 540.5 8.4 537.7 8.4 533.6ZM32.5 533.6 40.4 536.3 40.4 540.4 32.5 541.8 24.5 539.1 24.5 535ZM48.3 535 56.1 537.7 56.1 541.8 48.3 543.2 40.4 540.4 40.4 536.3ZM63.8 536.3 71.5 539 71.5 543.1 63.8 544.5 56.1 541.8 56.1 537.7ZM79.1 537.6 86.7 540.3 86.7 544.4 79.1 545.8 71.5 543.1 71.5 539ZM94.2 538.9 101.6 541.5 101.6 545.6 94.2 547.1 86.7 544.4 86.7 540.3ZM109 540.2 116.4 542.8 116.4 546.9 109 548.3 101.6 545.6 101.6 541.5ZM123.7 541.4 130.9 544 130.9 548.1 123.7 549.6 116.4 546.9 116.4 542.8ZM138.1 542.6 145.2 545.2 145.2 549.3 138.1 550.8 130.9 548.1 130.9 544ZM152.3 543.8 159.3 546.4 159.3 550.5 152.3 552 145.2 549.3 145.2 545.2ZM166.3 545 173.2 547.6 173.2 551.7 166.3 553.2 159.3 550.5 159.3 546.4ZM180.1 546.2 186.9 548.8 186.9 552.9 180.1 554.4 173.2 551.7 173.2 547.6ZM193.6 547.3 200.4 549.9 200.4 554 193.6 555.5 186.9 552.9 186.9 548.8ZM207 548.5 213.6 551.1 213.6 555.2 207 556.7 200.4 554 200.4 549.9ZM220.2 549.6 226.7 552.2 226.7 556.3 220.2 557.8 213.6 555.2 213.6 551.1ZM233.2 550.7 239.6 553.3 239.6 557.4 233.2 558.9 226.7 556.3 226.7 552.2ZM246 551.8 252.3 554.3 252.3 558.4 246 560 239.6 557.4 239.6 553.3ZM258.6 552.9 264.8 555.4 264.8 559.5 258.6 561.1 252.3 558.4 252.3 554.3ZM271 553.9 277.1 556.5 277.1 560.5 271 562.1 264.8 559.5 264.8 555.4ZM283.2 555 289.2 557.5 289.2 561.6 283.2 563.1 277.1 560.5 277.1 556.5ZM295.2 556 301.2 558.5 301.2 562.6 295.2 564.2 289.2 561.6 289.2 557.5ZM307.1 557 313 559.5 313 563.6 307.1 565.2 301.2 562.6 301.2 558.5ZM318.8 558 324.6 560.5 324.6 564.6 318.8 566.2 313 563.6 313 559.5ZM330.3 559 336 561.5 336 565.6 330.3 567.2 324.6 564.6 324.6 560.5ZM341.6 559.9 347.2 562.4 347.2 566.5 341.6 568.1 336 565.6 336 561.5ZM352.8 560.9 358.3 563.4 358.3 567.5 352.8 569.1 347.2 566.5 347.2 562.4ZM-24.5 534.9 -16.2 537.7 -16.2 541.9 -24.5 543.4 -32.8 540.5 -32.8 536.3ZM-8 536.3 0.2 539.1 0.2 543.3 -8 544.8 -16.2 541.9 -16.2 537.7ZM8.4 537.7 16.5 540.5 16.5 544.7 8.4 546.2 0.2 543.3 0.2 539.1ZM24.5 539.1 32.5 541.8 32.5 546.1 24.5 547.5 16.5 544.7 16.5 540.5ZM40.4 540.4 48.3 543.2 48.3 547.4 40.4 548.9 32.5 546.1 32.5 541.8ZM56.1 541.8 63.8 544.5 63.8 548.7 56.1 550.2 48.3 547.4 48.3 543.2ZM71.5 543.1 79.1 545.8 79.1 550 71.5 551.5 63.8 548.7 63.8 544.5ZM86.7 544.4 94.2 547.1 94.2 551.3 86.7 552.8 79.1 550 79.1 545.8ZM101.6 545.6 109 548.3 109 552.6 101.6 554.1 94.2 551.3 94.2 547.1ZM116.4 546.9 123.7 549.6 123.7 553.8 116.4 555.4 109 552.6 109 548.3ZM130.9 548.1 138.1 550.8 138.1 555 130.9 556.6 123.7 553.8 123.7 549.6ZM145.2 549.3 152.3 552 152.3 556.3 145.2 557.8 138.1 555 138.1 550.8ZM159.3 550.5 166.3 553.2 166.3 557.4 159.3 559 152.3 556.3 152.3 552ZM173.2 551.7 180.1 554.4 180.1 558.6 173.2 560.2 166.3 557.4 166.3 553.2ZM186.9 552.9 193.6 555.5 193.6 559.8 186.9 561.3 180.1 558.6 180.1 554.4ZM200.4 554 207 556.7 207 560.9 200.4 562.5 193.6 559.8 193.6 555.5ZM213.6 555.2 220.2 557.8 220.2 562 213.6 563.6 207 560.9 207 556.7ZM226.7 556.3 233.2 558.9 233.2 563.1 226.7 564.7 220.2 562 220.2 557.8ZM239.6 557.4 246 560 246 564.2 239.6 565.8 233.2 563.1 233.2 558.9ZM252.3 558.4 258.6 561.1 258.6 565.3 252.3 566.9 246 564.2 246 560ZM264.8 559.5 271 562.1 271 566.3 264.8 568 258.6 565.3 258.6 561.1ZM277.1 560.5 283.2 563.1 283.2 567.4 277.1 569 271 566.3 271 562.1ZM289.2 561.6 295.2 564.2 295.2 568.4 289.2 570 283.2 567.4 283.2 563.1ZM301.2 562.6 307.1 565.2 307.1 569.4 301.2 571.1 295.2 568.4 295.2 564.2ZM313 563.6 318.8 566.2 318.8 570.4 313 572.1 307.1 569.4 307.1 565.2ZM324.6 564.6 330.3 567.2 330.3 571.4 324.6 573 318.8 570.4 318.8 566.2ZM336 565.6 341.6 568.1 341.6 572.3 336 574 330.3 571.4 330.3 567.2ZM347.2 566.5 352.8 569.1 352.8 573.3 347.2 575 341.6 572.3 341.6 568.1ZM-16.2 541.9 -8 544.8 -8 549.2 -16.2 550.7 -24.5 547.8 -24.5 543.4ZM0.2 543.3 8.4 546.2 8.4 550.5 0.2 552.1 -8 549.2 -8 544.8ZM16.5 544.7 24.5 547.5 24.5 551.9 16.5 553.5 8.4 550.5 8.4 546.2ZM32.5 546.1 40.4 548.9 40.4 553.3 32.5 554.8 24.5 551.9 24.5 547.5ZM48.3 547.4 56.1 550.2 56.1 554.6 48.3 556.2 40.4 553.3 40.4 548.9ZM63.8 548.7 71.5 551.5 71.5 555.9 63.8 557.5 56.1 554.6 56.1 550.2ZM79.1 550 86.7 552.8 86.7 557.2 79.1 558.8 71.5 555.9 71.5 551.5ZM94.2 551.3 101.6 554.1 101.6 558.5 94.2 560.1 86.7 557.2 86.7 552.8ZM109 552.6 116.4 555.4 116.4 559.7 109 561.3 101.6 558.5 101.6 554.1ZM123.7 553.8 130.9 556.6 130.9 561 123.7 562.6 116.4 559.7 116.4 555.4ZM138.1 555 145.2 557.8 145.2 562.2 138.1 563.8 130.9 561 130.9 556.6ZM152.3 556.3 159.3 559 159.3 563.4 152.3 565 145.2 562.2 145.2 557.8ZM166.3 557.4 173.2 560.2 173.2 564.6 166.3 566.2 159.3 563.4 159.3 559ZM180.1 558.6 186.9 561.3 186.9 565.7 180.1 567.4 173.2 564.6 173.2 560.2ZM193.6 559.8 200.4 562.5 200.4 566.9 193.6 568.5 186.9 565.7 186.9 561.3ZM207 560.9 213.6 563.6 213.6 568 207 569.7 200.4 566.9 200.4 562.5ZM220.2 562 226.7 564.7 226.7 569.1 220.2 570.8 213.6 568 213.6 563.6ZM233.2 563.1 239.6 565.8 239.6 570.2 233.2 571.9 226.7 569.1 226.7 564.7ZM246 564.2 252.3 566.9 252.3 571.3 246 573 239.6 570.2 239.6 565.8ZM258.6 565.3 264.8 568 264.8 572.3 258.6 574 252.3 571.3 252.3 566.9ZM271 566.3 277.1 569 277.1 573.4 271 575.1 264.8 572.3 264.8 568ZM283.2 567.4 289.2 570 289.2 574.4 283.2 576.1 277.1 573.4 277.1 569ZM295.2 568.4 301.2 571.1 301.2 575.4 295.2 577.2 289.2 574.4 289.2 570ZM307.1 569.4 313 572.1 313 576.4 307.1 578.2 301.2 575.4 301.2 571.1ZM318.8 570.4 324.6 573 324.6 577.4 318.8 579.2 313 576.4 313 572.1ZM330.3 571.4 336 574 336 578.4 330.3 580.1 324.6 577.4 324.6 573ZM341.6 572.3 347.2 575 347.2 579.4 341.6 581.1 336 578.4 336 574ZM-24.5 547.8 -16.2 550.7 -16.2 555.2 -24.5 556.8 -32.8 553.8 -32.8 549.3ZM-8 549.2 0.2 552.1 0.2 556.6 -8 558.2 -16.2 555.2 -16.2 550.7ZM8.4 550.5 16.5 553.5 16.5 558 8.4 559.6 0.2 556.6 0.2 552.1ZM24.5 551.9 32.5 554.8 32.5 559.3 24.5 561 16.5 558 16.5 553.5ZM40.4 553.3 48.3 556.2 48.3 560.7 40.4 562.3 32.5 559.3 32.5 554.8ZM56.1 554.6 63.8 557.5 63.8 562 56.1 563.6 48.3 560.7 48.3 556.2ZM71.5 555.9 79.1 558.8 79.1 563.3 71.5 565 63.8 562 63.8 557.5ZM86.7 557.2 94.2 560.1 94.2 564.6 86.7 566.2 79.1 563.3 79.1 558.8ZM101.6 558.5 109 561.3 109 565.8 101.6 567.5 94.2 564.6 94.2 560.1ZM116.4 559.7 123.7 562.6 123.7 567.1 116.4 568.8 109 565.8 109 561.3ZM130.9 561 138.1 563.8 138.1 568.3 130.9 570 123.7 567.1 123.7 562.6ZM145.2 562.2 152.3 565 152.3 569.5 145.2 571.2 138.1 568.3 138.1 563.8ZM159.3 563.4 166.3 566.2 166.3 570.7 159.3 572.4 152.3 569.5 152.3 565ZM173.2 564.6 180.1 567.4 180.1 571.9 173.2 573.6 166.3 570.7 166.3 566.2ZM186.9 565.7 193.6 568.5 193.6 573 186.9 574.8 180.1 571.9 180.1 567.4ZM200.4 566.9 207 569.7 207 574.2 200.4 575.9 193.6 573 193.6 568.5ZM213.6 568 220.2 570.8 220.2 575.3 213.6 577 207 574.2 207 569.7ZM226.7 569.1 233.2 571.9 233.2 576.4 226.7 578.1 220.2 575.3 220.2 570.8ZM239.6 570.2 246 573 246 577.5 239.6 579.2 233.2 576.4 233.2 571.9ZM252.3 571.3 258.6 574 258.6 578.6 252.3 580.3 246 577.5 246 573ZM264.8 572.3 271 575.1 271 579.6 264.8 581.4 258.6 578.6 258.6 574ZM277.1 573.4 283.2 576.1 283.2 580.7 277.1 582.4 271 579.6 271 575.1ZM289.2 574.4 295.2 577.2 295.2 581.7 289.2 583.5 283.2 580.7 283.2 576.1ZM301.2 575.4 307.1 578.2 307.1 582.7 301.2 584.5 295.2 581.7 295.2 577.2ZM313 576.4 318.8 579.2 318.8 583.7 313 585.5 307.1 582.7 307.1 578.2ZM324.6 577.4 330.3 580.1 330.3 584.7 324.6 586.5 318.8 583.7 318.8 579.2ZM336 578.4 341.6 581.1 341.6 585.6 336 587.4 330.3 584.7 330.3 580.1ZM-16.2 555.2 -8 558.2 -8 562.9 -16.2 564.5 -24.5 561.5 -24.5 556.8ZM0.2 556.6 8.4 559.6 8.4 564.3 0.2 565.9 -8 562.9 -8 558.2ZM16.5 558 24.5 561 24.5 565.6 16.5 567.3 8.4 564.3 8.4 559.6ZM32.5 559.3 40.4 562.3 40.4 567 32.5 568.7 24.5 565.6 24.5 561ZM48.3 560.7 56.1 563.6 56.1 568.3 48.3 570 40.4 567 40.4 562.3ZM63.8 562 71.5 565 71.5 569.6 63.8 571.4 56.1 568.3 56.1 563.6ZM79.1 563.3 86.7 566.2 86.7 570.9 79.1 572.7 71.5 569.6 71.5 565ZM94.2 564.6 101.6 567.5 101.6 572.2 94.2 573.9 86.7 570.9 86.7 566.2ZM109 565.8 116.4 568.8 116.4 573.4 109 575.2 101.6 572.2 101.6 567.5ZM123.7 567.1 130.9 570 130.9 574.7 123.7 576.4 116.4 573.4 116.4 568.8ZM138.1 568.3 145.2 571.2 145.2 575.9 138.1 577.7 130.9 574.7 130.9 570ZM152.3 569.5 159.3 572.4 159.3 577.1 152.3 578.9 145.2 575.9 145.2 571.2ZM166.3 570.7 173.2 573.6 173.2 578.3 166.3 580.1 159.3 577.1 159.3 572.4ZM180.1 571.9 186.9 574.8 186.9 579.4 180.1 581.2 173.2 578.3 173.2 573.6ZM193.6 573 200.4 575.9 200.4 580.6 193.6 582.4 186.9 579.4 186.9 574.8ZM207 574.2 213.6 577 213.6 581.7 207 583.5 200.4 580.6 200.4 575.9ZM220.2 575.3 226.7 578.1 226.7 582.8 220.2 584.6 213.6 581.7 213.6 577ZM233.2 576.4 239.6 579.2 239.6 583.9 233.2 585.7 226.7 582.8 226.7 578.1ZM246 577.5 252.3 580.3 252.3 585 246 586.8 239.6 583.9 239.6 579.2ZM258.6 578.6 264.8 581.4 264.8 586.1 258.6 587.9 252.3 585 252.3 580.3ZM271 579.6 277.1 582.4 277.1 587.1 271 589 264.8 586.1 264.8 581.4ZM283.2 580.7 289.2 583.5 289.2 588.1 283.2 590 277.1 587.1 277.1 582.4ZM295.2 581.7 301.2 584.5 301.2 589.2 295.2 591 289.2 588.1 289.2 583.5ZM307.1 582.7 313 585.5 313 590.2 307.1 592 301.2 589.2 301.2 584.5ZM318.8 583.7 324.6 586.5 324.6 591.1 318.8 593 313 590.2 313 585.5ZM330.3 584.7 336 587.4 336 592.1 330.3 594 324.6 591.1 324.6 586.5ZM341.6 585.6 347.2 588.4 347.2 593.1 341.6 595 336 592.1 336 587.4ZM-24.5 561.5 -16.2 564.5 -16.2 569.4 -24.5 571.1 -32.8 568 -32.8 563.1ZM-8 562.9 0.2 565.9 0.2 570.8 -8 572.5 -16.2 569.4 -16.2 564.5ZM8.4 564.3 16.5 567.3 16.5 572.2 8.4 573.9 0.2 570.8 0.2 565.9ZM24.5 565.6 32.5 568.7 32.5 573.5 24.5 575.3 16.5 572.2 16.5 567.3ZM40.4 567 48.3 570 48.3 574.9 40.4 576.6 32.5 573.5 32.5 568.7ZM56.1 568.3 63.8 571.4 63.8 576.2 56.1 578 48.3 574.9 48.3 570ZM71.5 569.6 79.1 572.7 79.1 577.5 71.5 579.3 63.8 576.2 63.8 571.4ZM86.7 570.9 94.2 573.9 94.2 578.8 86.7 580.6 79.1 577.5 79.1 572.7ZM101.6 572.2 109 575.2 109 580 101.6 581.9 94.2 578.8 94.2 573.9ZM116.4 573.4 123.7 576.4 123.7 581.3 116.4 583.1 109 580 109 575.2ZM130.9 574.7 138.1 577.7 138.1 582.5 130.9 584.3 123.7 581.3 123.7 576.4ZM145.2 575.9 152.3 578.9 152.3 583.7 145.2 585.6 138.1 582.5 138.1 577.7ZM159.3 577.1 166.3 580.1 166.3 584.9 159.3 586.8 152.3 583.7 152.3 578.9ZM173.2 578.3 180.1 581.2 180.1 586.1 173.2 587.9 166.3 584.9 166.3 580.1ZM186.9 579.4 193.6 582.4 193.6 587.2 186.9 589.1 180.1 586.1 180.1 581.2ZM200.4 580.6 207 583.5 207 588.4 200.4 590.2 193.6 587.2 193.6 582.4ZM213.6 581.7 220.2 584.6 220.2 589.5 213.6 591.4 207 588.4 207 583.5ZM226.7 582.8 233.2 585.7 233.2 590.6 226.7 592.5 220.2 589.5 220.2 584.6ZM239.6 583.9 246 586.8 246 591.7 239.6 593.6 233.2 590.6 233.2 585.7ZM252.3 585 258.6 587.9 258.6 592.7 252.3 594.7 246 591.7 246 586.8ZM264.8 586.1 271 589 271 593.8 264.8 595.7 258.6 592.7 258.6 587.9ZM277.1 587.1 283.2 590 283.2 594.8 277.1 596.8 271 593.8 271 589ZM289.2 588.1 295.2 591 295.2 595.9 289.2 597.8 283.2 594.8 283.2 590ZM301.2 589.2 307.1 592 307.1 596.9 301.2 598.8 295.2 595.9 295.2 591ZM313 590.2 318.8 593 318.8 597.9 313 599.8 307.1 596.9 307.1 592ZM324.6 591.1 330.3 594 330.3 598.8 324.6 600.8 318.8 597.9 318.8 593ZM336 592.1 341.6 595 341.6 599.8 336 601.8 330.3 598.8 330.3 594ZM-16.2 569.4 -8 572.5 -8 577.5 -16.2 579.4 -24.5 576.1 -24.5 571.1ZM0.2 570.8 8.4 573.9 8.4 578.9 0.2 580.8 -8 577.5 -8 572.5ZM16.5 572.2 24.5 575.3 24.5 580.3 16.5 582.1 8.4 578.9 8.4 573.9ZM32.5 573.5 40.4 576.6 40.4 581.6 32.5 583.5 24.5 580.3 24.5 575.3ZM48.3 574.9 56.1 578 56.1 583 48.3 584.8 40.4 581.6 40.4 576.6ZM63.8 576.2 71.5 579.3 71.5 584.3 63.8 586.2 56.1 583 56.1 578ZM79.1 577.5 86.7 580.6 86.7 585.6 79.1 587.5 71.5 584.3 71.5 579.3ZM94.2 578.8 101.6 581.9 101.6 586.8 94.2 588.7 86.7 585.6 86.7 580.6ZM109 580 116.4 583.1 116.4 588.1 109 590 101.6 586.8 101.6 581.9ZM123.7 581.3 130.9 584.3 130.9 589.3 123.7 591.3 116.4 588.1 116.4 583.1ZM138.1 582.5 145.2 585.6 145.2 590.5 138.1 592.5 130.9 589.3 130.9 584.3ZM152.3 583.7 159.3 586.8 159.3 591.7 152.3 593.7 145.2 590.5 145.2 585.6ZM166.3 584.9 173.2 587.9 173.2 592.9 166.3 594.9 159.3 591.7 159.3 586.8ZM180.1 586.1 186.9 589.1 186.9 594.1 180.1 596 173.2 592.9 173.2 587.9ZM193.6 587.2 200.4 590.2 200.4 595.2 193.6 597.2 186.9 594.1 186.9 589.1ZM207 588.4 213.6 591.4 213.6 596.4 207 598.3 200.4 595.2 200.4 590.2ZM220.2 589.5 226.7 592.5 226.7 597.5 220.2 599.5 213.6 596.4 213.6 591.4ZM233.2 590.6 239.6 593.6 239.6 598.6 233.2 600.6 226.7 597.5 226.7 592.5ZM246 591.7 252.3 594.7 252.3 599.6 246 601.6 239.6 598.6 239.6 593.6ZM258.6 592.7 264.8 595.7 264.8 600.7 258.6 602.7 252.3 599.6 252.3 594.7ZM271 593.8 277.1 596.8 277.1 601.8 271 603.8 264.8 600.7 264.8 595.7ZM283.2 594.8 289.2 597.8 289.2 602.8 283.2 604.8 277.1 601.8 277.1 596.8ZM295.2 595.9 301.2 598.8 301.2 603.8 295.2 605.8 289.2 602.8 289.2 597.8ZM307.1 596.9 313 599.8 313 604.8 307.1 606.8 301.2 603.8 301.2 598.8ZM318.8 597.9 324.6 600.8 324.6 605.8 318.8 607.8 313 604.8 313 599.8ZM330.3 598.8 336 601.8 336 606.8 330.3 608.8 324.6 605.8 324.6 600.8ZM-24.5 576.1 -16.2 579.4 -16.2 584.5 -24.5 586.4 -32.8 583.1 -32.8 578ZM-8 577.5 0.2 580.8 0.2 585.9 -8 587.8 -16.2 584.5 -16.2 579.4ZM8.4 578.9 16.5 582.1 16.5 587.3 8.4 589.2 0.2 585.9 0.2 580.8ZM24.5 580.3 32.5 583.5 32.5 588.7 24.5 590.6 16.5 587.3 16.5 582.1ZM40.4 581.6 48.3 584.8 48.3 590 40.4 592 32.5 588.7 32.5 583.5ZM56.1 583 63.8 586.2 63.8 591.3 56.1 593.3 48.3 590 48.3 584.8ZM71.5 584.3 79.1 587.5 79.1 592.6 71.5 594.6 63.8 591.3 63.8 586.2ZM86.7 585.6 94.2 588.7 94.2 593.9 86.7 595.9 79.1 592.6 79.1 587.5ZM101.6 586.8 109 590 109 595.2 101.6 597.2 94.2 593.9 94.2 588.7ZM116.4 588.1 123.7 591.3 123.7 596.4 116.4 598.4 109 595.2 109 590ZM130.9 589.3 138.1 592.5 138.1 597.6 130.9 599.7 123.7 596.4 123.7 591.3ZM145.2 590.5 152.3 593.7 152.3 598.8 145.2 600.9 138.1 597.6 138.1 592.5ZM159.3 591.7 166.3 594.9 166.3 600 159.3 602.1 152.3 598.8 152.3 593.7ZM173.2 592.9 180.1 596 180.1 601.2 173.2 603.2 166.3 600 166.3 594.9ZM186.9 594.1 193.6 597.2 193.6 602.4 186.9 604.4 180.1 601.2 180.1 596ZM200.4 595.2 207 598.3 207 603.5 200.4 605.6 193.6 602.4 193.6 597.2ZM213.6 596.4 220.2 599.5 220.2 604.6 213.6 606.7 207 603.5 207 598.3ZM226.7 597.5 233.2 600.6 233.2 605.7 226.7 607.8 220.2 604.6 220.2 599.5ZM239.6 598.6 246 601.6 246 606.8 239.6 608.9 233.2 605.7 233.2 600.6ZM252.3 599.6 258.6 602.7 258.6 607.9 252.3 610 246 606.8 246 601.6ZM264.8 600.7 271 603.8 271 608.9 264.8 611 258.6 607.9 258.6 602.7ZM277.1 601.8 283.2 604.8 283.2 610 277.1 612.1 271 608.9 271 603.8ZM289.2 602.8 295.2 605.8 295.2 611 289.2 613.1 283.2 610 283.2 604.8ZM301.2 603.8 307.1 606.8 307.1 612 301.2 614.1 295.2 611 295.2 605.8ZM313 604.8 318.8 607.8 318.8 613 313 615.1 307.1 612 307.1 606.8ZM324.6 605.8 330.3 608.8 330.3 614 324.6 616.1 318.8 613 318.8 607.8ZM336 606.8 341.6 609.8 341.6 614.9 336 617.1 330.3 614 330.3 608.8ZM-16.2 584.5 -8 587.8 -8 593.2 -16.2 595.2 -24.5 591.8 -24.5 586.4ZM0.2 585.9 8.4 589.2 8.4 594.6 0.2 596.6 -8 593.2 -8 587.8ZM16.5 587.3 24.5 590.6 24.5 595.9 16.5 598 8.4 594.6 8.4 589.2ZM32.5 588.7 40.4 592 40.4 597.3 32.5 599.3 24.5 595.9 24.5 590.6ZM48.3 590 56.1 593.3 56.1 598.6 48.3 600.7 40.4 597.3 40.4 592ZM63.8 591.3 71.5 594.6 71.5 599.9 63.8 602 56.1 598.6 56.1 593.3ZM79.1 592.6 86.7 595.9 86.7 601.2 79.1 603.3 71.5 599.9 71.5 594.6ZM94.2 593.9 101.6 597.2 101.6 602.5 94.2 604.6 86.7 601.2 86.7 595.9ZM109 595.2 116.4 598.4 116.4 603.8 109 605.8 101.6 602.5 101.6 597.2ZM123.7 596.4 130.9 599.7 130.9 605 123.7 607.1 116.4 603.8 116.4 598.4ZM138.1 597.6 145.2 600.9 145.2 606.2 138.1 608.3 130.9 605 130.9 599.7ZM152.3 598.8 159.3 602.1 159.3 607.4 152.3 609.5 145.2 606.2 145.2 600.9ZM166.3 600 173.2 603.2 173.2 608.6 166.3 610.7 159.3 607.4 159.3 602.1ZM180.1 601.2 186.9 604.4 186.9 609.7 180.1 611.9 173.2 608.6 173.2 603.2ZM193.6 602.4 200.4 605.6 200.4 610.9 193.6 613 186.9 609.7 186.9 604.4ZM207 603.5 213.6 606.7 213.6 612 207 614.2 200.4 610.9 200.4 605.6ZM220.2 604.6 226.7 607.8 226.7 613.1 220.2 615.3 213.6 612 213.6 606.7ZM233.2 605.7 239.6 608.9 239.6 614.2 233.2 616.4 226.7 613.1 226.7 607.8ZM246 606.8 252.3 610 252.3 615.3 246 617.5 239.6 614.2 239.6 608.9ZM258.6 607.9 264.8 611 264.8 616.4 258.6 618.5 252.3 615.3 252.3 610ZM271 608.9 277.1 612.1 277.1 617.4 271 619.6 264.8 616.4 264.8 611ZM283.2 610 289.2 613.1 289.2 618.4 283.2 620.6 277.1 617.4 277.1 612.1ZM295.2 611 301.2 614.1 301.2 619.5 295.2 621.7 289.2 618.4 289.2 613.1ZM307.1 612 313 615.1 313 620.5 307.1 622.7 301.2 619.5 301.2 614.1ZM318.8 613 324.6 616.1 324.6 621.4 318.8 623.7 313 620.5 313 615.1ZM330.3 614 336 617.1 336 622.4 330.3 624.6 324.6 621.4 324.6 616.1ZM-8 593.2 0.2 596.6 0.2 602.1 -8 604.2 -16.2 600.7 -16.2 595.2ZM8.4 594.6 16.5 598 16.5 603.5 8.4 605.6 0.2 602.1 0.2 596.6ZM24.5 595.9 32.5 599.3 32.5 604.8 24.5 607 16.5 603.5 16.5 598ZM40.4 597.3 48.3 600.7 48.3 606.2 40.4 608.3 32.5 604.8 32.5 599.3ZM56.1 598.6 63.8 602 63.8 607.5 56.1 609.6 48.3 606.2 48.3 600.7ZM71.5 599.9 79.1 603.3 79.1 608.8 71.5 611 63.8 607.5 63.8 602ZM86.7 601.2 94.2 604.6 94.2 610.1 86.7 612.2 79.1 608.8 79.1 603.3ZM101.6 602.5 109 605.8 109 611.3 101.6 613.5 94.2 610.1 94.2 604.6ZM116.4 603.8 123.7 607.1 123.7 612.6 116.4 614.8 109 611.3 109 605.8ZM130.9 605 138.1 608.3 138.1 613.8 130.9 616 123.7 612.6 123.7 607.1ZM145.2 606.2 152.3 609.5 152.3 615 145.2 617.2 138.1 613.8 138.1 608.3ZM159.3 607.4 166.3 610.7 166.3 616.2 159.3 618.4 152.3 615 152.3 609.5ZM173.2 608.6 180.1 611.9 180.1 617.4 173.2 619.6 166.3 616.2 166.3 610.7ZM186.9 609.7 193.6 613 193.6 618.5 186.9 620.8 180.1 617.4 180.1 611.9ZM200.4 610.9 207 614.2 207 619.7 200.4 621.9 193.6 618.5 193.6 613ZM213.6 612 220.2 615.3 220.2 620.8 213.6 623 207 619.7 207 614.2ZM226.7 613.1 233.2 616.4 233.2 621.9 226.7 624.2 220.2 620.8 220.2 615.3ZM239.6 614.2 246 617.5 246 623 239.6 625.2 233.2 621.9 233.2 616.4ZM252.3 615.3 258.6 618.5 258.6 624.1 252.3 626.3 246 623 246 617.5ZM264.8 616.4 271 619.6 271 625.1 264.8 627.4 258.6 624.1 258.6 618.5ZM277.1 617.4 283.2 620.6 283.2 626.2 277.1 628.4 271 625.1 271 619.6ZM289.2 618.4 295.2 621.7 295.2 627.2 289.2 629.5 283.2 626.2 283.2 620.6ZM301.2 619.5 307.1 622.7 307.1 628.2 301.2 630.5 295.2 627.2 295.2 621.7ZM313 620.5 318.8 623.7 318.8 629.2 313 631.5 307.1 628.2 307.1 622.7ZM324.6 621.4 330.3 624.6 330.3 630.2 324.6 632.5 318.8 629.2 318.8 623.7ZM16.5 603.5 24.5 607 24.5 612.7 16.5 614.9 8.4 611.3 8.4 605.6ZM32.5 604.8 40.4 608.3 40.4 614 32.5 616.2 24.5 612.7 24.5 607ZM48.3 606.2 56.1 609.6 56.1 615.3 48.3 617.6 40.4 614 40.4 608.3ZM63.8 607.5 71.5 611 71.5 616.7 63.8 618.9 56.1 615.3 56.1 609.6ZM79.1 608.8 86.7 612.2 86.7 617.9 79.1 620.2 71.5 616.7 71.5 611ZM94.2 610.1 101.6 613.5 101.6 619.2 94.2 621.5 86.7 617.9 86.7 612.2ZM109 611.3 116.4 614.8 116.4 620.5 109 622.7 101.6 619.2 101.6 613.5ZM123.7 612.6 130.9 616 130.9 621.7 123.7 624 116.4 620.5 116.4 614.8ZM138.1 613.8 145.2 617.2 145.2 622.9 138.1 625.2 130.9 621.7 130.9 616ZM152.3 615 159.3 618.4 159.3 624.1 152.3 626.4 145.2 622.9 145.2 617.2ZM166.3 616.2 173.2 619.6 173.2 625.3 166.3 627.6 159.3 624.1 159.3 618.4ZM180.1 617.4 186.9 620.8 186.9 626.5 180.1 628.8 173.2 625.3 173.2 619.6ZM193.6 618.5 200.4 621.9 200.4 627.6 193.6 629.9 186.9 626.5 186.9 620.8ZM207 619.7 213.6 623 213.6 628.7 207 631.1 200.4 627.6 200.4 621.9ZM220.2 620.8 226.7 624.2 226.7 629.8 220.2 632.2 213.6 628.7 213.6 623ZM233.2 621.9 239.6 625.2 239.6 630.9 233.2 633.3 226.7 629.8 226.7 624.2ZM246 623 252.3 626.3 252.3 632 246 634.4 239.6 630.9 239.6 625.2ZM258.6 624.1 264.8 627.4 264.8 633.1 258.6 635.5 252.3 632 252.3 626.3ZM271 625.1 277.1 628.4 277.1 634.1 271 636.5 264.8 633.1 264.8 627.4ZM283.2 626.2 289.2 629.5 289.2 635.2 283.2 637.5 277.1 634.1 277.1 628.4ZM295.2 627.2 301.2 630.5 301.2 636.2 295.2 638.6 289.2 635.2 289.2 629.5ZM307.1 628.2 313 631.5 313 637.2 307.1 639.6 301.2 636.2 301.2 630.5ZM318.8 629.2 324.6 632.5 324.6 638.2 318.8 640.6 313 637.2 313 631.5ZM56.1 615.3 63.8 618.9 63.8 624.8 56.1 627.1 48.3 623.5 48.3 617.6ZM71.5 616.7 79.1 620.2 79.1 626.1 71.5 628.4 63.8 624.8 63.8 618.9ZM86.7 617.9 94.2 621.5 94.2 627.4 86.7 629.7 79.1 626.1 79.1 620.2ZM101.6 619.2 109 622.7 109 628.6 101.6 631 94.2 627.4 94.2 621.5ZM116.4 620.5 123.7 624 123.7 629.9 116.4 632.2 109 628.6 109 622.7ZM130.9 621.7 138.1 625.2 138.1 631.1 130.9 633.5 123.7 629.9 123.7 624ZM145.2 622.9 152.3 626.4 152.3 632.3 145.2 634.7 138.1 631.1 138.1 625.2ZM159.3 624.1 166.3 627.6 166.3 633.5 159.3 635.9 152.3 632.3 152.3 626.4ZM173.2 625.3 180.1 628.8 180.1 634.7 173.2 637.1 166.3 633.5 166.3 627.6ZM186.9 626.5 193.6 629.9 193.6 635.8 186.9 638.2 180.1 634.7 180.1 628.8ZM200.4 627.6 207 631.1 207 637 200.4 639.4 193.6 635.8 193.6 629.9ZM213.6 628.7 220.2 632.2 220.2 638.1 213.6 640.5 207 637 207 631.1ZM226.7 629.8 233.2 633.3 233.2 639.2 226.7 641.6 220.2 638.1 220.2 632.2ZM239.6 630.9 246 634.4 246 640.3 239.6 642.7 233.2 639.2 233.2 633.3ZM252.3 632 258.6 635.5 258.6 641.3 252.3 643.8 246 640.3 246 634.4ZM264.8 633.1 271 636.5 271 642.4 264.8 644.9 258.6 641.3 258.6 635.5ZM277.1 634.1 283.2 637.5 283.2 643.4 277.1 645.9 271 642.4 271 636.5ZM289.2 635.2 295.2 638.6 295.2 644.5 289.2 646.9 283.2 643.4 283.2 637.5ZM301.2 636.2 307.1 639.6 307.1 645.5 301.2 648 295.2 644.5 295.2 638.6ZM313 637.2 318.8 640.6 318.8 646.5 313 649 307.1 645.5 307.1 639.6ZM324.6 638.2 330.3 641.5 330.3 647.4 324.6 649.9 318.8 646.5 318.8 640.6ZM79.1 626.1 86.7 629.7 86.7 635.8 79.1 638.3 71.5 634.5 71.5 628.4ZM94.2 627.4 101.6 631 101.6 637.1 94.2 639.5 86.7 635.8 86.7 629.7ZM109 628.6 116.4 632.2 116.4 638.3 109 640.8 101.6 637.1 101.6 631ZM123.7 629.9 130.9 633.5 130.9 639.6 123.7 642 116.4 638.3 116.4 632.2ZM138.1 631.1 145.2 634.7 145.2 640.8 138.1 643.3 130.9 639.6 130.9 633.5ZM152.3 632.3 159.3 635.9 159.3 642 152.3 644.5 145.2 640.8 145.2 634.7ZM166.3 633.5 173.2 637.1 173.2 643.2 166.3 645.7 159.3 642 159.3 635.9ZM180.1 634.7 186.9 638.2 186.9 644.3 180.1 646.8 173.2 643.2 173.2 637.1ZM193.6 635.8 200.4 639.4 200.4 645.5 193.6 648 186.9 644.3 186.9 638.2ZM207 637 213.6 640.5 213.6 646.6 207 649.1 200.4 645.5 200.4 639.4ZM220.2 638.1 226.7 641.6 226.7 647.7 220.2 650.2 213.6 646.6 213.6 640.5ZM233.2 639.2 239.6 642.7 239.6 648.8 233.2 651.4 226.7 647.7 226.7 641.6ZM246 640.3 252.3 643.8 252.3 649.9 246 652.4 239.6 648.8 239.6 642.7ZM258.6 641.3 264.8 644.9 264.8 650.9 258.6 653.5 252.3 649.9 252.3 643.8ZM271 642.4 277.1 645.9 277.1 652 271 654.6 264.8 650.9 264.8 644.9ZM283.2 643.4 289.2 646.9 289.2 653 283.2 655.6 277.1 652 277.1 645.9ZM295.2 644.5 301.2 648 301.2 654 295.2 656.6 289.2 653 289.2 646.9ZM307.1 645.5 313 649 313 655 307.1 657.6 301.2 654 301.2 648ZM318.8 646.5 324.6 649.9 324.6 656 318.8 658.6 313 655 313 649ZM116.4 638.3 123.7 642 123.7 648.3 116.4 650.9 109 647.1 109 640.8ZM130.9 639.6 138.1 643.3 138.1 649.6 130.9 652.1 123.7 648.3 123.7 642ZM145.2 640.8 152.3 644.5 152.3 650.8 145.2 653.4 138.1 649.6 138.1 643.3ZM159.3 642 166.3 645.7 166.3 652 159.3 654.6 152.3 650.8 152.3 644.5ZM173.2 643.2 180.1 646.8 180.1 653.1 173.2 655.7 166.3 652 166.3 645.7ZM186.9 644.3 193.6 648 193.6 654.3 186.9 656.9 180.1 653.1 180.1 646.8ZM200.4 645.5 207 649.1 207 655.4 200.4 658 193.6 654.3 193.6 648ZM213.6 646.6 220.2 650.2 220.2 656.5 213.6 659.2 207 655.4 207 649.1ZM226.7 647.7 233.2 651.4 233.2 657.6 226.7 660.3 220.2 656.5 220.2 650.2ZM239.6 648.8 246 652.4 246 658.7 239.6 661.4 233.2 657.6 233.2 651.4ZM252.3 649.9 258.6 653.5 258.6 659.8 252.3 662.5 246 658.7 246 652.4ZM264.8 650.9 271 654.6 271 660.9 264.8 663.5 258.6 659.8 258.6 653.5ZM277.1 652 283.2 655.6 283.2 661.9 277.1 664.6 271 660.9 271 654.6ZM289.2 653 295.2 656.6 295.2 662.9 289.2 665.6 283.2 661.9 283.2 655.6ZM301.2 654 307.1 657.6 307.1 663.9 301.2 666.6 295.2 662.9 295.2 656.6ZM313 655 318.8 658.6 318.8 664.9 313 667.6 307.1 663.9 307.1 657.6ZM152.3 650.8 159.3 654.6 159.3 661.1 152.3 663.8 145.2 659.9 145.2 653.4ZM166.3 652 173.2 655.7 173.2 662.2 166.3 665 159.3 661.1 159.3 654.6ZM180.1 653.1 186.9 656.9 186.9 663.4 180.1 666.1 173.2 662.2 173.2 655.7ZM193.6 654.3 200.4 658 200.4 664.5 193.6 667.3 186.9 663.4 186.9 656.9ZM207 655.4 213.6 659.2 213.6 665.7 207 668.4 200.4 664.5 200.4 658ZM220.2 656.5 226.7 660.3 226.7 666.8 220.2 669.5 213.6 665.7 213.6 659.2ZM233.2 657.6 239.6 661.4 239.6 667.9 233.2 670.6 226.7 666.8 226.7 660.3ZM246 658.7 252.3 662.5 252.3 669 246 671.7 239.6 667.9 239.6 661.4ZM258.6 659.8 264.8 663.5 264.8 670 258.6 672.8 252.3 669 252.3 662.5ZM271 660.9 277.1 664.6 277.1 671.1 271 673.9 264.8 670 264.8 663.5ZM283.2 661.9 289.2 665.6 289.2 672.1 283.2 674.9 277.1 671.1 277.1 664.6ZM295.2 662.9 301.2 666.6 301.2 673.1 295.2 675.9 289.2 672.1 289.2 665.6ZM307.1 663.9 313 667.6 313 674.1 307.1 676.9 301.2 673.1 301.2 666.6ZM318.8 664.9 324.6 668.6 324.6 675.1 318.8 677.9 313 674.1 313 667.6ZM186.9 663.4 193.6 667.3 193.6 674 186.9 676.8 180.1 672.8 180.1 666.1ZM200.4 664.5 207 668.4 207 675.1 200.4 678 193.6 674 193.6 667.3ZM213.6 665.7 220.2 669.5 220.2 676.3 213.6 679.1 207 675.1 207 668.4ZM226.7 666.8 233.2 670.6 233.2 677.4 226.7 680.2 220.2 676.3 220.2 669.5ZM239.6 667.9 246 671.7 246 678.4 239.6 681.3 233.2 677.4 233.2 670.6ZM252.3 669 258.6 672.8 258.6 679.5 252.3 682.4 246 678.4 246 671.7ZM264.8 670 271 673.9 271 680.6 264.8 683.5 258.6 679.5 258.6 672.8ZM277.1 671.1 283.2 674.9 283.2 681.6 277.1 684.5 271 680.6 271 673.9ZM289.2 672.1 295.2 675.9 295.2 682.6 289.2 685.5 283.2 681.6 283.2 674.9ZM301.2 673.1 307.1 676.9 307.1 683.6 301.2 686.6 295.2 682.6 295.2 675.9ZM313 674.1 318.8 677.9 318.8 684.6 313 687.6 307.1 683.6 307.1 676.9ZM233.2 677.4 239.6 681.3 239.6 688.3 233.2 691.2 226.7 687.2 226.7 680.2ZM246 678.4 252.3 682.4 252.3 689.3 246 692.3 239.6 688.3 239.6 681.3ZM258.6 679.5 264.8 683.5 264.8 690.4 258.6 693.4 252.3 689.3 252.3 682.4ZM271 680.6 277.1 684.5 277.1 691.5 271 694.5 264.8 690.4 264.8 683.5ZM283.2 681.6 289.2 685.5 289.2 692.5 283.2 695.5 277.1 691.5 277.1 684.5ZM295.2 682.6 301.2 686.6 301.2 693.5 295.2 696.5 289.2 692.5 289.2 685.5ZM307.1 683.6 313 687.6 313 694.5 307.1 697.5 301.2 693.5 301.2 686.6ZM264.8 690.4 271 694.5 271 701.6 264.8 704.8 258.6 700.6 258.6 693.4ZM277.1 691.5 283.2 695.5 283.2 702.7 277.1 705.8 271 701.6 271 694.5ZM289.2 692.5 295.2 696.5 295.2 703.7 289.2 706.8 283.2 702.7 283.2 695.5ZM301.2 693.5 307.1 697.5 307.1 704.7 301.2 707.9 295.2 703.7 295.2 696.5Z" fill="none" stroke="#ececec" stroke-width="1.55"/>

<!-- fabric -->
<g clip-path="url(#fabClip)">
  <rect width="460" height="330" fill="#242424"/>
  <rect width="460" height="330" fill="url(#dots)" filter="url(#dmod)"/>
  <rect width="460" height="330" fill="#141414" filter="url(#speck)" opacity="0.25"/>
  <rect width="460" height="330" fill="url(#fabSmooth)"/>
</g>
<path d="M0 125 C60 80 110 40 163 0" fill="none" stroke="#8a8a8a" stroke-width="1.5" opacity="0.8"/>
<g stroke="#d8d8d8" stroke-width="0.8" opacity="0.45" fill="none">
<path d="M92 114 L152 62"/><path d="M120 102 L210 20"/><path d="M150 150 L175 112"/><path d="M200 95 L262 60"/>
</g>
<path d="M408 224 L418 229 C428 231 438 232 444 233 Q452 236 450 242 Q447 250 436 250 C420 252 405 255 392 257 C397 246 402 235 408 224 Z" fill="url(#lipGrad)"/>

<!-- curled zone -->
<g clip-path="url(#curlClip)">
  <rect x="-5" y="240" width="440" height="120" fill="url(#curlGrad)"/>
  <path d="M120 338.2 C145 273.2 190 253.6 433 277" stroke="#9a9a9a" stroke-width="1.15" fill="none"/>
<path d="M124 337.8 C149 273.2 194 254.6 433 277.3" stroke="#f8f8f8" stroke-width="2.2" fill="none"/>
<path d="M130.3 337 C155.3 272 200.3 252.9 433 277.5" stroke="#9a9a9a" stroke-width="1.15" fill="none"/>
<path d="M134.3 336.5 C159.3 272 204.3 253.9 433 277.8" stroke="#f8f8f8" stroke-width="2.2" fill="none"/>
<path d="M140.7 335.8 C165.7 270.8 210.7 252.2 433 278" stroke="#9a9a9a" stroke-width="1.15" fill="none"/>
<path d="M144.7 335.3 C169.7 270.8 214.7 253.2 433 278.3" stroke="#f8f8f8" stroke-width="2.2" fill="none"/>
<path d="M151 334.6 C176 269.6 221 251.4 433 278.6" stroke="#9a9a9a" stroke-width="1.15" fill="none"/>
<path d="M155 334.1 C180 269.6 225 252.4 433 278.9" stroke="#f8f8f8" stroke-width="2.2" fill="none"/>
<path d="M161.4 333.4 C186.4 268.4 231.4 250.7 433 279.1" stroke="#9a9a9a" stroke-width="1.15" fill="none"/>
<path d="M165.4 332.9 C190.4 268.4 235.4 251.7 433 279.4" stroke="#f8f8f8" stroke-width="2.2" fill="none"/>
<path d="M171.7 332.1 C196.7 267.1 241.7 250 433 279.6" stroke="#9a9a9a" stroke-width="1.15" fill="none"/>
<path d="M175.7 331.6 C200.7 267.1 245.7 251 433 279.9" stroke="#f8f8f8" stroke-width="2.2" fill="none"/>
<path d="M182.1 330.9 C207.1 265.9 252.1 249.3 433 280.1" stroke="#9a9a9a" stroke-width="1.15" fill="none"/>
<path d="M186.1 330.4 C211.1 265.9 256.1 250.3 433 280.4" stroke="#f8f8f8" stroke-width="2.2" fill="none"/>
<path d="M192.4 329.7 C217.4 264.7 262.4 248.5 433 280.6" stroke="#9a9a9a" stroke-width="1.15" fill="none"/>
<path d="M196.4 329.2 C221.4 264.7 266.4 249.5 433 280.9" stroke="#f8f8f8" stroke-width="2.2" fill="none"/>
<path d="M202.8 328.5 C227.8 263.5 272.8 247.8 433 281.1" stroke="#9a9a9a" stroke-width="1.15" fill="none"/>
<path d="M206.8 328 C231.8 263.5 276.8 248.8 433 281.4" stroke="#f8f8f8" stroke-width="2.2" fill="none"/>
<path d="M213.1 327.3 C238.1 262.3 283.1 247.1 433 281.7" stroke="#9a9a9a" stroke-width="1.15" fill="none"/>
<path d="M217.1 326.8 C242.1 262.3 287.1 248.1 433 282" stroke="#f8f8f8" stroke-width="2.2" fill="none"/>
<path d="M223.4 326 C248.4 261 293.4 246.4 433 282.2" stroke="#9a9a9a" stroke-width="1.15" fill="none"/>
<path d="M227.4 325.5 C252.4 261 297.4 247.4 433 282.5" stroke="#f8f8f8" stroke-width="2.2" fill="none"/>
<path d="M233.8 324.8 C258.8 259.8 303.8 245.6 433 282.7" stroke="#9a9a9a" stroke-width="1.15" fill="none"/>
<path d="M237.8 324.3 C262.8 259.8 307.8 246.6 433 283" stroke="#f8f8f8" stroke-width="2.2" fill="none"/>
<path d="M244.1 323.6 C269.1 258.6 314.1 244.9 433 283.2" stroke="#9a9a9a" stroke-width="1.15" fill="none"/>
<path d="M248.1 323.1 C273.1 258.6 318.1 245.9 433 283.5" stroke="#f8f8f8" stroke-width="2.2" fill="none"/>
<path d="M254.5 322.4 C279.5 257.4 324.5 244.2 433 283.7" stroke="#9a9a9a" stroke-width="1.15" fill="none"/>
<path d="M258.5 321.9 C283.5 257.4 328.5 245.2 433 284" stroke="#f8f8f8" stroke-width="2.2" fill="none"/>
<path d="M264.8 321.2 C289.8 256.2 334.8 243.5 433 284.2" stroke="#9a9a9a" stroke-width="1.15" fill="none"/>
<path d="M268.8 320.7 C293.8 256.2 338.8 244.5 433 284.5" stroke="#f8f8f8" stroke-width="2.2" fill="none"/>
<path d="M275.2 319.9 C300.2 254.9 345.2 242.7 433 284.8" stroke="#9a9a9a" stroke-width="1.15" fill="none"/>
<path d="M279.2 319.4 C304.2 254.9 349.2 243.7 433 285.1" stroke="#f8f8f8" stroke-width="2.2" fill="none"/>
<path d="M285.5 318.7 C310.5 253.7 355.5 242 433 285.3" stroke="#9a9a9a" stroke-width="1.15" fill="none"/>
<path d="M289.5 318.2 C314.5 253.7 359.5 243 433 285.6" stroke="#f8f8f8" stroke-width="2.2" fill="none"/>
<path d="M295.9 317.5 C320.9 252.5 365.9 241.3 433 285.8" stroke="#9a9a9a" stroke-width="1.15" fill="none"/>
<path d="M299.9 317 C324.9 252.5 369.9 242.3 433 286.1" stroke="#f8f8f8" stroke-width="2.2" fill="none"/>
<path d="M306.2 316.3 C331.2 251.3 376.2 240.6 433 286.3" stroke="#9a9a9a" stroke-width="1.15" fill="none"/>
<path d="M310.2 315.8 C335.2 251.3 380.2 241.6 433 286.6" stroke="#f8f8f8" stroke-width="2.2" fill="none"/>
<path d="M316.6 315.1 C341.6 250.1 386.6 239.8 433 286.8" stroke="#9a9a9a" stroke-width="1.15" fill="none"/>
<path d="M320.6 314.6 C345.6 250.1 390.6 240.8 433 287.1" stroke="#f8f8f8" stroke-width="2.2" fill="none"/>
<path d="M326.9 313.8 C351.9 248.8 396.9 239.1 433 287.3" stroke="#9a9a9a" stroke-width="1.15" fill="none"/>
<path d="M330.9 313.3 C355.9 248.8 400.9 240.1 433 287.6" stroke="#f8f8f8" stroke-width="2.2" fill="none"/>
<path d="M337.2 312.6 C362.2 247.6 407.2 238.4 433 287.9" stroke="#9a9a9a" stroke-width="1.15" fill="none"/>
<path d="M341.2 312.1 C366.2 247.6 411.2 239.4 433 288.2" stroke="#f8f8f8" stroke-width="2.2" fill="none"/>
<path d="M347.6 311.4 C372.6 246.4 417.6 237.7 433 288.4" stroke="#9a9a9a" stroke-width="1.15" fill="none"/>
<path d="M351.6 310.9 C376.6 246.4 421.6 238.7 433 288.7" stroke="#f8f8f8" stroke-width="2.2" fill="none"/>
<path d="M357.9 310.2 C382.9 245.2 425 236.9 433 288.9" stroke="#9a9a9a" stroke-width="1.15" fill="none"/>
<path d="M361.9 309.7 C386.9 245.2 428 237.9 433 289.2" stroke="#f8f8f8" stroke-width="2.2" fill="none"/>
<path d="M368.3 309 C393.3 244 425 236.2 433 289.4" stroke="#9a9a9a" stroke-width="1.15" fill="none"/>
<path d="M372.3 308.5 C397.3 244 428 237.2 433 289.7" stroke="#f8f8f8" stroke-width="2.2" fill="none"/>
<path d="M378.6 307.7 C403.6 242.7 425 235.5 433 289.9" stroke="#9a9a9a" stroke-width="1.15" fill="none"/>
<path d="M382.6 307.2 C407.6 242.7 428 236.5 433 290.2" stroke="#f8f8f8" stroke-width="2.2" fill="none"/>
<path d="M389 306.5 C414 241.5 425 234.8 433 290.4" stroke="#9a9a9a" stroke-width="1.15" fill="none"/>
<path d="M393 306 C418 241.5 428 235.8 433 290.7" stroke="#f8f8f8" stroke-width="2.2" fill="none"/>
<path d="M399.3 305.3 C424.3 240.3 425 234 433 291" stroke="#9a9a9a" stroke-width="1.15" fill="none"/>
<path d="M403.3 304.8 C428.3 240.3 428 235 433 291.3" stroke="#f8f8f8" stroke-width="2.2" fill="none"/>
<path d="M409.7 304.1 C434.7 239.1 425 233.3 433 291.5" stroke="#9a9a9a" stroke-width="1.15" fill="none"/>
<path d="M413.7 303.6 C438.7 239.1 428 234.3 433 291.8" stroke="#f8f8f8" stroke-width="2.2" fill="none"/>
<path d="M420 302.9 C445 237.9 425 232.6 433 292" stroke="#9a9a9a" stroke-width="1.15" fill="none"/>
<path d="M424 302.4 C449 237.9 428 233.6 433 292.3" stroke="#f8f8f8" stroke-width="2.2" fill="none"/>
</g>

<!-- upper mesh -->
<path d="M400.1 254.7 395.8 259.1 390.6 260.8 383.7 260.2 388 255.8 393.2 254ZM321.4 126 317.8 134.7 311.9 137.9 302.6 136 306.1 127.1 312.1 124ZM326.9 136.6 323.2 145 317.4 148.1 308.4 146.6 311.9 137.9 317.8 134.7ZM332.1 146.8 328.3 154.9 322.7 157.9 314 156.6 317.4 148.1 323.2 145ZM337.1 156.6 333.3 164.3 327.7 167.3 319.2 166.2 322.7 157.9 328.3 154.9ZM341.9 165.9 338 173.3 332.5 176.2 324.3 175.4 327.7 167.3 333.3 164.3ZM346.4 174.8 342.5 181.9 337.1 184.8 329 184.1 332.5 176.2 338 173.3ZM350.8 183.3 346.9 190.1 341.5 193 333.6 192.4 337.1 184.8 342.5 181.9ZM355 191.4 351 198 345.6 200.8 338 200.3 341.5 193 346.9 190.1ZM359 199.2 355 205.5 349.6 208.2 342.1 207.8 345.6 200.8 351 198ZM362.8 206.7 358.7 212.7 353.5 215.3 346.1 215 349.6 208.2 355 205.5ZM366.5 213.8 362.4 219.6 357.1 222.1 349.8 221.9 353.5 215.3 358.7 212.7ZM370 220.6 365.8 226.2 360.6 228.6 353.4 228.4 357.1 222.1 362.4 219.6ZM373.3 227.2 369.1 232.5 363.9 234.8 356.8 234.6 360.6 228.6 365.8 226.2ZM376.5 233.4 372.3 238.6 367.1 240.7 360.1 240.5 363.9 234.8 369.1 232.5ZM379.6 239.4 375.4 244.3 370.2 246.4 363.2 246.1 367.1 240.7 372.3 238.6ZM382.5 245.1 378.3 249.8 373.1 251.8 366.1 251.5 370.2 246.4 375.4 244.3ZM385.3 250.5 381 255.1 375.8 257 368.9 256.6 373.1 251.8 378.3 249.8ZM388 255.8 383.7 260.2 378.5 261.9 371.6 261.5 375.8 257 381 255.1ZM311.9 137.9 308.4 146.6 302.6 149.8 293.4 148 296.7 139.1 302.6 136ZM317.4 148.1 314 156.6 308.3 159.9 299.4 158.4 302.6 149.8 308.4 146.6ZM322.7 157.9 319.2 166.2 313.7 169.5 305 168.3 308.3 159.9 314 156.6ZM327.7 167.3 324.3 175.4 318.9 178.7 310.4 177.7 313.7 169.5 319.2 166.2ZM332.5 176.2 329 184.1 323.7 187.3 315.6 186.6 318.9 178.7 324.3 175.4ZM337.1 184.8 333.6 192.4 328.4 195.6 320.4 195 323.7 187.3 329 184.1ZM341.5 193 338 200.3 332.8 203.4 325 203 328.4 195.6 333.6 192.4ZM345.6 200.8 342.1 207.8 337 210.9 329.3 210.5 332.8 203.4 338 200.3ZM349.6 208.2 346.1 215 341 218 333.5 217.7 337 210.9 342.1 207.8ZM353.5 215.3 349.8 221.9 344.7 224.7 337.4 224.5 341 218 346.1 215ZM357.1 222.1 353.4 228.4 348.3 231.1 341.1 231 344.7 224.7 349.8 221.9ZM360.6 228.6 356.8 234.6 351.8 237.2 344.6 237.1 348.3 231.1 353.4 228.4ZM363.9 234.8 360.1 240.5 355 243 347.9 242.9 351.8 237.2 356.8 234.6ZM367.1 240.7 363.2 246.1 358.1 248.5 351.1 248.3 355 243 360.1 240.5ZM370.2 246.4 366.1 251.5 361 253.7 354.1 253.5 358.1 248.5 363.2 246.1ZM373.1 251.8 368.9 256.6 363.8 258.7 356.9 258.5 361 253.7 366.1 251.5ZM375.8 257 371.6 261.5 366.5 263.4 359.6 263.2 363.8 258.7 368.9 256.6ZM296.7 139.1 293.4 148 287.5 151.2 277.9 149.1 281 140.1 287 137ZM302.6 149.8 299.4 158.4 293.7 161.7 284.4 160 287.5 151.2 293.4 148ZM308.3 159.9 305 168.3 299.5 171.6 290.6 170.2 293.7 161.7 299.4 158.4ZM313.7 169.5 310.4 177.7 305 180.9 296.4 179.8 299.5 171.6 305 168.3ZM318.9 178.7 315.6 186.6 310.2 189.8 301.8 188.9 305 180.9 310.4 177.7ZM323.7 187.3 320.4 195 315.1 198.2 307 197.5 310.2 189.8 315.6 186.6ZM328.4 195.6 325 203 319.8 206.1 311.9 205.6 315.1 198.2 320.4 195ZM332.8 203.4 329.3 210.5 324.2 213.6 316.5 213.2 319.8 206.1 325 203ZM337 210.9 333.5 217.7 328.4 220.7 320.8 220.4 324.2 213.6 329.3 210.5ZM341 218 337.4 224.5 332.3 227.4 324.9 227.2 328.4 220.7 333.5 217.7ZM344.7 224.7 341.1 231 336 233.7 328.7 233.6 332.3 227.4 337.4 224.5ZM348.3 231.1 344.6 237.1 339.5 239.7 332.3 239.6 336 233.7 341.1 231ZM351.8 237.2 347.9 242.9 342.9 245.4 335.8 245.3 339.5 239.7 344.6 237.1ZM355 243 351.1 248.3 346 250.7 339 250.7 342.9 245.4 347.9 242.9ZM358.1 248.5 354.1 253.5 349 255.8 342 255.7 346 250.7 351.1 248.3ZM361 253.7 356.9 258.5 351.8 260.6 344.9 260.5 349 255.8 354.1 253.5ZM363.8 258.7 359.6 263.2 354.5 265.1 347.6 265 351.8 260.6 356.9 258.5ZM287.5 151.2 284.4 160 278.6 163.2 269 161.3 271.9 152.3 277.9 149.1ZM293.7 161.7 290.6 170.2 285 173.4 275.7 171.9 278.6 163.2 284.4 160ZM299.5 171.6 296.4 179.8 290.9 183.1 282 181.8 285 173.4 290.6 170.2ZM305 180.9 301.8 188.9 296.5 192.2 287.9 191.2 290.9 183.1 296.4 179.8ZM310.2 189.8 307 197.5 301.7 200.7 293.4 200 296.5 192.2 301.8 188.9ZM315.1 198.2 311.9 205.6 306.7 208.7 298.6 208.2 301.7 200.7 307 197.5ZM319.8 206.1 316.5 213.2 311.3 216.3 303.4 215.9 306.7 208.7 311.9 205.6ZM324.2 213.6 320.8 220.4 315.7 223.4 308 223.1 311.3 216.3 316.5 213.2ZM328.4 220.7 324.9 227.2 319.8 230.1 312.3 229.9 315.7 223.4 320.8 220.4ZM332.3 227.4 328.7 233.6 323.7 236.4 316.3 236.3 319.8 230.1 324.9 227.2ZM336 233.7 332.3 239.6 327.3 242.3 320 242.3 323.7 236.4 328.7 233.6ZM339.5 239.7 335.8 245.3 330.7 247.9 323.6 247.9 327.3 242.3 332.3 239.6ZM342.9 245.4 339 250.7 333.9 253.1 326.9 253.2 330.7 247.9 335.8 245.3ZM346 250.7 342 255.7 337 258 330 258.1 333.9 253.1 339 250.7ZM349 255.8 344.9 260.5 339.8 262.7 332.9 262.7 337 258 342 255.7ZM351.8 260.6 347.6 265 342.5 267 335.7 267.1 339.8 262.7 344.9 260.5ZM271.9 152.3 269 161.3 263.2 164.4 253.1 162.3 255.9 153.1 261.9 149.9ZM278.6 163.2 275.7 171.9 270 175.1 260.4 173.3 263.2 164.4 269 161.3ZM285 173.4 282 181.8 276.5 185.1 267.3 183.7 270 175.1 275.7 171.9ZM290.9 183.1 287.9 191.2 282.5 194.4 273.6 193.3 276.5 185.1 282 181.8ZM296.5 192.2 293.4 200 288.1 203.1 279.5 202.3 282.5 194.4 287.9 191.2ZM301.7 200.7 298.6 208.2 293.3 211.3 285.1 210.7 288.1 203.1 293.4 200ZM306.7 208.7 303.4 215.9 298.3 219 290.2 218.5 293.3 211.3 298.6 208.2ZM311.3 216.3 308 223.1 302.9 226.1 295.1 225.9 298.3 219 303.4 215.9ZM315.7 223.4 312.3 229.9 307.2 232.8 299.6 232.7 302.9 226.1 308 223.1ZM319.8 230.1 316.3 236.3 311.2 239.1 303.8 239.1 307.2 232.8 312.3 229.9ZM323.7 236.4 320 242.3 315 245 307.7 245 311.2 239.1 316.3 236.3ZM327.3 242.3 323.6 247.9 318.5 250.5 311.3 250.6 315 245 320 242.3ZM330.7 247.9 326.9 253.2 321.8 255.6 314.8 255.8 318.5 250.5 323.6 247.9ZM333.9 253.1 330 258.1 324.9 260.4 318 260.6 321.8 255.6 326.9 253.2ZM337 258 332.9 262.7 327.8 264.9 320.9 265.1 324.9 260.4 330 258.1ZM339.8 262.7 335.7 267.1 330.6 269.1 323.7 269.3 327.8 264.9 332.9 262.7ZM263.2 164.4 260.4 173.3 254.7 176.5 244.7 174.5 247.2 165.4 253.1 162.3ZM270 175.1 267.3 183.7 261.7 186.9 252.1 185.3 254.7 176.5 260.4 173.3ZM276.5 185.1 273.6 193.3 268.2 196.5 259 195.3 261.7 186.9 267.3 183.7ZM282.5 194.4 279.5 202.3 274.2 205.5 265.4 204.5 268.2 196.5 273.6 193.3ZM288.1 203.1 285.1 210.7 279.8 213.8 271.4 213.1 274.2 205.5 279.5 202.3ZM293.3 211.3 290.2 218.5 285.1 221.6 276.9 221.1 279.8 213.8 285.1 210.7ZM298.3 219 295.1 225.9 289.9 228.9 282 228.6 285.1 221.6 290.2 218.5ZM302.9 226.1 299.6 232.7 294.5 235.6 286.7 235.5 289.9 228.9 295.1 225.9ZM307.2 232.8 303.8 239.1 298.7 241.9 291.2 241.9 294.5 235.6 299.6 232.7ZM311.2 239.1 307.7 245 302.7 247.7 295.3 247.8 298.7 241.9 303.8 239.1ZM315 245 311.3 250.6 306.3 253.2 299.1 253.3 302.7 247.7 307.7 245ZM318.5 250.5 314.8 255.8 309.7 258.2 302.6 258.4 306.3 253.2 311.3 250.6ZM321.8 255.6 318 260.6 312.9 262.9 305.9 263.2 309.7 258.2 314.8 255.8ZM324.9 260.4 320.9 265.1 315.9 267.3 308.9 267.6 312.9 262.9 318 260.6ZM247.2 165.4 244.7 174.5 238.9 177.7 228.4 175.4 230.7 166.1 236.7 162.9ZM254.7 176.5 252.1 185.3 246.5 188.5 236.5 186.6 238.9 177.7 244.7 174.5ZM261.7 186.9 259 195.3 253.5 198.5 244 197 246.5 188.5 252.1 185.3ZM268.2 196.5 265.4 204.5 260 207.7 251 206.6 253.5 198.5 259 195.3ZM274.2 205.5 271.4 213.1 266.1 216.3 257.4 215.5 260 207.7 265.4 204.5ZM279.8 213.8 276.9 221.1 271.7 224.2 263.3 223.7 266.1 216.3 271.4 213.1ZM285.1 221.6 282 228.6 276.9 231.5 268.7 231.2 271.7 224.2 276.9 221.1ZM289.9 228.9 286.7 235.5 281.7 238.4 273.8 238.2 276.9 231.5 282 228.6ZM294.5 235.6 291.2 241.9 286.1 244.7 278.5 244.6 281.7 238.4 286.7 235.5ZM298.7 241.9 295.3 247.8 290.2 250.5 282.8 250.6 286.1 244.7 291.2 241.9ZM302.7 247.7 299.1 253.3 294.1 255.9 286.7 256.1 290.2 250.5 295.3 247.8ZM306.3 253.2 302.6 258.4 297.6 260.9 290.4 261.2 294.1 255.9 299.1 253.3ZM309.7 258.2 305.9 263.2 300.9 265.6 293.8 265.9 297.6 260.9 302.6 258.4ZM312.9 262.9 308.9 267.6 303.9 269.9 296.9 270.2 300.9 265.6 305.9 263.2ZM238.9 177.7 236.5 186.6 230.8 189.8 220.4 187.7 222.5 178.6 228.4 175.4ZM246.5 188.5 244 197 238.5 200.2 228.6 198.6 230.8 189.8 236.5 186.6ZM253.5 198.5 251 206.6 245.6 209.8 236.2 208.5 238.5 200.2 244 197ZM260 207.7 257.4 215.5 252.1 218.6 243.1 217.7 245.6 209.8 251 206.6ZM266.1 216.3 263.3 223.7 258.1 226.7 249.4 226.1 252.1 218.6 257.4 215.5ZM271.7 224.2 268.7 231.2 263.6 234.2 255.3 233.8 258.1 226.7 263.3 223.7ZM276.9 231.5 273.8 238.2 268.7 241.1 260.7 240.9 263.6 234.2 268.7 231.2ZM281.7 238.4 278.5 244.6 273.4 247.5 265.6 247.4 268.7 241.1 273.8 238.2ZM286.1 244.7 282.8 250.6 277.7 253.3 270.2 253.4 273.4 247.5 278.5 244.6ZM290.2 250.5 286.7 256.1 281.7 258.7 274.3 259 277.7 253.3 282.8 250.6ZM294.1 255.9 290.4 261.2 285.4 263.7 278.2 264 281.7 258.7 286.7 256.1ZM297.6 260.9 293.8 265.9 288.8 268.3 281.7 268.7 285.4 263.7 290.4 261.2ZM300.9 265.6 296.9 270.2 291.9 272.5 284.9 273 288.8 268.3 293.8 265.9ZM222.5 178.6 220.4 187.7 214.6 190.9 203.7 188.5 205.4 179.1 211.5 176ZM230.8 189.8 228.6 198.6 223 201.7 212.7 199.9 214.6 190.9 220.4 187.7ZM238.5 200.2 236.2 208.5 230.7 211.7 220.9 210.3 223 201.7 228.6 198.6ZM245.6 209.8 243.1 217.7 237.7 220.8 228.4 219.7 230.7 211.7 236.2 208.5ZM252.1 218.6 249.4 226.1 244.2 229.2 235.3 228.4 237.7 220.8 243.1 217.7ZM258.1 226.7 255.3 233.8 250.1 236.8 241.6 236.3 244.2 229.2 249.4 226.1ZM263.6 234.2 260.7 240.9 255.6 243.8 247.4 243.6 250.1 236.8 255.3 233.8ZM268.7 241.1 265.6 247.4 260.6 250.3 252.6 250.2 255.6 243.8 260.7 240.9ZM273.4 247.5 270.2 253.4 265.1 256.2 257.4 256.3 260.6 250.3 265.6 247.4ZM277.7 253.3 274.3 259 269.3 261.6 261.8 261.8 265.1 256.2 270.2 253.4ZM281.7 258.7 278.2 264 273.2 266.5 265.8 266.9 269.3 261.6 274.3 259ZM285.4 263.7 281.7 268.7 276.7 271.1 269.5 271.5 273.2 266.5 278.2 264ZM288.8 268.3 284.9 273 279.9 275.3 272.9 275.8 276.7 271.1 281.7 268.7ZM291.9 272.5 287.9 276.9 282.9 279.1 276 279.6 279.9 275.3 284.9 273ZM214.6 190.9 212.7 199.9 207 203.1 196.2 200.9 197.8 191.7 203.7 188.5ZM223 201.7 220.9 210.3 215.4 213.4 205.2 211.8 207 203.1 212.7 199.9ZM230.7 211.7 228.4 219.7 223.1 222.9 213.4 221.6 215.4 213.4 220.9 210.3ZM237.7 220.8 235.3 228.4 230.1 231.5 220.9 230.6 223.1 222.9 228.4 219.7ZM244.2 229.2 241.6 236.3 236.4 239.4 227.7 238.8 230.1 231.5 235.3 228.4ZM250.1 236.8 247.4 243.6 242.3 246.5 233.8 246.2 236.4 239.4 241.6 236.3ZM255.6 243.8 252.6 250.2 247.6 253.1 239.5 253 242.3 246.5 247.4 243.6ZM260.6 250.3 257.4 256.3 252.4 259 244.6 259.1 247.6 253.1 252.6 250.2ZM265.1 256.2 261.8 261.8 256.8 264.5 249.2 264.7 252.4 259 257.4 256.3ZM269.3 261.6 265.8 266.9 260.8 269.4 253.5 269.8 256.8 264.5 261.8 261.8ZM273.2 266.5 269.5 271.5 264.5 274 257.3 274.4 260.8 269.4 265.8 266.9ZM276.7 271.1 272.9 275.8 267.9 278.1 260.8 278.6 264.5 274 269.5 271.5ZM279.9 275.3 276 279.6 270.9 281.9 264 282.5 267.9 278.1 272.9 275.8ZM197.8 191.7 196.2 200.9 190.4 204.1 179 201.7 180.2 192.1 186.3 189ZM207 203.1 205.2 211.8 199.6 214.9 188.9 213.1 190.4 204.1 196.2 200.9ZM215.4 213.4 213.4 221.6 208 224.8 197.9 223.4 199.6 214.9 205.2 211.8ZM223.1 222.9 220.9 230.6 215.6 233.7 206 232.7 208 224.8 213.4 221.6ZM230.1 231.5 227.7 238.8 222.5 241.8 213.4 241.1 215.6 233.7 220.9 230.6ZM236.4 239.4 233.8 246.2 228.7 249.2 220.1 248.8 222.5 241.8 227.7 238.8ZM242.3 246.5 239.5 253 234.4 255.8 226.1 255.7 228.7 249.2 233.8 246.2ZM247.6 253.1 244.6 259.1 239.5 261.9 231.6 261.9 234.4 255.8 239.5 253ZM252.4 259 249.2 264.7 244.2 267.4 236.5 267.6 239.5 261.9 244.6 259.1ZM256.8 264.5 253.5 269.8 248.5 272.4 241 272.7 244.2 267.4 249.2 264.7ZM260.8 269.4 257.3 274.4 252.3 276.9 245 277.4 248.5 272.4 253.5 269.8ZM264.5 274 260.8 278.6 255.8 281 248.7 281.6 252.3 276.9 257.3 274.4ZM267.9 278.1 264 282.5 259 284.7 252 285.4 255.8 281 260.8 278.6ZM270.9 281.9 266.9 285.9 261.8 288.1 255 288.8 259 284.7 264 282.5ZM190.4 204.1 188.9 213.1 183.2 216.2 172 214.1 173 204.8 179 201.7ZM199.6 214.9 197.9 223.4 192.4 226.5 181.8 224.9 183.2 216.2 188.9 213.1ZM208 224.8 206 232.7 200.7 235.8 190.8 234.6 192.4 226.5 197.9 223.4ZM215.6 233.7 213.4 241.1 208.2 244.2 198.8 243.4 200.7 235.8 206 232.7ZM222.5 241.8 220.1 248.8 214.9 251.7 206 251.3 208.2 244.2 213.4 241.1ZM228.7 249.2 226.1 255.7 221 258.5 212.5 258.4 214.9 251.7 220.1 248.8ZM234.4 255.8 231.6 261.9 226.5 264.7 218.3 264.7 221 258.5 226.1 255.7ZM239.5 261.9 236.5 267.6 231.5 270.3 223.6 270.5 226.5 264.7 231.6 261.9ZM244.2 267.4 241 272.7 236 275.3 228.4 275.7 231.5 270.3 236.5 267.6ZM248.5 272.4 245 277.4 240 279.8 232.6 280.3 236 275.3 241 272.7ZM252.3 276.9 248.7 281.6 243.7 283.9 236.5 284.5 240 279.8 245 277.4ZM255.8 281 252 285.4 247 287.6 239.9 288.3 243.7 283.9 248.7 281.6ZM259 284.7 255 288.8 249.9 291 243.1 291.7 247 287.6 252 285.4ZM173 204.8 172 214.1 166.1 217.2 154.2 214.8 154.9 205.2 161 202.1ZM183.2 216.2 181.8 224.9 176.3 228 165.2 226.2 166.1 217.2 172 214.1ZM192.4 226.5 190.8 234.6 185.3 237.7 175 236.4 176.3 228 181.8 224.9ZM200.7 235.8 198.8 243.4 193.5 246.4 183.7 245.5 185.3 237.7 190.8 234.6ZM208.2 244.2 206 251.3 200.8 254.2 191.6 253.6 193.5 246.4 198.8 243.4ZM214.9 251.7 212.5 258.4 207.4 261.2 198.6 260.9 200.8 254.2 206 251.3ZM221 258.5 218.3 264.7 213.3 267.5 204.9 267.5 207.4 261.2 212.5 258.4ZM226.5 264.7 223.6 270.5 218.6 273.2 210.6 273.4 213.3 267.5 218.3 264.7ZM231.5 270.3 228.4 275.7 223.4 278.3 215.6 278.6 218.6 273.2 223.6 270.5ZM236 275.3 232.6 280.3 227.6 282.8 220.1 283.3 223.4 278.3 228.4 275.7ZM240 279.8 236.5 284.5 231.5 286.9 224.2 287.5 227.6 282.8 232.6 280.3ZM243.7 283.9 239.9 288.3 234.9 290.6 227.8 291.3 231.5 286.9 236.5 284.5ZM247 287.6 243.1 291.7 238 293.9 231.1 294.7 234.9 290.6 239.9 288.3ZM249.9 291 245.9 294.8 240.8 296.9 234 297.7 238 293.9 243.1 291.7ZM166.1 217.2 165.2 226.2 159.5 229.3 147.8 227.2 148.3 218 154.2 214.8ZM176.3 228 175 236.4 169.5 239.4 158.6 237.9 159.5 229.3 165.2 226.2ZM185.3 237.7 183.7 245.5 178.4 248.5 168.2 247.4 169.5 239.4 175 236.4ZM193.5 246.4 191.6 253.6 186.4 256.6 176.8 255.9 178.4 248.5 183.7 245.5ZM200.8 254.2 198.6 260.9 193.5 263.8 184.4 263.5 186.4 256.6 191.6 253.6ZM207.4 261.2 204.9 267.5 199.9 270.3 191.2 270.2 193.5 263.8 198.6 260.9ZM213.3 267.5 210.6 273.4 205.5 276.1 197.3 276.2 199.9 270.3 204.9 267.5ZM218.6 273.2 215.6 278.6 210.6 281.2 202.7 281.6 205.5 276.1 210.6 273.4ZM223.4 278.3 220.1 283.3 215.2 285.8 207.6 286.3 210.6 281.2 215.6 278.6ZM227.6 282.8 224.2 287.5 219.2 289.9 211.8 290.6 215.2 285.8 220.1 283.3ZM231.5 286.9 227.8 291.3 222.8 293.6 215.7 294.4 219.2 289.9 224.2 287.5ZM234.9 290.6 231.1 294.7 226.1 296.9 219.1 297.7 222.8 293.6 227.8 291.3ZM238 293.9 234 297.7 229 299.8 222.1 300.7 226.1 296.9 231.1 294.7ZM148.3 218 147.8 227.2 142 230.3 129.5 227.9 129.6 218.4 135.6 215.2ZM159.5 229.3 158.6 237.9 153 241 141.5 239.2 142 230.3 147.8 227.2ZM169.5 239.4 168.2 247.4 162.8 250.5 152.1 249.2 153 241 158.6 237.9ZM178.4 248.5 176.8 255.9 171.5 258.9 161.5 258 162.8 250.5 168.2 247.4ZM186.4 256.6 184.4 263.5 179.3 266.4 169.9 265.9 171.5 258.9 176.8 255.9ZM193.5 263.8 191.2 270.2 186.2 273 177.3 272.9 179.3 266.4 184.4 263.5ZM199.9 270.3 197.3 276.2 192.3 278.9 183.8 279 186.2 273 191.2 270.2ZM205.5 276.1 202.7 281.6 197.7 284.2 189.7 284.5 192.3 278.9 197.3 276.2ZM210.6 281.2 207.6 286.3 202.6 288.8 194.8 289.3 197.7 284.2 202.7 281.6ZM215.2 285.8 211.8 290.6 206.9 293 199.4 293.6 202.6 288.8 207.6 286.3ZM219.2 289.9 215.7 294.4 210.7 296.7 203.4 297.4 206.9 293 211.8 290.6ZM222.8 293.6 219.1 297.7 214.1 300 207 300.8 210.7 296.7 215.7 294.4ZM226.1 296.9 222.1 300.7 217.1 302.9 210.2 303.8 214.1 300 219.1 297.7ZM229 299.8 224.8 303.4 219.8 305.5 213 306.5 217.1 302.9 222.1 300.7ZM142 230.3 141.5 239.2 135.8 242.3 123.6 240.3 123.6 231.1 129.5 227.9ZM153 241 152.1 249.2 146.6 252.3 135.4 250.8 135.8 242.3 141.5 239.2ZM162.8 250.5 161.5 258 156.2 261 145.8 260.1 146.6 252.3 152.1 249.2ZM171.5 258.9 169.9 265.9 164.7 268.8 154.9 268.2 156.2 261 161.5 258ZM179.3 266.4 177.3 272.9 172.2 275.7 163 275.4 164.7 268.8 169.9 265.9ZM186.2 273 183.8 279 178.8 281.7 170.1 281.8 172.2 275.7 177.3 272.9ZM192.3 278.9 189.7 284.5 184.6 287.1 176.4 287.4 178.8 281.7 183.8 279ZM197.7 284.2 194.8 289.3 189.8 291.9 181.9 292.3 184.6 287.1 189.7 284.5ZM202.6 288.8 199.4 293.6 194.4 296.1 186.8 296.7 189.8 291.9 194.8 289.3ZM206.9 293 203.4 297.4 198.5 299.8 191.1 300.5 194.4 296.1 199.4 293.6ZM210.7 296.7 207 300.8 202 303.1 194.9 303.9 198.5 299.8 203.4 297.4ZM214.1 300 210.2 303.8 205.2 306 198.2 306.9 202 303.1 207 300.8ZM217.1 302.9 213 306.5 208 308.5 201.2 309.6 205.2 306 210.2 303.8ZM123.6 231.1 123.6 240.3 117.8 243.4 104.8 241.1 104.2 231.5 110.3 228.4ZM135.8 242.3 135.4 250.8 129.8 253.9 117.9 252.2 117.8 243.4 123.6 240.3ZM146.6 252.3 145.8 260.1 140.4 263.1 129.4 261.9 129.8 253.9 135.4 250.8ZM156.2 261 154.9 268.2 149.7 271.1 139.4 270.4 140.4 263.1 145.8 260.1ZM164.7 268.8 163 275.4 157.8 278.3 148.3 277.9 149.7 271.1 154.9 268.2ZM172.2 275.7 170.1 281.8 165 284.5 156 284.5 157.8 278.3 163 275.4ZM178.8 281.7 176.4 287.4 171.4 290 162.8 290.3 165 284.5 170.1 281.8ZM184.6 287.1 181.9 292.3 176.9 294.9 168.8 295.3 171.4 290 176.4 287.4ZM189.8 291.9 186.8 296.7 181.8 299.1 174.1 299.8 176.9 294.9 181.9 292.3ZM194.4 296.1 191.1 300.5 186.1 302.9 178.6 303.7 181.8 299.1 186.8 296.7ZM198.5 299.8 194.9 303.9 189.9 306.2 182.7 307.1 186.1 302.9 191.1 300.5ZM202 303.1 198.2 306.9 193.2 309.1 186.2 310.1 189.9 306.2 194.9 303.9ZM205.2 306 201.2 309.6 196.2 311.6 189.3 312.7 193.2 309.1 198.2 306.9ZM117.8 243.4 117.9 252.2 112.2 255.3 99.5 253.3 98.9 244.2 104.8 241.1ZM129.8 253.9 129.4 261.9 123.9 264.9 112.3 263.6 112.2 255.3 117.9 252.2ZM140.4 263.1 139.4 270.4 134.1 273.4 123.4 272.5 123.9 264.9 129.4 261.9ZM149.7 271.1 148.3 277.9 143.1 280.8 133.1 280.3 134.1 273.4 139.4 270.4ZM157.8 278.3 156 284.5 150.9 287.3 141.6 287.1 143.1 280.8 148.3 277.9ZM165 284.5 162.8 290.3 157.8 292.9 149 293.1 150.9 287.3 156 284.5ZM171.4 290 168.8 295.3 163.8 297.9 155.5 298.3 157.8 292.9 162.8 290.3ZM176.9 294.9 174.1 299.8 169.1 302.2 161.1 302.8 163.8 297.9 168.8 295.3ZM181.8 299.1 178.6 303.7 173.7 306 166.1 306.8 169.1 302.2 174.1 299.8ZM186.1 302.9 182.7 307.1 177.7 309.3 170.4 310.2 173.7 306 178.6 303.7ZM189.9 306.2 186.2 310.1 181.2 312.3 174.1 313.3 177.7 309.3 182.7 307.1ZM193.2 309.1 189.3 312.7 184.3 314.8 177.4 315.9 181.2 312.3 186.2 310.1ZM98.9 244.2 99.5 253.3 93.7 256.4 80.1 254.2 78.8 244.8 84.9 241.6ZM112.2 255.3 112.3 263.6 106.7 266.6 94.3 265.1 93.7 256.4 99.5 253.3ZM123.9 264.9 123.4 272.5 118 275.5 106.7 274.5 106.7 266.6 112.3 263.6ZM134.1 273.4 133.1 280.3 127.9 283.2 117.4 282.6 118 275.5 123.4 272.5ZM143.1 280.8 141.6 287.1 136.5 289.9 126.8 289.7 127.9 283.2 133.1 280.3ZM150.9 287.3 149 293.1 144 295.8 134.9 295.9 136.5 289.9 141.6 287.1ZM157.8 292.9 155.5 298.3 150.5 300.9 141.9 301.2 144 295.8 149 293.1ZM163.8 297.9 161.1 302.8 156.2 305.3 148 305.9 150.5 300.9 155.5 298.3ZM169.1 302.2 166.1 306.8 161.1 309.2 153.3 309.9 156.2 305.3 161.1 302.8ZM173.7 306 170.4 310.2 165.4 312.5 157.9 313.4 161.1 309.2 166.1 306.8ZM177.7 309.3 174.1 313.3 169.1 315.5 161.9 316.5 165.4 312.5 170.4 310.2ZM181.2 312.3 177.4 315.9 172.4 318 165.4 319.1 169.1 315.5 174.1 313.3ZM93.7 256.4 94.3 265.1 88.7 268.1 75.4 266.3 74.1 257.4 80.1 254.2ZM106.7 266.6 106.7 274.5 101.3 277.4 89.2 276.2 88.7 268.1 94.3 265.1ZM118 275.5 117.4 282.6 112.2 285.5 101.1 284.8 101.3 277.4 106.7 274.5ZM127.9 283.2 126.8 289.7 121.6 292.5 111.4 292.2 112.2 285.5 117.4 282.6ZM136.5 289.9 134.9 295.9 129.8 298.6 120.3 298.6 121.6 292.5 126.8 289.7ZM144 295.8 141.9 301.2 136.9 303.8 128 304.1 129.8 298.6 134.9 295.9ZM150.5 300.9 148 305.9 143 308.4 134.7 308.9 136.9 303.8 141.9 301.2ZM156.2 305.3 153.3 309.9 148.4 312.3 140.4 313 143 308.4 148 305.9ZM161.1 309.2 157.9 313.4 153 315.7 145.4 316.6 148.4 312.3 153.3 309.9ZM165.4 312.5 161.9 316.5 157 318.7 149.7 319.7 153 315.7 157.9 313.4ZM169.1 315.5 165.4 319.1 160.4 321.2 153.4 322.3 157 318.7 161.9 316.5ZM74.1 257.4 75.4 266.3 69.6 269.4 55.3 267.4 53.3 258 59.4 254.8ZM88.7 268.1 89.2 276.2 83.7 279.3 70.8 277.8 69.6 269.4 75.4 266.3ZM101.3 277.4 101.1 284.8 95.8 287.7 84.1 286.9 83.7 279.3 89.2 276.2ZM112.2 285.5 111.4 292.2 106.2 295 95.5 294.6 95.8 287.7 101.1 284.8ZM121.6 292.5 120.3 298.6 115.2 301.3 105.3 301.3 106.2 295 111.4 292.2ZM129.8 298.6 128 304.1 123 306.7 113.8 307 115.2 301.3 120.3 298.6ZM136.9 303.8 134.7 308.9 129.7 311.4 121 311.9 123 306.7 128 304.1ZM143 308.4 140.4 313 135.4 315.4 127.3 316.2 129.7 311.4 134.7 308.9ZM148.4 312.3 145.4 316.6 140.4 318.9 132.6 319.8 135.4 315.4 140.4 313ZM153 315.7 149.7 319.7 144.7 321.9 137.3 322.9 140.4 318.9 145.4 316.6ZM157 318.7 153.4 322.3 148.4 324.5 141.2 325.6 144.7 321.9 149.7 319.7ZM69.6 269.4 70.8 277.8 65.2 280.9 51.3 279.3 49.4 270.5 55.3 267.4ZM83.7 279.3 84.1 286.9 78.7 289.8 66.2 288.8 65.2 280.9 70.8 277.8ZM95.8 287.7 95.5 294.6 90.3 297.5 78.9 296.9 78.7 289.8 84.1 286.9ZM106.2 295 105.3 301.3 100.2 304 89.8 303.9 90.3 297.5 95.5 294.6ZM115.2 301.3 113.8 307 108.7 309.6 99.1 309.8 100.2 304 105.3 301.3ZM123 306.7 121 311.9 116 314.4 107.1 314.9 108.7 309.6 113.8 307ZM129.7 311.4 127.3 316.2 122.3 318.6 113.9 319.3 116 314.4 121 311.9ZM135.4 315.4 132.6 319.8 127.7 322.1 119.7 323 122.3 318.6 127.3 316.2ZM140.4 318.9 137.3 322.9 132.3 325.2 124.7 326.2 127.7 322.1 132.6 319.8ZM144.7 321.9 141.2 325.6 136.2 327.8 129 328.9 132.3 325.2 137.3 322.9ZM49.4 270.5 51.3 279.3 45.6 282.4 30.6 280.5 27.8 271.3 33.9 268.1ZM65.2 280.9 66.2 288.8 60.7 291.8 47.3 290.6 45.6 282.4 51.3 279.3ZM78.7 289.8 78.9 296.9 73.6 299.8 61.6 299.1 60.7 291.8 66.2 288.8ZM90.3 297.5 89.8 303.9 84.7 306.6 73.7 306.4 73.6 299.8 78.9 296.9ZM100.2 304 99.1 309.8 94.1 312.5 84 312.6 84.7 306.6 89.8 303.9ZM108.7 309.6 107.1 314.9 102.1 317.5 92.8 317.9 94.1 312.5 99.1 309.8ZM116 314.4 113.9 319.3 108.9 321.7 100.2 322.4 102.1 317.5 107.1 314.9ZM122.3 318.6 119.7 323 114.8 325.3 106.6 326.2 108.9 321.7 113.9 319.3ZM127.7 322.1 124.7 326.2 119.7 328.4 112 329.4 114.8 325.3 119.7 323ZM132.3 325.2 129 328.9 124 331.1 116.6 332.2 119.7 328.4 124.7 326.2ZM45.6 282.4 47.3 290.6 41.7 293.6 27.3 292.2 24.7 283.6 30.6 280.5ZM60.7 291.8 61.6 299.1 56.2 302 43.3 301.2 41.7 293.6 47.3 290.6ZM73.6 299.8 73.7 306.4 68.5 309.2 56.9 308.9 56.2 302 61.6 299.1ZM84.7 306.6 84 312.6 78.9 315.3 68.3 315.3 68.5 309.2 73.7 306.4ZM94.1 312.5 92.8 317.9 87.7 320.4 78 320.8 78.9 315.3 84 312.6ZM102.1 317.5 100.2 322.4 95.2 324.8 86.2 325.4 87.7 320.4 92.8 317.9ZM108.9 321.7 106.6 326.2 101.6 328.5 93.2 329.4 95.2 324.8 100.2 322.4ZM114.8 325.3 112 329.4 107 331.7 99.1 332.7 101.6 328.5 106.6 326.2ZM119.7 328.4 116.6 332.2 111.6 334.4 104 335.5 107 331.7 112 329.4ZM24.7 283.6 27.3 292.2 21.5 295.3 5.9 293.6 2.3 284.7 8.4 281.5ZM41.7 293.6 43.3 301.2 37.8 304.2 23.9 303.2 21.5 295.3 27.3 292.2ZM56.2 302 56.9 308.9 51.6 311.7 39.2 311.2 37.8 304.2 43.3 301.2ZM68.5 309.2 68.3 315.3 63.2 318 52 318 51.6 311.7 56.9 308.9ZM78.9 315.3 78 320.8 73 323.4 62.7 323.7 63.2 318 68.3 315.3ZM87.7 320.4 86.2 325.4 81.2 327.9 71.8 328.5 73 323.4 78 320.8ZM95.2 324.8 93.2 329.4 88.2 331.7 79.5 332.5 81.2 327.9 86.2 325.4ZM101.6 328.5 99.1 332.7 94.1 335 85.9 335.9 88.2 331.7 93.2 329.4ZM21.5 295.3 23.9 303.2 18.3 306.2 3.3 305 -0.1 296.8 5.9 293.6ZM37.8 304.2 39.2 311.2 33.8 314.1 20.5 313.5 18.3 306.2 23.9 303.2ZM51.6 311.7 52 318 46.8 320.7 34.8 320.6 33.8 314.1 39.2 311.2ZM63.2 318 62.7 323.7 57.7 326.3 46.9 326.5 46.8 320.7 52 318ZM73 323.4 71.8 328.5 66.8 331 57 331.5 57.7 326.3 62.7 323.7ZM81.2 327.9 79.5 332.5 74.5 334.9 65.4 335.7 66.8 331 71.8 328.5ZM88.2 331.7 85.9 335.9 80.9 338.2 72.5 339.2 74.5 334.9 79.5 332.5ZM-0.1 296.8 3.3 305 -2.5 308.1 -18.9 306.8 -23.2 298.2 -17.2 294.9ZM18.3 306.2 20.5 313.5 14.8 316.3 0.2 315.5 -2.5 308.1 3.3 305ZM33.8 314.1 34.8 320.6 29.3 323.3 16.2 322.9 14.8 316.3 20.5 313.5ZM46.8 320.7 46.9 326.5 41.4 329.1 29.5 329 29.3 323.3 34.8 320.6ZM57.7 326.3 57 331.5 51.6 333.9 40.7 334.2 41.4 329.1 46.9 326.5ZM66.8 331 65.4 335.7 60.1 338 50.1 338.5 51.6 333.9 57 331.5ZM74.5 334.9 72.5 339.2 67.2 341.4 57.9 342.1 60.1 338 65.4 335.7ZM-2.5 308.1 0.2 315.5 -5.6 318.4 -21.1 317.6 -24.8 309.9 -18.9 306.8ZM14.8 316.3 16.2 322.9 10.5 325.6 -3.4 325.2 -5.6 318.4 0.2 315.5ZM29.3 323.3 29.5 329 23.9 331.6 11.4 331.5 10.5 325.6 16.2 322.9ZM41.4 329.1 40.7 334.2 35.2 336.6 23.8 336.8 23.9 331.6 29.5 329ZM51.6 333.9 50.1 338.5 44.6 340.7 34.1 341.3 35.2 336.6 40.7 334.2ZM60.1 338 57.9 342.1 52.5 344.2 42.8 345 44.6 340.7 50.1 338.5ZM-5.6 318.4 -3.4 325.2 -9.2 328 -24 327.6 -27 320.7 -21.1 317.6ZM10.5 325.6 11.4 331.5 5.7 334.1 -7.6 334.1 -9.2 328 -3.4 325.2ZM23.9 331.6 23.8 336.8 18.2 339.3 6.2 339.6 5.7 334.1 11.4 331.5ZM35.2 336.6 34.1 341.3 28.6 343.6 17.7 344.1 18.2 339.3 23.8 336.8ZM44.6 340.7 42.8 345 37.4 347.2 27.3 347.9 28.6 343.6 34.1 341.3ZM-9.2 328 -7.6 334.1 -13.3 336.8 -27.4 336.9 -29.8 330.6 -24 327.6ZM5.7 334.1 6.2 339.6 0.5 342.1 -12.2 342.4 -13.3 336.8 -7.6 334.1ZM18.2 339.3 17.7 344.1 12.1 346.5 0.6 347 0.5 342.1 6.2 339.6ZM28.6 343.6 27.3 347.9 21.8 350.2 11.2 350.9 12.1 346.5 17.7 344.1ZM-13.3 336.8 -12.2 342.4 -17.8 345 -31.3 345.4 -33.1 339.7 -27.4 336.9ZM0.5 342.1 0.6 347 -5 349.5 -17.2 350.1 -17.8 345 -12.2 342.4ZM12.1 346.5 11.2 350.9 5.7 353.2 -5.4 354 -5 349.5 0.6 347ZM-17.8 345 -17.2 350.1 -22.8 352.6 -35.7 353.3 -37 348.1 -31.3 345.4ZM-5 349.5 -5.4 354 -10.9 356.4 -22.7 357.3 -22.8 352.6 -17.2 350.1Z" fill="none" stroke="#f2f2f2" stroke-width="2.3"/>

<!-- PP block -->
<path d="M408.6 302 L431 284 L426 300 L393 359 L350 419 L287 487 L284.4 452 Z" fill="#cbcbcb"/>
<path d="M409.2 302.5 L409.2 331.1" stroke="#f5f5f5" stroke-width="1.3" fill="none"/>
<path d="M410.9 303 L410.9 327.1" stroke="#a8a8a8" stroke-width="0.9" fill="none"/>
<path d="M406.3 306.8 L406.3 336.4" stroke="#f5f5f5" stroke-width="1.5" fill="none"/>
<path d="M408.2 307.3 L408.2 331.8" stroke="#a8a8a8" stroke-width="0.9" fill="none"/>
<path d="M403 311.8 L403 342.5" stroke="#f5f5f5" stroke-width="1.6" fill="none"/>
<path d="M404.9 312.3 L404.9 337.7" stroke="#a8a8a8" stroke-width="0.9" fill="none"/>
<path d="M399.4 317.1 L399.4 348.9" stroke="#f5f5f5" stroke-width="1.7" fill="none"/>
<path d="M401.4 317.6 L401.4 343.9" stroke="#a8a8a8" stroke-width="0.9" fill="none"/>
<path d="M395.7 322.5 L395.7 355.5" stroke="#f5f5f5" stroke-width="1.7" fill="none"/>
<path d="M397.8 323 L397.8 350.4" stroke="#a8a8a8" stroke-width="0.9" fill="none"/>
<path d="M391.9 328 L391.9 361.6" stroke="#f5f5f5" stroke-width="1.7" fill="none"/>
<path d="M394.1 328.5 L394.1 357.1" stroke="#a8a8a8" stroke-width="0.9" fill="none"/>
<path d="M388.1 333.7 L388.1 367" stroke="#f5f5f5" stroke-width="1.8" fill="none"/>
<path d="M390.2 334.2 L390.2 362.9" stroke="#a8a8a8" stroke-width="0.9" fill="none"/>
<path d="M384.1 339.5 L384.1 372.5" stroke="#f5f5f5" stroke-width="1.8" fill="none"/>
<path d="M386.3 340 L386.3 368.3" stroke="#a8a8a8" stroke-width="0.9" fill="none"/>
<path d="M380.1 345.3 L380.1 378.1" stroke="#f5f5f5" stroke-width="1.8" fill="none"/>
<path d="M382.4 345.8 L382.4 373.8" stroke="#a8a8a8" stroke-width="0.9" fill="none"/>
<path d="M376.1 351.3 L376.1 383.7" stroke="#f5f5f5" stroke-width="1.8" fill="none"/>
<path d="M378.3 351.8 L378.3 379.5" stroke="#a8a8a8" stroke-width="0.9" fill="none"/>
<path d="M372.1 357.2 L372.1 389.5" stroke="#f5f5f5" stroke-width="2.1" fill="none"/>
<path d="M374.7 357.7 L374.7 384.5" stroke="#a8a8a8" stroke-width="0.9" fill="none"/>
<path d="M367.5 363.3 L367.5 396.1" stroke="#f5f5f5" stroke-width="2.3" fill="none"/>
<path d="M370.3 363.8 L370.3 390.7" stroke="#a8a8a8" stroke-width="0.9" fill="none"/>
<path d="M362.3 369.4 L362.3 403.2" stroke="#f5f5f5" stroke-width="2.3" fill="none"/>
<path d="M365.2 369.9 L365.2 397.8" stroke="#a8a8a8" stroke-width="0.9" fill="none"/>
<path d="M357.2 375.6 L357.2 410.5" stroke="#f5f5f5" stroke-width="2.4" fill="none"/>
<path d="M360 376.1 L360 405" stroke="#a8a8a8" stroke-width="0.9" fill="none"/>
<path d="M351.9 381.8 L351.9 417.8" stroke="#f5f5f5" stroke-width="2.4" fill="none"/>
<path d="M354.8 382.3 L354.8 412.3" stroke="#a8a8a8" stroke-width="0.9" fill="none"/>
<path d="M346.7 388 L346.7 423.7" stroke="#f5f5f5" stroke-width="2.4" fill="none"/>
<path d="M349.6 388.5 L349.6 419.4" stroke="#a8a8a8" stroke-width="0.9" fill="none"/>
<path d="M341.4 394.3 L341.4 429.4" stroke="#f5f5f5" stroke-width="2.4" fill="none"/>
<path d="M344.3 394.8 L344.3 425.1" stroke="#a8a8a8" stroke-width="0.9" fill="none"/>
<path d="M336.1 400.6 L336.1 435.2" stroke="#f5f5f5" stroke-width="2.4" fill="none"/>
<path d="M339 401.1 L339 430.9" stroke="#a8a8a8" stroke-width="0.9" fill="none"/>
<path d="M330.7 407 L330.7 441" stroke="#f5f5f5" stroke-width="2.4" fill="none"/>
<path d="M333.7 407.5 L333.7 436.6" stroke="#a8a8a8" stroke-width="0.9" fill="none"/>
<path d="M325.3 413.4 L325.3 446.8" stroke="#f5f5f5" stroke-width="2.5" fill="none"/>
<path d="M328.4 413.9 L328.4 442.4" stroke="#a8a8a8" stroke-width="0.9" fill="none"/>
<path d="M320.1 419.9 L320.1 452.7" stroke="#f5f5f5" stroke-width="3.1" fill="none"/>
<path d="M323.9 420.4 L323.9 447.2" stroke="#a8a8a8" stroke-width="0.9" fill="none"/>
<path d="M313.3 426.3 L313.3 460.1" stroke="#f5f5f5" stroke-width="3.1" fill="none"/>
<path d="M317.1 426.8 L317.1 454.5" stroke="#a8a8a8" stroke-width="0.9" fill="none"/>
<path d="M306.5 432.8 L306.5 467.4" stroke="#f5f5f5" stroke-width="3.1" fill="none"/>
<path d="M310.3 433.3 L310.3 461.9" stroke="#a8a8a8" stroke-width="0.9" fill="none"/>
<path d="M299.6 439.4 L299.6 474.9" stroke="#f5f5f5" stroke-width="3.1" fill="none"/>
<path d="M303.4 439.9 L303.4 469.3" stroke="#a8a8a8" stroke-width="0.9" fill="none"/>
<path d="M292.7 445.9 L292.7 482.3" stroke="#f5f5f5" stroke-width="3.1" fill="none"/>
<path d="M296.5 446.4 L296.5 476.7" stroke="#a8a8a8" stroke-width="0.9" fill="none"/>
<path d="M285.2 452.5 L285.2 487" stroke="#f5f5f5" stroke-width="1.8" fill="none"/>
<path d="M287.4 453 L287.4 486.5" stroke="#a8a8a8" stroke-width="0.9" fill="none"/>
<g clip-path="url(#ppTop)">
<rect x="-5" y="280" width="440" height="210" fill="#ededed"/>
<path d="M-5 352.8 L410 304.3 L408.7 306.3 L-5 353.5 Z" fill="#6c6c6c"/>
<path d="M-5 352.4 L410.9 303 L410 304.3 L-5 352.8 Z" fill="#a5a5a5"/>
<path d="M-5 354.8 L406.8 309.1 L405.3 311.3 L-5 355.7 Z" fill="#6f6f6f"/>
<path d="M-5 354.1 L407.8 307.6 L406.8 309.1 L-5 354.8 Z" fill="#a7a7a7"/>
<path d="M-5 357.2 L403.2 314.3 L401.7 316.6 L-5 358.4 Z" fill="#727272"/>
<path d="M-5 356.4 L404.3 312.7 L403.2 314.3 L-5 357.2 Z" fill="#a9a9a9"/>
<path d="M-5 360 L399.5 319.7 L398 322 L-5 361.2 Z" fill="#757575"/>
<path d="M-5 359.1 L400.6 318.1 L399.5 319.7 L-5 360 Z" fill="#ababab"/>
<path d="M-5 363.1 L395.7 325.2 L394.2 327.5 L-5 364.3 Z" fill="#787878"/>
<path d="M-5 362.1 L396.9 323.6 L395.7 325.2 L-5 363.1 Z" fill="#adadad"/>
<path d="M-5 366.3 L391.8 330.9 L390.3 333.2 L-5 367.6 Z" fill="#7c7c7c"/>
<path d="M-5 365.3 L393 329.2 L391.8 330.9 L-5 366.3 Z" fill="#b0b0b0"/>
<path d="M-5 369.8 L387.9 336.7 L386.3 339 L-5 371.1 Z" fill="#7f7f7f"/>
<path d="M-5 368.7 L389 335 L387.9 336.7 L-5 369.8 Z" fill="#b2b2b2"/>
<path d="M-5 373.4 L383.8 342.6 L382.3 344.8 L-5 374.7 Z" fill="#828282"/>
<path d="M-5 372.3 L385 340.9 L383.8 342.6 L-5 373.4 Z" fill="#b4b4b4"/>
<path d="M-5 377.1 L379.7 348.6 L378.3 350.8 L-5 378.5 Z" fill="#858585"/>
<path d="M-5 376 L381 346.8 L379.7 348.6 L-5 377.1 Z" fill="#b6b6b6"/>
<path d="M-5 381 L375.6 354.6 L374.2 356.7 L-5 382.4 Z" fill="#888888"/>
<path d="M-5 379.9 L376.8 352.8 L375.6 354.6 L-5 381 Z" fill="#b8b8b8"/>
<path d="M-5 385 L371 360.7 L369.4 362.8 L-5 386.4 Z" fill="#8c8c8c"/>
<path d="M-5 383.8 L372.5 358.9 L371 360.7 L-5 385 Z" fill="#bbbbbb"/>
<path d="M-5 389.2 L366 366.9 L364.3 368.9 L-5 390.5 Z" fill="#8f8f8f"/>
<path d="M-5 387.9 L367.5 365.1 L366 366.9 L-5 389.2 Z" fill="#bdbdbd"/>
<path d="M-5 393.4 L360.7 373.1 L359.1 375.1 L-5 394.7 Z" fill="#929292"/>
<path d="M-5 392.1 L362.3 371.3 L360.7 373.1 L-5 393.4 Z" fill="#bfbfbf"/>
<path d="M-5 397.7 L355.5 379.4 L353.9 381.3 L-5 399.1 Z" fill="#959595"/>
<path d="M-5 396.4 L357 377.5 L355.5 379.4 L-5 397.7 Z" fill="#c1c1c1"/>
<path d="M-5 402.2 L350.2 385.7 L348.6 387.5 L-5 403.5 Z" fill="#989898"/>
<path d="M-5 400.9 L351.7 383.8 L350.2 385.7 L-5 402.2 Z" fill="#c3c3c3"/>
<path d="M-5 406.7 L344.8 392 L343.3 393.8 L-5 408 Z" fill="#9c9c9c"/>
<path d="M-5 405.4 L346.4 390.2 L344.8 392 L-5 406.7 Z" fill="#c6c6c6"/>
<path d="M-5 411.3 L339.4 398.4 L338 400.1 L-5 412.6 Z" fill="#9f9f9f"/>
<path d="M-5 410 L341 396.5 L339.4 398.4 L-5 411.3 Z" fill="#c8c8c8"/>
<path d="M-5 416 L334 404.9 L332.6 406.5 L-5 417.2 Z" fill="#a2a2a2"/>
<path d="M-5 414.6 L335.6 403 L334 404.9 L-5 416 Z" fill="#cacaca"/>
<path d="M-5 420.8 L328.6 411.4 L327.2 412.9 L-5 422 Z" fill="#a5a5a5"/>
<path d="M-5 419.4 L330.2 409.4 L328.6 411.4 L-5 420.8 Z" fill="#cccccc"/>
<path d="M-5 425.7 L323 417.9 L321.8 419.4 L-5 426.8 Z" fill="#a8a8a8"/>
<path d="M-5 424.3 L324.7 415.9 L323 417.9 L-5 425.7 Z" fill="#cecece"/>
<path d="M-5 430.6 L316.4 424.4 L315 425.8 L-5 431.7 Z" fill="#acacac"/>
<path d="M-5 429.2 L318.5 422.5 L316.4 424.4 L-5 430.6 Z" fill="#d1d1d1"/>
<path d="M-5 435.7 L309.5 431 L308.1 432.3 L-5 436.7 Z" fill="#afafaf"/>
<path d="M-5 434.2 L311.6 429 L309.5 431 L-5 435.7 Z" fill="#d3d3d3"/>
<path d="M-5 440.7 L302.6 437.6 L301.2 438.9 L-5 441.7 Z" fill="#b2b2b2"/>
<path d="M-5 439.2 L304.7 435.6 L302.6 437.6 L-5 440.7 Z" fill="#d5d5d5"/>
<path d="M-5 445.9 L295.6 444.2 L294.4 445.4 L-5 446.8 Z" fill="#b5b5b5"/>
<path d="M-5 444.4 L297.7 442.2 L295.6 444.2 L-5 445.9 Z" fill="#d7d7d7"/>
<path d="M-5 451.1 L288.6 450.9 L287.4 452 L-5 452 Z" fill="#b8b8b8"/>
<path d="M-5 449.6 L290.7 448.9 L288.6 450.9 L-5 451.1 Z" fill="#d9d9d9"/>
<path d="M-5 452 L285.4 452 L287 487.5 L-5 489 Z" fill="#f4f4f4"/>
<path d="M-5 455 L286.4 454" stroke="#c4c4c4" stroke-width="1.2" fill="none"/>
<path d="M-5 467 L293 466" stroke="#c0c0c0" stroke-width="1.1" fill="none"/>
<path d="M-5 476 L291 476" stroke="#b8b8b8" stroke-width="1.2" fill="none"/>
<path d="M-5 486.5 L287 486.5" stroke="#d0d0d0" stroke-width="1.5" fill="none"/>
</g>

<!-- dots and leader lines -->
<g stroke="#6f5a43" stroke-width="1.25">
  <line x1="314" y1="82.25" x2="450.5" y2="82.25"/>
  <line x1="314" y1="234.3" x2="473.5" y2="234.3"/>
  <line x1="314" y1="393.3" x2="473.8" y2="393.3"/>
  <line x1="314" y1="563.3" x2="466" y2="563.3"/>
  <line x1="314" y1="725.5" x2="468.5" y2="725.5"/>
</g>
<g fill="#fff">
  <circle cx="308.3" cy="82.3" r="6.4"/><circle cx="308.5" cy="234.4" r="6.4"/><circle cx="308.3" cy="393.3" r="6.4"/><circle cx="308.2" cy="563.2" r="6.4"/><circle cx="308.2" cy="725.3" r="6.4"/>
</g>
<g fill="#7a5a36">
  <circle cx="308.3" cy="82.3" r="3.4"/><circle cx="308.5" cy="234.4" r="3.4"/><circle cx="308.3" cy="393.3" r="3.4"/><circle cx="308.2" cy="563.2" r="3.4"/><circle cx="308.2" cy="725.3" r="3.4"/>
</g>

<text x="453.5" y="91.6" textLength="162.5" lengthAdjust="spacingAndGlyphs">Cationic fabric</text>
<text x="473.75" y="244.2" textLength="256.75" lengthAdjust="spacingAndGlyphs">Nano waterproof layer</text>
<text x="475" y="401" textLength="186.75" lengthAdjust="spacingAndGlyphs">Built in PP board</text>
<text x="466" y="570.2" textLength="254.75" lengthAdjust="spacingAndGlyphs">Nano waterproof layer</text>
<text x="469" y="734" textLength="212.25" lengthAdjust="spacingAndGlyphs">Oxford cloth lining</text>
</svg>
</body></html>
